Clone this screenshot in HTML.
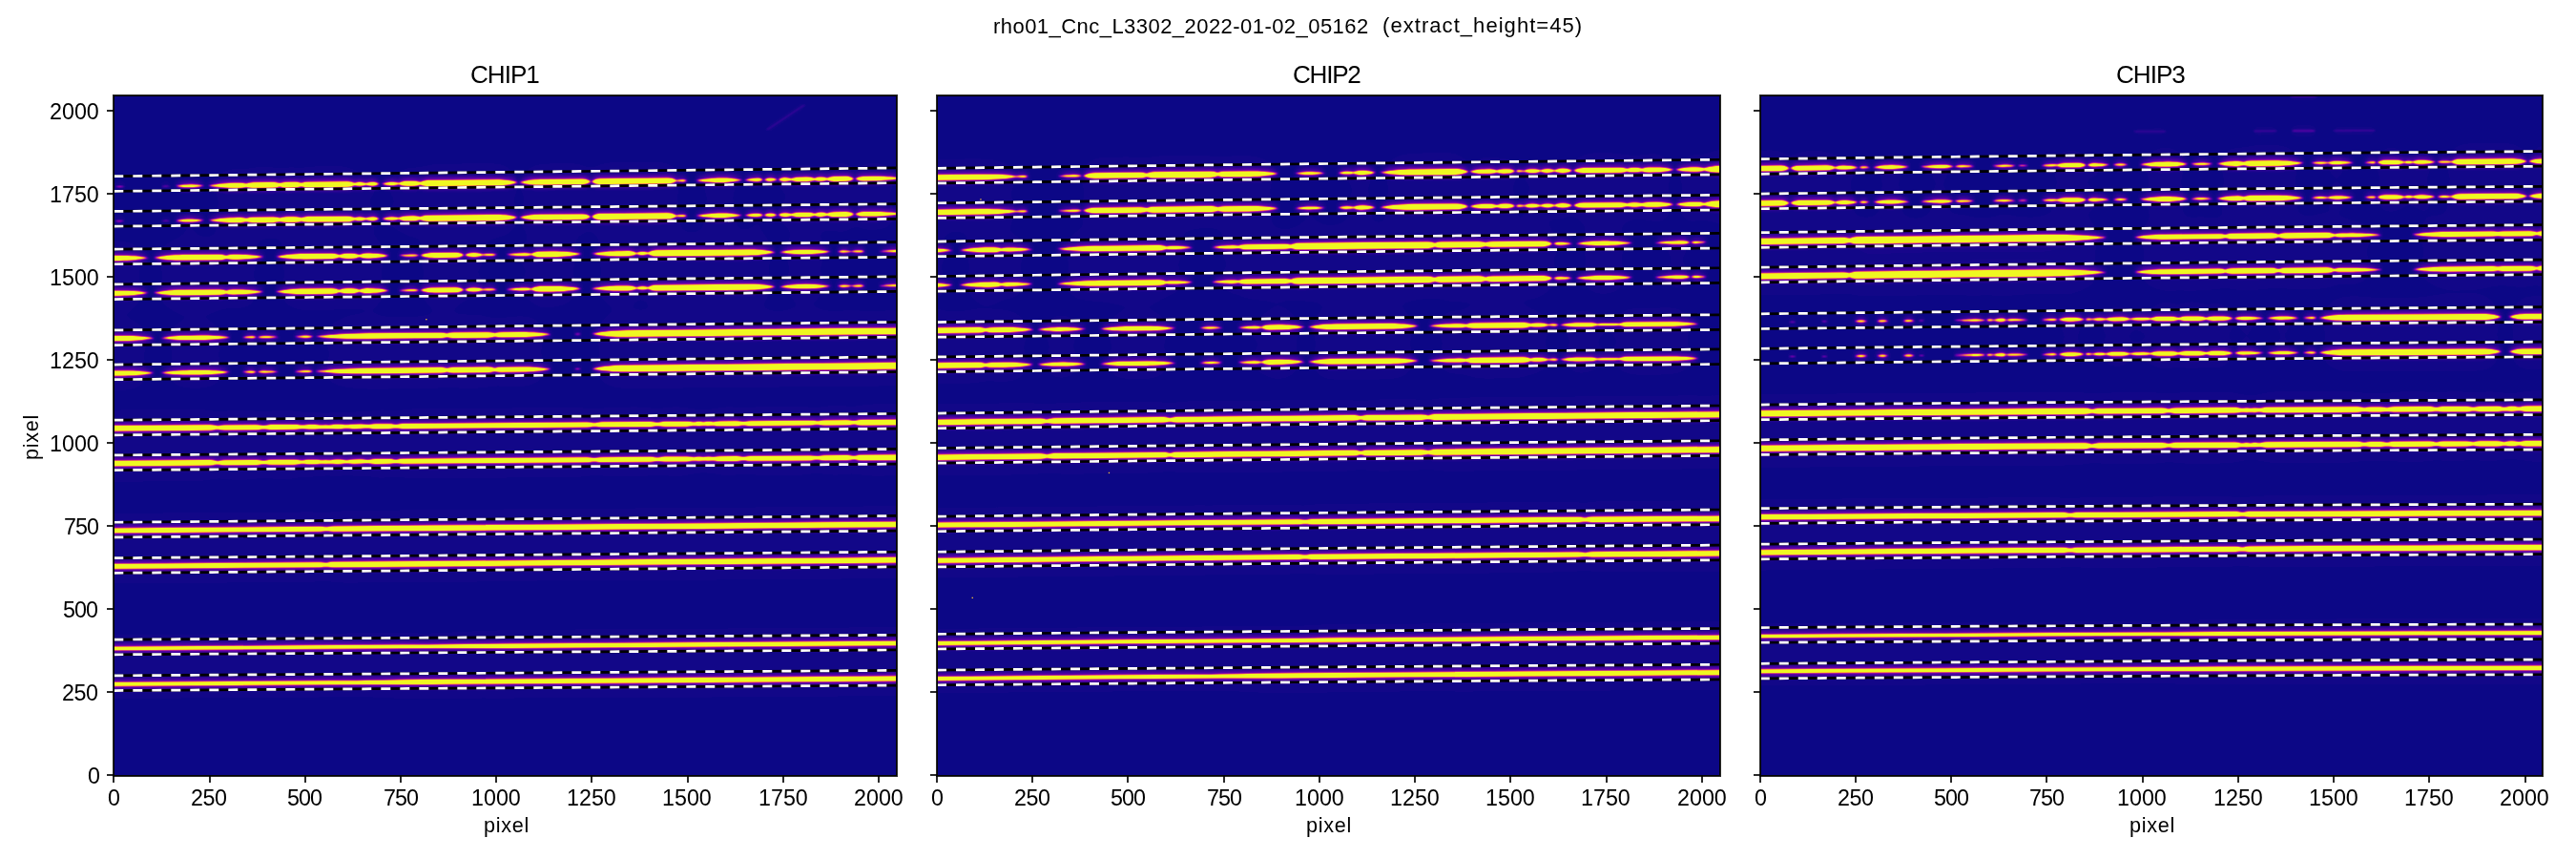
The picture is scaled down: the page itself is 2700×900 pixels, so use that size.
<!DOCTYPE html>
<html><head><meta charset="utf-8"><title>plot</title>
<style>
html,body{margin:0;padding:0;background:#fff;}
body{width:2700px;height:900px;position:relative;overflow:hidden;font-family:"Liberation Sans",sans-serif;color:#000;}
.t{position:absolute;white-space:pre;line-height:1;margin:0;padding:0;}
</style></head><body>
<svg width="2700" height="900" viewBox="0 0 2700 900" style="position:absolute;left:0;top:0"><defs><filter id="pl1" filterUnits="userSpaceOnUse" x="89.1" y="69.71" width="880.97" height="772.87" color-interpolation-filters="sRGB"><feGaussianBlur in="SourceGraphic" stdDeviation="0.9 0" result="b1a"/><feConvolveMatrix in="b1a" order="1 3" kernelMatrix="0.25 0.5 0.25" divisor="1" edgeMode="duplicate" preserveAlpha="true" result="b1"/><feGaussianBlur in="SourceGraphic" stdDeviation="2.5 3.4" result="b2"/><feGaussianBlur in="SourceGraphic" stdDeviation="8.0 14.0" result="b3"/><feComposite in="b1" in2="b2" operator="arithmetic" k1="0" k2="0.66" k3="0.34" k4="0" result="s0"/><feComposite in="s0" in2="b3" operator="arithmetic" k1="0" k2="1" k3="0.035" k4="0" result="s"/><feComponentTransfer in="s"><feFuncR type="table" tableValues="0.0504 0.1060 0.1486 0.1862 0.2212 0.2480 0.2806 0.3125 0.3439 0.3749 0.4055 0.4297 0.4596 0.4891 0.5179 0.5462 0.5736 0.5950 0.6209 0.6459 0.6698 0.6928 0.7149 0.7319 0.7523 0.7720 0.7909 0.8091 0.8266 0.8435 0.8565 0.8723 0.8874 0.9018 0.9155 0.9283 0.9380 0.9492 0.9594 0.9685 0.9764 0.9830 0.9873 0.9914 0.9938 0.9946 0.9935 0.9904 0.9865 0.9796 0.9705 0.9593 0.9466 0.9400 0.9400 0.9400 0.9400 0.9400 0.9400 0.9400 0.9400 0.9400 0.9400 0.9400 0.9400 0.9400 0.9400 0.9400 0.9400 0.9400 0.9400 0.9400 0.9400 0.9400 0.9400 0.9400 0.9400 0.9400 0.9400 0.9400 0.9400 0.9400 0.9400 0.9400 0.9400 0.9400 0.9400 0.9400 0.9400 0.9400 0.9400 0.9400 0.9400 0.9400 0.9400 0.9400"/><feFuncG type="table" tableValues="0.0298 0.0243 0.0212 0.0188 0.0165 0.0144 0.0115 0.0082 0.0050 0.0022 0.0007 0.0008 0.0036 0.0101 0.0216 0.0390 0.0600 0.0772 0.0989 0.1209 0.1430 0.1651 0.1873 0.2050 0.2271 0.2492 0.2713 0.2935 0.3157 0.3381 0.3561 0.3788 0.4018 0.4251 0.4488 0.4730 0.4927 0.5178 0.5434 0.5697 0.5966 0.6241 0.6466 0.6754 0.7047 0.7348 0.7655 0.7969 0.8224 0.8549 0.8879 0.9214 0.9552 0.9752 0.9752 0.9752 0.9752 0.9752 0.9752 0.9752 0.9752 0.9752 0.9752 0.9752 0.9752 0.9752 0.9752 0.9752 0.9752 0.9752 0.9752 0.9752 0.9752 0.9752 0.9752 0.9752 0.9752 0.9752 0.9752 0.9752 0.9752 0.9752 0.9752 0.9752 0.9752 0.9752 0.9752 0.9752 0.9752 0.9752 0.9752 0.9752 0.9752 0.9752 0.9752 0.9752"/><feFuncB type="table" tableValues="0.5280 0.5514 0.5706 0.5872 0.6021 0.6129 0.6250 0.6357 0.6447 0.6519 0.6570 0.6594 0.6603 0.6585 0.6541 0.6470 0.6373 0.6279 0.6143 0.5989 0.5822 0.5645 0.5463 0.5316 0.5131 0.4948 0.4767 0.4589 0.4413 0.4240 0.4103 0.3934 0.3765 0.3597 0.3429 0.3261 0.3126 0.2957 0.2787 0.2617 0.2448 0.2279 0.2146 0.1985 0.1830 0.1689 0.1569 0.1479 0.1436 0.1425 0.1459 0.1516 0.1503 0.1313 0.1313 0.1313 0.1313 0.1313 0.1313 0.1313 0.1313 0.1313 0.1313 0.1313 0.1313 0.1313 0.1313 0.1313 0.1313 0.1313 0.1313 0.1313 0.1313 0.1313 0.1313 0.1313 0.1313 0.1313 0.1313 0.1313 0.1313 0.1313 0.1313 0.1313 0.1313 0.1313 0.1313 0.1313 0.1313 0.1313 0.1313 0.1313 0.1313 0.1313 0.1313 0.1313"/><feFuncA type="linear" slope="0" intercept="1"/></feComponentTransfer></filter><clipPath id="cp1"><rect x="119.1" y="99.71" width="820.97" height="712.87"/></clipPath><filter id="pl2" filterUnits="userSpaceOnUse" x="951.83" y="69.71" width="880.9599999999999" height="772.87" color-interpolation-filters="sRGB"><feGaussianBlur in="SourceGraphic" stdDeviation="0.9 0" result="b1a"/><feConvolveMatrix in="b1a" order="1 3" kernelMatrix="0.25 0.5 0.25" divisor="1" edgeMode="duplicate" preserveAlpha="true" result="b1"/><feGaussianBlur in="SourceGraphic" stdDeviation="2.5 3.4" result="b2"/><feGaussianBlur in="SourceGraphic" stdDeviation="8.0 14.0" result="b3"/><feComposite in="b1" in2="b2" operator="arithmetic" k1="0" k2="0.66" k3="0.34" k4="0" result="s0"/><feComposite in="s0" in2="b3" operator="arithmetic" k1="0" k2="1" k3="0.035" k4="0" result="s"/><feComponentTransfer in="s"><feFuncR type="table" tableValues="0.0504 0.1060 0.1486 0.1862 0.2212 0.2480 0.2806 0.3125 0.3439 0.3749 0.4055 0.4297 0.4596 0.4891 0.5179 0.5462 0.5736 0.5950 0.6209 0.6459 0.6698 0.6928 0.7149 0.7319 0.7523 0.7720 0.7909 0.8091 0.8266 0.8435 0.8565 0.8723 0.8874 0.9018 0.9155 0.9283 0.9380 0.9492 0.9594 0.9685 0.9764 0.9830 0.9873 0.9914 0.9938 0.9946 0.9935 0.9904 0.9865 0.9796 0.9705 0.9593 0.9466 0.9400 0.9400 0.9400 0.9400 0.9400 0.9400 0.9400 0.9400 0.9400 0.9400 0.9400 0.9400 0.9400 0.9400 0.9400 0.9400 0.9400 0.9400 0.9400 0.9400 0.9400 0.9400 0.9400 0.9400 0.9400 0.9400 0.9400 0.9400 0.9400 0.9400 0.9400 0.9400 0.9400 0.9400 0.9400 0.9400 0.9400 0.9400 0.9400 0.9400 0.9400 0.9400 0.9400"/><feFuncG type="table" tableValues="0.0298 0.0243 0.0212 0.0188 0.0165 0.0144 0.0115 0.0082 0.0050 0.0022 0.0007 0.0008 0.0036 0.0101 0.0216 0.0390 0.0600 0.0772 0.0989 0.1209 0.1430 0.1651 0.1873 0.2050 0.2271 0.2492 0.2713 0.2935 0.3157 0.3381 0.3561 0.3788 0.4018 0.4251 0.4488 0.4730 0.4927 0.5178 0.5434 0.5697 0.5966 0.6241 0.6466 0.6754 0.7047 0.7348 0.7655 0.7969 0.8224 0.8549 0.8879 0.9214 0.9552 0.9752 0.9752 0.9752 0.9752 0.9752 0.9752 0.9752 0.9752 0.9752 0.9752 0.9752 0.9752 0.9752 0.9752 0.9752 0.9752 0.9752 0.9752 0.9752 0.9752 0.9752 0.9752 0.9752 0.9752 0.9752 0.9752 0.9752 0.9752 0.9752 0.9752 0.9752 0.9752 0.9752 0.9752 0.9752 0.9752 0.9752 0.9752 0.9752 0.9752 0.9752 0.9752 0.9752"/><feFuncB type="table" tableValues="0.5280 0.5514 0.5706 0.5872 0.6021 0.6129 0.6250 0.6357 0.6447 0.6519 0.6570 0.6594 0.6603 0.6585 0.6541 0.6470 0.6373 0.6279 0.6143 0.5989 0.5822 0.5645 0.5463 0.5316 0.5131 0.4948 0.4767 0.4589 0.4413 0.4240 0.4103 0.3934 0.3765 0.3597 0.3429 0.3261 0.3126 0.2957 0.2787 0.2617 0.2448 0.2279 0.2146 0.1985 0.1830 0.1689 0.1569 0.1479 0.1436 0.1425 0.1459 0.1516 0.1503 0.1313 0.1313 0.1313 0.1313 0.1313 0.1313 0.1313 0.1313 0.1313 0.1313 0.1313 0.1313 0.1313 0.1313 0.1313 0.1313 0.1313 0.1313 0.1313 0.1313 0.1313 0.1313 0.1313 0.1313 0.1313 0.1313 0.1313 0.1313 0.1313 0.1313 0.1313 0.1313 0.1313 0.1313 0.1313 0.1313 0.1313 0.1313 0.1313 0.1313 0.1313 0.1313 0.1313"/><feFuncA type="linear" slope="0" intercept="1"/></feComponentTransfer></filter><clipPath id="cp2"><rect x="981.83" y="99.71" width="820.9599999999999" height="712.87"/></clipPath><filter id="pl3" filterUnits="userSpaceOnUse" x="1814.56" y="69.71" width="880.96" height="772.87" color-interpolation-filters="sRGB"><feGaussianBlur in="SourceGraphic" stdDeviation="0.9 0" result="b1a"/><feConvolveMatrix in="b1a" order="1 3" kernelMatrix="0.25 0.5 0.25" divisor="1" edgeMode="duplicate" preserveAlpha="true" result="b1"/><feGaussianBlur in="SourceGraphic" stdDeviation="2.5 3.4" result="b2"/><feGaussianBlur in="SourceGraphic" stdDeviation="8.0 14.0" result="b3"/><feComposite in="b1" in2="b2" operator="arithmetic" k1="0" k2="0.66" k3="0.34" k4="0" result="s0"/><feComposite in="s0" in2="b3" operator="arithmetic" k1="0" k2="1" k3="0.035" k4="0" result="s"/><feComponentTransfer in="s"><feFuncR type="table" tableValues="0.0504 0.1060 0.1486 0.1862 0.2212 0.2480 0.2806 0.3125 0.3439 0.3749 0.4055 0.4297 0.4596 0.4891 0.5179 0.5462 0.5736 0.5950 0.6209 0.6459 0.6698 0.6928 0.7149 0.7319 0.7523 0.7720 0.7909 0.8091 0.8266 0.8435 0.8565 0.8723 0.8874 0.9018 0.9155 0.9283 0.9380 0.9492 0.9594 0.9685 0.9764 0.9830 0.9873 0.9914 0.9938 0.9946 0.9935 0.9904 0.9865 0.9796 0.9705 0.9593 0.9466 0.9400 0.9400 0.9400 0.9400 0.9400 0.9400 0.9400 0.9400 0.9400 0.9400 0.9400 0.9400 0.9400 0.9400 0.9400 0.9400 0.9400 0.9400 0.9400 0.9400 0.9400 0.9400 0.9400 0.9400 0.9400 0.9400 0.9400 0.9400 0.9400 0.9400 0.9400 0.9400 0.9400 0.9400 0.9400 0.9400 0.9400 0.9400 0.9400 0.9400 0.9400 0.9400 0.9400"/><feFuncG type="table" tableValues="0.0298 0.0243 0.0212 0.0188 0.0165 0.0144 0.0115 0.0082 0.0050 0.0022 0.0007 0.0008 0.0036 0.0101 0.0216 0.0390 0.0600 0.0772 0.0989 0.1209 0.1430 0.1651 0.1873 0.2050 0.2271 0.2492 0.2713 0.2935 0.3157 0.3381 0.3561 0.3788 0.4018 0.4251 0.4488 0.4730 0.4927 0.5178 0.5434 0.5697 0.5966 0.6241 0.6466 0.6754 0.7047 0.7348 0.7655 0.7969 0.8224 0.8549 0.8879 0.9214 0.9552 0.9752 0.9752 0.9752 0.9752 0.9752 0.9752 0.9752 0.9752 0.9752 0.9752 0.9752 0.9752 0.9752 0.9752 0.9752 0.9752 0.9752 0.9752 0.9752 0.9752 0.9752 0.9752 0.9752 0.9752 0.9752 0.9752 0.9752 0.9752 0.9752 0.9752 0.9752 0.9752 0.9752 0.9752 0.9752 0.9752 0.9752 0.9752 0.9752 0.9752 0.9752 0.9752 0.9752"/><feFuncB type="table" tableValues="0.5280 0.5514 0.5706 0.5872 0.6021 0.6129 0.6250 0.6357 0.6447 0.6519 0.6570 0.6594 0.6603 0.6585 0.6541 0.6470 0.6373 0.6279 0.6143 0.5989 0.5822 0.5645 0.5463 0.5316 0.5131 0.4948 0.4767 0.4589 0.4413 0.4240 0.4103 0.3934 0.3765 0.3597 0.3429 0.3261 0.3126 0.2957 0.2787 0.2617 0.2448 0.2279 0.2146 0.1985 0.1830 0.1689 0.1569 0.1479 0.1436 0.1425 0.1459 0.1516 0.1503 0.1313 0.1313 0.1313 0.1313 0.1313 0.1313 0.1313 0.1313 0.1313 0.1313 0.1313 0.1313 0.1313 0.1313 0.1313 0.1313 0.1313 0.1313 0.1313 0.1313 0.1313 0.1313 0.1313 0.1313 0.1313 0.1313 0.1313 0.1313 0.1313 0.1313 0.1313 0.1313 0.1313 0.1313 0.1313 0.1313 0.1313 0.1313 0.1313 0.1313 0.1313 0.1313 0.1313"/><feFuncA type="linear" slope="0" intercept="1"/></feComponentTransfer></filter><clipPath id="cp3"><rect x="1844.56" y="99.71" width="820.96" height="712.87"/></clipPath></defs><g clip-path="url(#cp1)"><g filter="url(#pl1)"><rect x="89.1" y="69.71" width="880.97" height="772.87" fill="#000"/><path fill="#737373" d="M121.4 195.63L122.2 195.43L123.6 195.20L125.5 195.09L127.3 195.16L128.7 195.36L129.5 195.54L129.5 195.54L128.7 195.74L127.3 195.97L125.5 196.08L123.6 196.01L122.2 195.81L121.4 195.63Z"/><path fill="#4c4c4c" d="M169.8 195.10L170.6 194.95L172.2 194.78L174.1 194.68L175.8 194.74L177.2 194.88L177.9 195.02L177.9 195.02L177.2 195.17L175.8 195.34L174.1 195.43L172.2 195.38L170.6 195.24L169.8 195.10Z"/><path fill="#ffffff" d="M184.6 194.94L185.4 194.77L186.8 194.52L188.6 194.26L190.7 194.00L193.2 193.79L195.9 193.63L198.8 193.55L201.8 193.56L204.5 193.66L206.9 193.83L209.1 194.03L210.9 194.26L212.3 194.48L213.1 194.63L213.1 194.63L212.3 194.81L210.9 195.06L209.1 195.32L206.9 195.58L204.5 195.79L201.8 195.95L198.8 196.03L195.9 196.01L193.2 195.91L190.7 195.75L188.6 195.54L186.8 195.32L185.4 195.10L184.6 194.94ZM219.4 194.57L220.4 194.37L222.1 194.08L224.3 193.75L227.0 193.41L230.0 193.08L233.4 192.77L237.0 192.49L240.9 192.26L245.0 192.10L249.4 192.01L251.8 191.98L254.9 192.20L257.6 192.78L259.6 193.52L260.8 194.12L260.8 194.12L259.6 194.74L257.6 195.53L254.9 196.17L251.8 196.45L249.4 196.48L245.0 196.48L240.9 196.40L237.0 196.26L233.4 196.06L230.0 195.82L227.0 195.56L224.3 195.27L222.1 194.99L220.4 194.74L219.4 194.57ZM255.9 194.17L257.0 193.49L259.1 192.61L261.8 191.90L264.9 191.59L286.6 191.36L289.7 191.60L292.4 192.25L294.5 193.08L295.6 193.74L295.6 193.74L294.5 194.43L292.4 195.30L289.7 196.01L286.6 196.32L264.9 196.56L261.8 196.31L259.1 195.66L257.0 194.83L255.9 194.17ZM291.1 193.79L292.2 193.11L294.2 192.23L296.9 191.52L300.1 191.21L309.1 191.11L312.3 191.35L315.0 192.01L317.0 192.84L318.1 193.50L318.1 193.50L317.0 194.18L315.0 195.06L312.3 195.77L309.1 196.08L300.1 196.18L296.9 195.93L294.2 195.28L292.2 194.45L291.1 193.79ZM313.3 193.55L314.4 192.86L316.5 191.99L319.2 191.28L322.3 190.97L364.0 190.52L367.1 190.76L369.8 191.41L371.8 192.24L373.0 192.90L373.0 192.90L371.8 193.59L369.8 194.46L367.1 195.17L364.0 195.48L322.3 195.93L319.2 195.69L316.5 195.04L314.4 194.21L313.3 193.55ZM369.7 192.94L371.1 192.25L373.7 191.49L377.0 191.12L380.3 191.41L382.9 192.12L384.3 192.78L384.3 192.78L382.9 193.47L380.3 194.23L377.0 194.60L373.7 194.30L371.1 193.59L369.7 192.94ZM382.0 192.81L383.1 192.32L385.2 191.70L387.8 191.20L391.0 190.97L393.7 191.27L395.8 191.98L396.9 192.64L396.9 192.64L395.8 193.33L393.7 194.09L391.0 194.45L387.8 194.29L385.2 193.84L383.1 193.26L382.0 192.81ZM401.0 192.60L402.2 192.18L404.4 191.65L407.3 191.21L410.7 191.00L413.9 191.14L416.5 191.52L418.6 192.01L419.7 192.40L419.7 192.40L418.6 192.81L416.5 193.35L413.9 193.78L410.7 193.98L407.3 193.86L404.4 193.48L402.2 192.99L401.0 192.60ZM417.5 192.42L418.6 191.80L420.6 191.01L423.3 190.37L426.5 190.09L433.3 190.02L436.4 190.23L439.1 190.81L441.2 191.56L442.3 192.15L442.3 192.15L441.2 192.77L439.1 193.56L436.4 194.20L433.3 194.48L426.5 194.56L423.3 194.34L420.6 193.76L418.6 193.01L417.5 192.42ZM439.1 192.19L440.2 191.44L442.3 190.47L444.9 189.70L448.1 189.36L520.7 188.57L523.8 188.59L526.8 188.71L529.5 188.90L532.1 189.16L534.5 189.48L536.6 189.82L538.5 190.18L540.1 190.54L541.3 190.86L542.0 191.07L542.0 191.07L541.3 191.30L540.1 191.65L538.5 192.04L536.6 192.44L534.5 192.83L532.1 193.20L529.5 193.51L526.8 193.77L523.8 193.95L520.7 194.03L448.1 194.82L444.9 194.55L442.3 193.83L440.2 192.92L439.1 192.19ZM545.1 191.04L545.8 190.83L547.0 190.51L548.6 190.16L550.5 189.79L552.6 189.43L555.0 189.10L557.6 188.81L560.3 188.57L563.3 188.41L566.4 188.33L610.7 187.85L613.5 188.09L615.8 188.75L617.7 189.58L618.7 190.24L618.7 190.24L617.7 190.93L615.8 191.80L613.5 192.51L610.7 192.81L566.4 193.29L563.3 193.28L560.3 193.18L557.6 193.00L555.0 192.77L552.6 192.48L550.5 192.17L548.6 191.85L547.0 191.53L545.8 191.24L545.1 191.04ZM620.6 190.22L621.6 189.47L623.4 188.51L625.8 187.74L628.6 187.40L700.0 186.63L703.1 186.90L705.8 187.62L707.8 188.54L709.0 189.27L709.0 189.27L707.8 190.02L705.8 190.98L703.1 191.76L700.0 192.09L628.6 192.87L625.8 192.59L623.4 191.87L621.6 190.95L620.6 190.22ZM707.0 189.29L708.2 189.02L710.2 188.67L712.9 188.38L716.0 188.24L717.5 188.40L718.7 188.79L719.3 189.15L719.3 189.15L718.7 189.53L717.5 189.94L716.0 190.14L712.9 190.07L710.2 189.84L708.2 189.53L707.0 189.29ZM730.5 189.03L731.3 188.86L732.8 188.60L734.7 188.31L737.0 188.01L739.6 187.71L742.5 187.44L745.6 187.19L749.0 186.99L752.5 186.85L756.3 186.77L759.3 186.77L762.2 186.85L764.9 186.98L767.4 187.17L769.7 187.39L771.8 187.63L773.7 187.89L775.2 188.14L776.4 188.37L777.1 188.53L777.1 188.53L776.4 188.70L775.2 188.95L773.7 189.24L771.8 189.54L769.7 189.83L767.4 190.10L764.9 190.34L762.2 190.53L759.3 190.67L756.3 190.74L752.5 190.74L749.0 190.67L745.6 190.55L742.5 190.37L739.6 190.15L737.0 189.91L734.7 189.66L732.8 189.41L731.3 189.19L730.5 189.03ZM781.1 188.48L782.1 188.23L783.7 187.88L785.9 187.52L788.5 187.20L791.5 186.96L794.7 186.85L796.8 187.11L798.4 187.72L799.3 188.29L799.3 188.29L798.4 188.87L796.8 189.52L794.7 189.83L791.5 189.78L788.5 189.61L785.9 189.35L783.7 189.03L782.1 188.71L781.1 188.48ZM801.2 188.27L802.4 187.68L804.6 187.02L807.4 186.71L810.5 186.96L812.9 187.56L814.2 188.13L814.2 188.13L812.9 188.72L810.5 189.37L807.4 189.69L804.6 189.44L802.4 188.83L801.2 188.27ZM816.2 188.10L817.3 187.42L819.3 186.66L821.9 186.31L825.0 186.46L827.7 186.91L829.7 187.49L830.9 187.95L830.9 187.95L829.7 188.43L827.7 189.05L825.0 189.55L821.9 189.78L819.3 189.48L817.3 188.76L816.2 188.10ZM828.3 187.97L829.4 187.42L831.5 186.72L834.1 186.15L837.3 185.89L846.0 185.80L849.2 185.98L851.9 186.50L853.9 187.16L855.0 187.68L855.0 187.68L853.9 188.23L851.9 188.94L849.2 189.51L846.0 189.77L837.3 189.86L834.1 189.68L831.5 189.16L829.4 188.50L828.3 187.97ZM852.8 187.71L854.2 186.92L856.9 186.05L860.4 185.64L863.8 185.98L866.5 186.79L867.9 187.54L867.9 187.54L866.5 188.33L863.8 189.20L860.4 189.61L856.9 189.27L854.2 188.46L852.8 187.71ZM865.7 187.57L866.8 186.95L868.9 186.16L871.5 185.52L874.7 185.24L886.8 185.11L889.6 185.32L892.0 185.91L893.8 186.66L894.8 187.25L894.8 187.25L893.8 187.87L892.0 188.66L889.6 189.30L886.8 189.57L874.7 189.71L871.5 189.49L868.9 188.91L866.8 188.16L865.7 187.57ZM896.8 187.23L897.8 186.68L899.7 185.98L902.0 185.41L904.8 185.16L914.4 185.05L918.8 185.05L923.0 185.11L926.9 185.23L930.5 185.40L933.8 185.61L936.8 185.85L939.5 186.09L941.7 186.34L943.5 186.56L944.4 186.72L944.4 186.72L943.5 186.89L941.7 187.15L939.5 187.45L936.8 187.75L933.8 188.05L930.5 188.33L926.9 188.58L923.0 188.79L918.8 188.94L914.4 189.03L904.8 189.13L902.0 188.94L899.7 188.42L897.8 187.76L896.8 187.23Z"/><path fill="#737373" d="M121.4 231.74L122.2 231.54L123.6 231.32L125.5 231.21L127.3 231.29L128.7 231.48L129.5 231.67L129.5 231.67L128.7 231.87L127.3 232.09L125.5 232.20L123.6 232.13L122.2 231.93L121.4 231.74Z"/><path fill="#4c4c4c" d="M169.8 231.29L170.6 231.13L172.2 230.96L174.1 230.87L175.8 230.93L177.2 231.07L177.9 231.21L177.9 231.21L177.2 231.36L175.8 231.53L174.1 231.62L172.2 231.57L170.6 231.42L169.8 231.29Z"/><path fill="#ffffff" d="M184.6 231.15L185.4 230.98L186.8 230.73L188.6 230.47L190.7 230.21L193.2 230.00L195.9 229.85L198.8 229.77L201.8 229.79L204.5 229.89L206.9 230.06L209.1 230.27L210.9 230.50L212.3 230.72L213.1 230.88L213.1 230.88L212.3 231.05L210.9 231.30L209.1 231.56L206.9 231.81L204.5 232.02L201.8 232.18L198.8 232.25L195.9 232.23L193.2 232.13L190.7 231.96L188.6 231.75L186.8 231.52L185.4 231.30L184.6 231.15ZM219.4 230.82L220.4 230.63L222.1 230.34L224.3 230.01L227.0 229.67L230.0 229.34L233.4 229.04L237.0 228.77L240.9 228.54L245.0 228.38L249.4 228.30L251.8 228.28L254.9 228.50L257.6 229.08L259.6 229.83L260.8 230.43L260.8 230.43L259.6 231.04L257.6 231.83L254.9 232.47L251.8 232.75L249.4 232.77L245.0 232.77L240.9 232.69L237.0 232.54L233.4 232.34L230.0 232.09L227.0 231.82L224.3 231.53L222.1 231.25L220.4 230.99L219.4 230.82ZM255.9 230.47L257.0 229.79L259.1 228.92L261.8 228.21L264.9 227.91L286.6 227.70L289.7 227.95L292.4 228.60L294.5 229.44L295.6 230.10L295.6 230.10L294.5 230.78L292.4 231.65L289.7 232.36L286.6 232.67L264.9 232.87L261.8 232.62L259.1 231.97L257.0 231.14L255.9 230.47ZM291.1 230.14L292.2 229.46L294.2 228.59L296.9 227.88L300.1 227.57L309.1 227.49L312.3 227.73L315.0 228.39L317.0 229.22L318.1 229.89L318.1 229.89L317.0 230.57L315.0 231.44L312.3 232.15L309.1 232.45L300.1 232.54L296.9 232.29L294.2 231.64L292.2 230.80L291.1 230.14ZM313.3 229.93L314.4 229.25L316.5 228.38L319.2 227.67L322.3 227.36L364.0 226.97L367.1 227.22L369.8 227.87L371.8 228.70L373.0 229.37L373.0 229.37L371.8 230.05L369.8 230.92L367.1 231.63L364.0 231.94L322.3 232.33L319.2 232.08L316.5 231.43L314.4 230.59L313.3 229.93ZM369.7 229.40L371.1 228.71L373.7 227.95L377.0 227.59L380.3 227.89L382.9 228.60L384.3 229.26L384.3 229.26L382.9 229.95L380.3 230.71L377.0 231.07L373.7 230.77L371.1 230.06L369.7 229.40ZM382.0 229.28L383.1 228.80L385.2 228.18L387.8 227.68L391.0 227.46L393.7 227.76L395.8 228.48L396.9 229.14L396.9 229.14L395.8 229.82L393.7 230.58L391.0 230.93L387.8 230.77L385.2 230.32L383.1 229.74L382.0 229.28ZM401.0 229.10L402.2 228.69L404.4 228.15L407.3 227.72L410.7 227.52L413.9 227.66L416.5 228.04L418.6 228.53L419.7 228.93L419.7 228.93L418.6 229.34L416.5 229.87L413.9 230.30L410.7 230.50L407.3 230.37L404.4 229.99L402.2 229.49L401.0 229.10ZM417.5 228.95L418.6 228.33L420.6 227.54L423.3 226.91L426.5 226.63L433.3 226.56L436.4 226.78L439.1 227.37L441.2 228.12L442.3 228.71L442.3 228.71L441.2 229.33L439.1 230.12L436.4 230.75L433.3 231.03L426.5 231.10L423.3 230.88L420.6 230.29L418.6 229.54L417.5 228.95ZM439.1 228.74L440.2 227.99L442.3 227.03L444.9 226.26L448.1 225.93L520.7 225.24L523.8 225.26L526.8 225.38L529.5 225.58L532.1 225.85L534.5 226.16L536.6 226.51L538.5 226.87L540.1 227.23L541.3 227.55L542.0 227.77L542.0 227.77L541.3 228.00L540.1 228.34L538.5 228.73L536.6 229.13L534.5 229.52L532.1 229.88L529.5 230.19L526.8 230.45L523.8 230.62L520.7 230.70L448.1 231.39L444.9 231.11L442.3 230.39L440.2 229.47L439.1 228.74ZM545.1 227.74L545.8 227.53L547.0 227.22L548.6 226.86L550.5 226.50L552.6 226.14L555.0 225.81L557.6 225.53L560.3 225.30L563.3 225.13L566.4 225.06L610.7 224.64L613.5 224.89L615.8 225.55L617.7 226.38L618.7 227.05L618.7 227.05L617.7 227.73L615.8 228.60L613.5 229.30L610.7 229.60L566.4 230.02L563.3 230.00L560.3 229.90L557.6 229.72L555.0 229.48L552.6 229.20L550.5 228.88L548.6 228.55L547.0 228.23L545.8 227.94L545.1 227.74ZM620.6 227.03L621.6 226.28L623.4 225.32L625.8 224.55L628.6 224.22L700.0 223.55L703.1 223.82L705.8 224.54L707.8 225.46L709.0 226.19L709.0 226.19L707.8 226.94L705.8 227.90L703.1 228.67L700.0 229.01L628.6 229.68L625.8 229.41L623.4 228.68L621.6 227.76L620.6 227.03ZM707.0 226.21L708.2 225.94L710.2 225.60L712.9 225.31L716.0 225.18L717.5 225.34L718.7 225.73L719.3 226.09L719.3 226.09L718.7 226.47L717.5 226.88L716.0 227.08L712.9 227.00L710.2 226.76L708.2 226.46L707.0 226.21ZM730.5 225.99L731.3 225.82L732.8 225.56L734.7 225.27L737.0 224.97L739.6 224.68L742.5 224.41L745.6 224.17L749.0 223.97L752.5 223.83L756.3 223.76L759.3 223.77L762.2 223.85L764.9 223.99L767.4 224.17L769.7 224.40L771.8 224.65L773.7 224.91L775.2 225.16L776.4 225.39L777.1 225.55L777.1 225.55L776.4 225.72L775.2 225.97L773.7 226.26L771.8 226.55L769.7 226.84L767.4 227.11L764.9 227.34L762.2 227.53L759.3 227.66L756.3 227.73L752.5 227.73L749.0 227.66L745.6 227.52L742.5 227.34L739.6 227.12L737.0 226.88L734.7 226.62L732.8 226.37L731.3 226.14L730.5 225.99ZM781.1 225.51L782.1 225.26L783.7 224.91L785.9 224.55L788.5 224.23L791.5 224.00L794.7 223.89L796.8 224.15L798.4 224.77L799.3 225.34L799.3 225.34L798.4 225.92L796.8 226.57L794.7 226.87L791.5 226.83L788.5 226.65L785.9 226.38L783.7 226.06L782.1 225.74L781.1 225.51ZM801.2 225.32L802.4 224.73L804.6 224.08L807.4 223.77L810.5 224.02L812.9 224.63L814.2 225.20L814.2 225.20L812.9 225.79L810.5 226.44L807.4 226.75L804.6 226.50L802.4 225.89L801.2 225.32ZM816.2 225.18L817.3 224.50L819.3 223.74L821.9 223.39L825.0 223.55L827.7 224.00L829.7 224.58L830.9 225.04L830.9 225.04L829.7 225.52L827.7 226.14L825.0 226.64L821.9 226.86L819.3 226.56L817.3 225.84L816.2 225.18ZM828.3 225.06L829.4 224.52L831.5 223.81L834.1 223.24L837.3 222.99L846.0 222.91L849.2 223.10L851.9 223.62L853.9 224.28L855.0 224.81L855.0 224.81L853.9 225.36L851.9 226.06L849.2 226.63L846.0 226.88L837.3 226.97L834.1 226.78L831.5 226.26L829.4 225.59L828.3 225.06ZM852.8 224.83L854.2 224.05L856.9 223.18L860.4 222.78L863.8 223.12L866.5 223.94L867.9 224.69L867.9 224.69L866.5 225.47L863.8 226.34L860.4 226.75L856.9 226.41L854.2 225.59L852.8 224.83ZM865.7 224.71L866.8 224.10L868.9 223.31L871.5 222.67L874.7 222.39L886.8 222.28L889.6 222.50L892.0 223.09L893.8 223.84L894.8 224.44L894.8 224.44L893.8 225.05L892.0 225.84L889.6 226.47L886.8 226.75L874.7 226.86L871.5 226.64L868.9 226.05L866.8 225.31L865.7 224.71ZM896.8 224.42L897.8 223.87L899.7 223.17L902.0 222.60L904.8 222.36L914.4 222.26L918.8 222.26L923.0 222.33L926.9 222.46L930.5 222.63L933.8 222.85L936.8 223.09L939.5 223.34L941.7 223.59L943.5 223.81L944.4 223.97L944.4 223.97L943.5 224.14L941.7 224.40L939.5 224.69L936.8 224.99L933.8 225.29L930.5 225.57L926.9 225.81L923.0 226.01L918.8 226.16L914.4 226.24L904.8 226.33L902.0 226.13L899.7 225.61L897.8 224.95L896.8 224.42Z"/><path fill="#ffffff" d="M94.1 270.69L94.1 269.82L94.1 268.87L94.1 268.45L125.0 268.17L129.4 268.18L133.6 268.26L137.5 268.41L141.1 268.61L144.4 268.86L147.5 269.13L150.1 269.42L152.4 269.70L154.1 269.96L155.0 270.13L155.0 270.13L154.1 270.33L152.4 270.61L150.1 270.94L147.5 271.28L144.4 271.60L141.1 271.91L137.5 272.18L133.6 272.40L129.4 272.56L125.0 272.64L94.1 272.92L94.1 272.50L94.1 271.55L94.1 270.69ZM162.0 270.07L163.0 269.86L164.7 269.54L166.9 269.18L169.6 268.81L172.6 268.45L176.0 268.11L179.6 267.82L183.5 267.58L187.6 267.40L192.0 267.32L230.1 266.97L233.3 267.22L236.0 267.88L238.0 268.71L239.1 269.37L239.1 269.37L238.0 270.06L236.0 270.93L233.3 271.63L230.1 271.94L192.0 272.28L187.6 272.27L183.5 272.18L179.6 272.01L176.0 271.78L172.6 271.50L169.6 271.19L166.9 270.87L164.7 270.55L163.0 270.27L162.0 270.07ZM235.0 269.41L236.1 268.80L238.1 268.01L240.8 267.37L244.0 267.10L245.6 267.08L250.0 267.08L254.2 267.17L258.1 267.32L261.7 267.52L265.0 267.77L268.1 268.04L270.7 268.33L273.0 268.61L274.7 268.87L275.6 269.04L275.6 269.04L274.7 269.23L273.0 269.52L270.7 269.85L268.1 270.18L265.0 270.51L261.7 270.82L258.1 271.09L254.2 271.31L250.0 271.47L245.6 271.55L244.0 271.56L240.8 271.34L238.1 270.76L236.1 270.01L235.0 269.41ZM289.7 268.92L290.7 268.70L292.4 268.38L294.6 268.03L297.3 267.66L300.3 267.29L303.6 266.96L307.3 266.66L311.2 266.42L315.3 266.25L319.7 266.16L347.8 265.91L351.0 266.15L353.7 266.81L355.7 267.64L356.8 268.31L356.8 268.31L355.7 268.99L353.7 269.86L351.0 270.57L347.8 270.87L319.7 271.13L315.3 271.12L311.2 271.02L307.3 270.85L303.6 270.62L300.3 270.35L297.3 270.04L294.6 269.72L292.4 269.40L290.7 269.11L289.7 268.92ZM354.3 268.33L355.4 267.72L357.4 266.93L360.1 266.29L363.3 266.01L368.8 265.96L372.0 266.18L374.6 266.77L376.7 267.52L377.8 268.12L377.8 268.12L376.7 268.73L374.6 269.52L372.0 270.16L368.8 270.43L363.3 270.48L360.1 270.26L357.4 269.68L355.4 268.93L354.3 268.33ZM375.5 268.14L376.7 267.52L378.7 266.74L381.4 266.10L384.5 265.82L387.9 265.84L391.0 265.93L393.9 266.09L396.7 266.30L399.2 266.55L401.5 266.83L403.5 267.13L405.2 267.41L406.5 267.67L407.2 267.85L407.2 267.85L406.5 268.04L405.2 268.33L403.5 268.64L401.5 268.97L399.2 269.30L396.7 269.60L393.9 269.86L391.0 270.07L387.9 270.22L384.5 270.29L381.4 270.07L378.7 269.48L376.7 268.73L375.5 268.14ZM419.3 267.74L420.2 267.58L421.9 267.35L424.0 267.12L426.5 266.91L429.4 266.75L432.5 266.67L435.4 266.83L437.6 267.21L438.9 267.56L438.9 267.56L437.6 267.94L435.4 268.37L432.5 268.57L429.4 268.55L426.5 268.45L424.0 268.28L421.9 268.09L420.2 267.89L419.3 267.74ZM440.9 267.55L441.7 267.25L443.1 266.81L444.9 266.35L447.1 265.92L449.6 265.55L452.4 265.29L455.4 265.18L477.8 264.98L480.6 265.20L483.0 265.79L484.8 266.54L485.8 267.14L485.8 267.14L484.8 267.75L483.0 268.54L480.6 269.17L477.8 269.45L455.4 269.65L452.4 269.59L449.6 269.38L447.1 269.06L444.9 268.67L443.1 268.24L441.7 267.83L440.9 267.55ZM487.4 267.12L488.4 266.64L490.3 266.03L492.6 265.53L495.4 265.31L497.8 265.29L500.9 265.46L503.6 265.91L505.7 266.49L506.8 266.95L506.8 266.95L505.7 267.43L503.6 268.05L500.9 268.55L497.8 268.77L495.4 268.79L492.6 268.62L490.3 268.17L488.4 267.59L487.4 267.12ZM504.5 266.97L505.7 266.70L507.7 266.36L510.4 266.07L513.5 265.94L516.5 266.09L518.8 266.47L520.1 266.83L520.1 266.83L518.8 267.21L516.5 267.63L513.5 267.84L510.4 267.76L507.7 267.53L505.7 267.22L504.5 266.97ZM531.5 266.73L532.2 266.60L533.4 266.42L535.0 266.21L536.9 266.01L539.1 265.81L541.4 265.63L544.0 265.48L546.8 265.38L549.7 265.32L552.9 265.43L555.5 265.75L557.6 266.15L558.7 266.48L558.7 266.48L557.6 266.83L555.5 267.27L552.9 267.64L549.7 267.80L546.8 267.80L544.0 267.74L541.4 267.64L539.1 267.51L536.9 267.35L535.0 267.17L533.4 267.00L532.2 266.84L531.5 266.73ZM556.8 266.50L557.9 265.81L559.9 264.94L562.6 264.24L565.8 263.93L578.7 263.82L583.1 263.82L587.3 263.92L591.2 264.09L594.8 264.32L598.1 264.60L601.2 264.90L603.8 265.23L606.1 265.54L607.8 265.83L608.7 266.03L608.7 266.03L607.8 266.24L606.1 266.56L603.8 266.92L601.2 267.29L598.1 267.65L594.8 267.99L591.2 268.28L587.3 268.52L583.1 268.69L578.7 268.78L565.8 268.90L562.6 268.65L559.9 267.99L557.9 267.16L556.8 266.50ZM620.9 265.92L621.8 265.72L623.6 265.44L625.8 265.11L628.5 264.78L631.5 264.45L634.8 264.14L638.4 263.87L642.3 263.65L646.5 263.49L650.9 263.41L658.7 263.34L661.8 263.56L664.5 264.15L666.6 264.90L667.7 265.49L667.7 265.49L666.6 266.11L664.5 266.89L661.8 267.53L658.7 267.81L650.9 267.88L646.5 267.88L642.3 267.79L638.4 267.64L634.8 267.44L631.5 267.19L628.5 266.92L625.8 266.63L623.6 266.35L621.8 266.09L620.9 265.92ZM666.4 265.50L667.8 264.92L670.3 264.26L673.5 263.95L676.7 264.20L679.2 264.81L680.6 265.38L680.6 265.38L679.2 265.96L676.7 266.62L673.5 266.93L670.3 266.68L667.8 266.07L666.4 265.50ZM678.7 265.39L679.8 264.64L681.8 263.69L684.5 262.91L687.7 262.58L782.9 261.72L787.1 261.73L791.1 261.84L794.9 262.04L798.4 262.29L801.6 262.60L804.6 262.94L807.1 263.30L809.3 263.65L811.0 263.97L811.9 264.19L811.9 264.19L811.0 264.42L809.3 264.77L807.1 265.16L804.6 265.56L801.6 265.96L798.4 266.32L794.9 266.65L791.1 266.91L787.1 267.09L782.9 267.18L687.7 268.04L684.5 267.77L681.8 267.04L679.8 266.12L678.7 265.39ZM817.6 264.14L818.4 263.96L819.9 263.71L821.8 263.42L824.1 263.12L826.7 262.83L829.5 262.56L832.6 262.32L836.0 262.13L839.6 261.99L843.3 261.92L847.2 261.92L850.9 261.99L854.3 262.13L857.6 262.31L860.5 262.53L863.2 262.77L865.6 263.03L867.6 263.28L869.1 263.51L869.9 263.66L869.9 263.66L869.1 263.83L867.6 264.09L865.6 264.38L863.2 264.67L860.5 264.97L857.6 265.24L854.3 265.48L850.9 265.67L847.2 265.82L843.3 265.89L839.6 265.88L836.0 265.81L832.6 265.68L829.5 265.49L826.7 265.27L824.1 265.03L821.8 264.77L819.9 264.52L818.4 264.29L817.6 264.14ZM878.8 263.58L879.8 263.20L881.5 262.79L883.8 262.59L886.9 262.66L889.6 262.90L891.6 263.21L892.8 263.45L892.8 263.45L891.6 263.72L889.6 264.07L886.9 264.35L883.8 264.49L881.5 264.33L879.8 263.94L878.8 263.58ZM892.1 263.46L893.2 263.19L895.3 262.85L898.0 262.56L901.1 262.43L903.1 262.59L904.6 262.98L905.4 263.34L905.4 263.34L904.6 263.71L903.1 264.13L901.1 264.33L898.0 264.25L895.3 264.02L893.2 263.71L892.1 263.46ZM922.4 263.19L923.1 263.10L924.4 262.97L926.1 262.81L928.2 262.66L930.5 262.50L933.0 262.36L935.8 262.23L938.8 262.12L942.0 262.04L945.3 261.99L965.1 261.81L965.1 261.99L965.1 262.42L965.1 262.80L965.1 262.80L965.1 263.18L965.1 263.61L965.1 263.79L945.3 263.97L942.0 263.98L938.8 263.96L935.8 263.90L933.0 263.82L930.5 263.72L928.2 263.61L926.1 263.49L924.4 263.37L923.1 263.26L922.4 263.19Z"/><path fill="#ffffff" d="M94.1 307.47L94.1 306.60L94.1 305.65L94.1 305.23L125.0 304.93L129.4 304.93L133.6 305.01L137.5 305.15L141.1 305.36L144.4 305.60L147.5 305.87L150.1 306.16L152.4 306.44L154.1 306.69L155.0 306.87L155.0 306.87L154.1 307.06L152.4 307.35L150.1 307.68L147.5 308.01L144.4 308.34L141.1 308.65L137.5 308.93L133.6 309.15L129.4 309.31L125.0 309.40L94.1 309.70L94.1 309.28L94.1 308.33L94.1 307.47ZM162.0 306.80L163.0 306.59L164.7 306.27L166.9 305.91L169.6 305.53L172.6 305.17L176.0 304.83L179.6 304.53L183.5 304.29L187.6 304.11L192.0 304.02L230.1 303.64L233.3 303.89L236.0 304.54L238.0 305.38L239.1 306.04L239.1 306.04L238.0 306.72L236.0 307.60L233.3 308.30L230.1 308.61L192.0 308.99L187.6 308.98L183.5 308.89L179.6 308.72L176.0 308.49L172.6 308.22L169.6 307.91L166.9 307.59L164.7 307.28L163.0 306.99L162.0 306.80ZM235.0 306.08L236.1 305.46L238.1 304.68L240.8 304.04L244.0 303.76L245.6 303.74L250.0 303.74L254.2 303.82L258.1 303.97L261.7 304.17L265.0 304.41L268.1 304.68L270.7 304.97L273.0 305.25L274.7 305.51L275.6 305.68L275.6 305.68L274.7 305.87L273.0 306.16L270.7 306.49L268.1 306.83L265.0 307.16L261.7 307.47L258.1 307.74L254.2 307.96L250.0 308.12L245.6 308.21L244.0 308.23L240.8 308.01L238.1 307.42L236.1 306.67L235.0 306.08ZM289.7 305.54L290.7 305.33L292.4 305.01L294.6 304.65L297.3 304.28L300.3 303.91L303.6 303.57L307.3 303.27L311.2 303.03L315.3 302.85L319.7 302.76L347.8 302.49L351.0 302.73L353.7 303.39L355.7 304.22L356.8 304.88L356.8 304.88L355.7 305.56L353.7 306.44L351.0 307.14L347.8 307.45L319.7 307.73L315.3 307.72L311.2 307.63L307.3 307.46L303.6 307.24L300.3 306.96L297.3 306.66L294.6 306.34L292.4 306.02L290.7 305.74L289.7 305.54ZM354.3 304.91L355.4 304.29L357.4 303.50L360.1 302.86L363.3 302.58L368.8 302.53L372.0 302.75L374.6 303.33L376.7 304.08L377.8 304.67L377.8 304.67L376.7 305.29L374.6 306.08L372.0 306.72L368.8 307.00L363.3 307.05L360.1 306.83L357.4 306.25L355.4 305.50L354.3 304.91ZM375.5 304.70L376.7 304.08L378.7 303.29L381.4 302.65L384.5 302.37L387.9 302.38L391.0 302.47L393.9 302.63L396.7 302.84L399.2 303.09L401.5 303.37L403.5 303.66L405.2 303.95L406.5 304.21L407.2 304.39L407.2 304.39L406.5 304.58L405.2 304.86L403.5 305.18L401.5 305.51L399.2 305.84L396.7 306.14L393.9 306.40L391.0 306.62L387.9 306.77L384.5 306.84L381.4 306.63L378.7 306.04L376.7 305.29L375.5 304.70ZM419.3 304.27L420.2 304.10L421.9 303.87L424.0 303.64L426.5 303.42L429.4 303.27L432.5 303.19L435.4 303.34L437.6 303.72L438.9 304.07L438.9 304.07L437.6 304.45L435.4 304.88L432.5 305.09L429.4 305.07L426.5 304.97L424.0 304.80L421.9 304.61L420.2 304.41L419.3 304.27ZM440.9 304.05L441.7 303.75L443.1 303.32L444.9 302.85L447.1 302.42L449.6 302.05L452.4 301.79L455.4 301.68L477.8 301.46L480.6 301.68L483.0 302.27L484.8 303.02L485.8 303.61L485.8 303.61L484.8 304.23L483.0 305.01L480.6 305.65L477.8 305.92L455.4 306.15L452.4 306.09L449.6 305.88L447.1 305.57L444.9 305.17L443.1 304.75L441.7 304.34L440.9 304.05ZM487.4 303.60L488.4 303.11L490.3 302.50L492.6 302.00L495.4 301.78L497.8 301.76L500.9 301.92L503.6 302.37L505.7 302.95L506.8 303.40L506.8 303.40L505.7 303.89L503.6 304.50L500.9 305.01L497.8 305.23L495.4 305.25L492.6 305.09L490.3 304.64L488.4 304.06L487.4 303.60ZM504.5 303.43L505.7 303.16L507.7 302.81L510.4 302.53L513.5 302.39L516.5 302.54L518.8 302.92L520.1 303.27L520.1 303.27L518.8 303.65L516.5 304.08L513.5 304.29L510.4 304.21L507.7 303.98L505.7 303.67L504.5 303.43ZM531.5 303.16L532.2 303.04L533.4 302.85L535.0 302.65L536.9 302.44L539.1 302.24L541.4 302.06L544.0 301.91L546.8 301.80L549.7 301.74L552.9 301.85L555.5 302.16L557.6 302.57L558.7 302.89L558.7 302.89L557.6 303.24L555.5 303.69L552.9 304.05L549.7 304.22L546.8 304.22L544.0 304.17L541.4 304.07L539.1 303.94L536.9 303.78L535.0 303.61L533.4 303.43L532.2 303.27L531.5 303.16ZM556.8 302.91L557.9 302.23L559.9 301.36L562.6 300.65L565.8 300.34L578.7 300.21L583.1 300.22L587.3 300.31L591.2 300.48L594.8 300.71L598.1 300.98L601.2 301.29L603.8 301.61L606.1 301.92L607.8 302.21L608.7 302.40L608.7 302.40L607.8 302.61L606.1 302.93L603.8 303.29L601.2 303.67L598.1 304.03L594.8 304.37L591.2 304.67L587.3 304.91L583.1 305.09L578.7 305.18L565.8 305.31L562.6 305.06L559.9 304.41L557.9 303.57L556.8 302.91ZM620.9 302.28L621.8 302.09L623.6 301.80L625.8 301.47L628.5 301.14L631.5 300.80L634.8 300.50L638.4 300.22L642.3 300.00L646.5 299.84L650.9 299.75L658.7 299.68L661.8 299.89L664.5 300.48L666.6 301.23L667.7 301.82L667.7 301.82L666.6 302.44L664.5 303.23L661.8 303.86L658.7 304.14L650.9 304.22L646.5 304.22L642.3 304.14L638.4 304.00L634.8 303.79L631.5 303.55L628.5 303.28L625.8 302.99L623.6 302.71L621.8 302.46L620.9 302.28ZM666.4 301.83L667.8 301.24L670.3 300.59L673.5 300.27L676.7 300.52L679.2 301.13L680.6 301.69L680.6 301.69L679.2 302.28L676.7 302.94L673.5 303.25L670.3 303.00L667.8 302.40L666.4 301.83ZM678.7 301.71L679.8 300.96L681.8 300.00L684.5 299.23L687.7 298.89L782.9 297.96L787.1 297.97L791.1 298.07L794.9 298.26L798.4 298.52L801.6 298.82L804.6 299.16L807.1 299.52L809.3 299.87L811.0 300.19L811.9 300.40L811.9 300.40L811.0 300.64L809.3 300.98L807.1 301.38L804.6 301.78L801.6 302.18L798.4 302.55L794.9 302.87L791.1 303.14L787.1 303.32L782.9 303.42L687.7 304.36L684.5 304.08L681.8 303.36L679.8 302.44L678.7 301.71ZM817.6 300.35L818.4 300.17L819.9 299.92L821.8 299.63L824.1 299.33L826.7 299.04L829.5 298.76L832.6 298.52L836.0 298.32L839.6 298.18L843.3 298.11L847.2 298.11L850.9 298.18L854.3 298.31L857.6 298.49L860.5 298.70L863.2 298.94L865.6 299.20L867.6 299.45L869.1 299.68L869.9 299.83L869.9 299.83L869.1 300.00L867.6 300.26L865.6 300.55L863.2 300.85L860.5 301.14L857.6 301.42L854.3 301.66L850.9 301.86L847.2 302.00L843.3 302.08L839.6 302.08L836.0 302.01L832.6 301.87L829.5 301.69L826.7 301.48L824.1 301.23L821.8 300.98L819.9 300.73L818.4 300.50L817.6 300.35ZM878.8 299.74L879.8 299.37L881.5 298.95L883.8 298.74L886.9 298.82L889.6 299.05L891.6 299.36L892.8 299.61L892.8 299.61L891.6 299.87L889.6 300.22L886.9 300.51L883.8 300.64L881.5 300.49L879.8 300.10L878.8 299.74ZM892.1 299.61L893.2 299.34L895.3 299.00L898.0 298.71L901.1 298.57L903.1 298.73L904.6 299.12L905.4 299.48L905.4 299.48L904.6 299.86L903.1 300.27L901.1 300.47L898.0 300.40L895.3 300.16L893.2 299.86L892.1 299.61ZM922.4 299.31L923.1 299.23L924.4 299.09L926.1 298.94L928.2 298.78L930.5 298.62L933.0 298.48L935.8 298.34L938.8 298.23L942.0 298.15L945.3 298.10L965.1 297.90L965.1 298.09L965.1 298.51L965.1 298.89L965.1 298.89L965.1 299.28L965.1 299.70L965.1 299.89L945.3 300.08L942.0 300.10L938.8 300.07L935.8 300.02L933.0 299.94L930.5 299.85L928.2 299.73L926.1 299.62L924.4 299.50L923.1 299.39L922.4 299.31Z"/><path fill="#ffffff" d="M94.1 354.86L94.1 353.99L94.1 353.05L94.1 352.62L130.5 352.28L134.9 352.28L139.1 352.36L143.0 352.51L146.6 352.71L149.9 352.96L152.9 353.23L155.6 353.52L157.8 353.80L159.6 354.06L160.5 354.23L160.5 354.23L159.6 354.42L157.8 354.71L155.6 355.04L152.9 355.37L149.9 355.70L146.6 356.01L143.0 356.28L139.1 356.50L134.9 356.66L130.5 356.75L94.1 357.09L94.1 356.67L94.1 355.72L94.1 354.86ZM169.4 354.15L170.4 353.97L172.1 353.72L174.4 353.42L177.0 353.12L180.0 352.83L183.4 352.55L187.0 352.30L190.9 352.10L195.0 351.96L199.4 351.88L210.2 351.77L214.6 351.77L218.7 351.84L222.6 351.97L226.2 352.14L229.6 352.36L232.6 352.60L235.2 352.85L237.5 353.10L239.2 353.32L240.2 353.48L240.2 353.48L239.2 353.65L237.5 353.91L235.2 354.20L232.6 354.50L229.6 354.80L226.2 355.08L222.6 355.32L218.7 355.52L214.6 355.67L210.2 355.75L199.4 355.85L195.0 355.85L190.9 355.78L187.0 355.66L183.4 355.48L180.0 355.27L177.0 355.03L174.4 354.77L172.1 354.53L170.4 354.30L169.4 354.15ZM254.9 353.34L256.1 353.07L258.2 352.72L261.0 352.44L264.3 352.30L266.1 352.46L267.5 352.85L268.3 353.21L268.3 353.21L267.5 353.59L266.1 354.00L264.3 354.20L261.0 354.12L258.2 353.89L256.1 353.58L254.9 353.34ZM270.3 353.19L271.5 352.81L273.6 352.39L276.4 352.18L279.5 352.19L282.3 352.27L284.8 352.39L287.0 352.54L288.9 352.71L290.3 352.88L291.1 353.00L291.1 353.00L290.3 353.13L288.9 353.32L287.0 353.53L284.8 353.72L282.3 353.89L279.5 354.02L276.4 354.08L273.6 353.93L271.5 353.55L270.3 353.19ZM309.7 352.82L310.5 352.66L312.0 352.43L314.0 352.20L316.3 351.99L318.9 351.83L321.8 351.76L324.4 351.91L326.5 352.29L327.6 352.65L327.6 352.65L326.5 353.03L324.4 353.45L321.8 353.66L318.9 353.63L316.3 353.53L314.0 353.36L312.0 353.17L310.5 352.97L309.7 352.82ZM331.0 352.62L332.8 352.40L335.9 352.07L340.1 351.69L344.9 351.30L350.4 350.91L356.5 350.55L363.1 350.22L370.3 349.95L377.8 349.74L385.9 349.62L462.3 348.90L465.5 349.14L468.1 349.80L470.2 350.63L471.3 351.29L471.3 351.29L470.2 351.98L468.1 352.85L465.5 353.56L462.3 353.86L385.9 354.58L377.8 354.61L370.3 354.55L363.1 354.41L356.5 354.21L350.4 353.96L344.9 353.68L340.1 353.38L335.9 353.08L332.8 352.81L331.0 352.62ZM465.8 351.35L467.0 350.66L469.0 349.79L471.7 349.08L474.8 348.78L511.6 348.43L514.8 348.68L517.5 349.33L519.5 350.17L520.6 350.83L520.6 350.83L519.5 351.51L517.5 352.38L514.8 353.09L511.6 353.40L474.8 353.74L471.7 353.50L469.0 352.84L467.0 352.01L465.8 351.35ZM515.8 350.87L516.9 350.26L519.0 349.47L521.7 348.83L524.8 348.55L546.5 348.35L550.9 348.35L555.0 348.43L558.9 348.58L562.6 348.78L565.9 349.03L568.9 349.30L571.6 349.59L573.8 349.87L575.6 350.12L576.5 350.30L576.5 350.30L575.6 350.49L573.8 350.78L571.6 351.11L568.9 351.44L565.9 351.77L562.6 352.08L558.9 352.35L555.0 352.57L550.9 352.73L546.5 352.82L524.8 353.02L521.7 352.80L519.0 352.22L516.9 351.47L515.8 350.87ZM621.3 349.88L622.4 349.62L624.4 349.24L627.1 348.81L630.2 348.36L633.8 347.93L637.7 347.52L642.0 347.17L646.6 346.88L651.5 346.67L656.7 346.56L759.5 345.59L862.3 344.62L965.1 343.65L965.1 344.21L965.1 345.48L965.1 346.63L965.1 346.63L965.1 347.78L965.1 349.04L965.1 349.61L862.3 350.58L759.5 351.55L656.7 352.52L651.5 352.51L646.6 352.40L642.0 352.20L637.7 351.92L633.8 351.59L630.2 351.22L627.1 350.83L624.4 350.45L622.4 350.11L621.3 349.88Z"/><path fill="#808080" d="M603.2 350.05L603.6 349.85L604.4 349.63L605.5 349.53L606.5 349.61L607.3 349.82L607.7 350.00L607.7 350.00L607.3 350.20L606.5 350.42L605.5 350.52L604.4 350.44L603.6 350.24L603.2 350.05Z"/><path fill="#ffffff" d="M94.1 391.30L94.1 390.43L94.1 389.48L94.1 389.06L130.5 388.72L134.9 388.72L139.1 388.80L143.0 388.95L146.6 389.15L149.9 389.39L152.9 389.67L155.6 389.95L157.8 390.24L159.6 390.49L160.5 390.67L160.5 390.67L159.6 390.86L157.8 391.15L155.6 391.47L152.9 391.81L149.9 392.14L146.6 392.45L143.0 392.72L139.1 392.94L134.9 393.10L130.5 393.19L94.1 393.53L94.1 393.11L94.1 392.16L94.1 391.30ZM169.4 390.58L170.4 390.41L172.1 390.15L174.4 389.86L177.0 389.56L180.0 389.26L183.4 388.99L187.0 388.74L190.9 388.54L195.0 388.39L199.4 388.31L210.2 388.21L214.6 388.21L218.7 388.28L222.6 388.40L226.2 388.58L229.6 388.79L232.6 389.03L235.2 389.29L237.5 389.54L239.2 389.76L240.2 389.91L240.2 389.91L239.2 390.09L237.5 390.35L235.2 390.64L232.6 390.94L229.6 391.24L226.2 391.51L222.6 391.76L218.7 391.96L214.6 392.11L210.2 392.18L199.4 392.29L195.0 392.29L190.9 392.22L187.0 392.09L183.4 391.92L180.0 391.70L177.0 391.46L174.4 391.21L172.1 390.96L170.4 390.74L169.4 390.58ZM254.9 389.78L256.1 389.51L258.2 389.16L261.0 388.87L264.3 388.74L266.1 388.90L267.5 389.29L268.3 389.65L268.3 389.65L267.5 390.02L266.1 390.44L264.3 390.64L261.0 390.56L258.2 390.33L256.1 390.02L254.9 389.78ZM270.3 389.63L271.5 389.25L273.6 388.83L276.4 388.62L279.5 388.63L282.3 388.70L284.8 388.82L287.0 388.98L288.9 389.15L290.3 389.32L291.1 389.43L291.1 389.43L290.3 389.57L288.9 389.76L287.0 389.97L284.8 390.16L282.3 390.33L279.5 390.46L276.4 390.52L273.6 390.37L271.5 389.99L270.3 389.63ZM309.7 389.26L310.5 389.10L312.0 388.87L314.0 388.63L316.3 388.43L318.9 388.27L321.8 388.19L324.4 388.35L326.5 388.73L327.6 389.09L327.6 389.09L326.5 389.47L324.4 389.89L321.8 390.09L318.9 390.07L316.3 389.97L314.0 389.80L312.0 389.60L310.5 389.40L309.7 389.26ZM331.0 389.06L332.8 388.84L335.9 388.50L340.1 388.13L344.9 387.73L350.4 387.35L356.5 386.98L363.1 386.66L370.3 386.38L377.8 386.18L385.9 386.06L462.3 385.33L465.5 385.58L468.1 386.24L470.2 387.07L471.3 387.73L471.3 387.73L470.2 388.41L468.1 389.29L465.5 389.99L462.3 390.30L385.9 391.02L377.8 391.05L370.3 390.99L363.1 390.85L356.5 390.65L350.4 390.40L344.9 390.12L340.1 389.82L335.9 389.52L332.8 389.24L331.0 389.06ZM465.8 387.78L467.0 387.10L469.0 386.23L471.7 385.52L474.8 385.21L511.6 384.87L514.8 385.11L517.5 385.77L519.5 386.60L520.6 387.26L520.6 387.26L519.5 387.95L517.5 388.82L514.8 389.53L511.6 389.83L474.8 390.18L471.7 389.93L469.0 389.28L467.0 388.44L465.8 387.78ZM515.8 387.31L516.9 386.69L519.0 385.91L521.7 385.27L524.8 384.99L546.5 384.79L550.9 384.79L555.0 384.87L558.9 385.02L562.6 385.22L565.9 385.46L568.9 385.74L571.6 386.02L573.8 386.31L575.6 386.56L576.5 386.74L576.5 386.74L575.6 386.93L573.8 387.22L571.6 387.54L568.9 387.88L565.9 388.21L562.6 388.52L558.9 388.79L555.0 389.01L550.9 389.17L546.5 389.26L524.8 389.46L521.7 389.24L519.0 388.65L516.9 387.91L515.8 387.31ZM621.3 386.31L622.4 386.06L624.4 385.68L627.1 385.25L630.2 384.80L633.8 384.36L637.7 383.96L642.0 383.60L646.6 383.31L651.5 383.11L656.7 383.00L759.5 382.03L862.3 381.06L965.1 380.09L965.1 380.65L965.1 381.91L965.1 383.07L965.1 383.07L965.1 384.22L965.1 385.48L965.1 386.05L862.3 387.02L759.5 387.99L656.7 388.96L651.5 388.95L646.6 388.84L642.0 388.63L637.7 388.36L633.8 388.03L630.2 387.66L627.1 387.27L624.4 386.89L622.4 386.55L621.3 386.31Z"/><path fill="#808080" d="M603.2 386.48L603.6 386.29L604.4 386.07L605.5 385.97L606.5 386.05L607.3 386.25L607.7 386.44L607.7 386.44L607.3 386.64L606.5 386.86L605.5 386.96L604.4 386.88L603.6 386.67L603.2 386.48Z"/><path fill="#ffffff" d="M94.1 449.08L94.1 448.50L94.1 447.87L94.1 447.59L203.0 446.73L311.8 445.87L420.7 445.02L529.6 444.16L638.5 443.30L747.3 442.45L856.2 441.59L965.1 440.73L965.1 441.01L965.1 441.64L965.1 442.22L965.1 442.22L965.1 442.80L965.1 443.43L965.1 443.71L856.2 444.57L747.3 445.43L638.5 446.28L529.6 447.14L420.7 448.00L311.8 448.85L203.0 449.71L94.1 450.57L94.1 450.29L94.1 449.65L94.1 449.08ZM94.1 449.08L94.1 448.12L94.1 447.07L94.1 446.60L220.5 445.60L223.6 445.85L226.3 446.51L228.3 447.35L229.5 448.01L229.5 448.01L228.3 448.69L226.3 449.56L223.6 450.27L220.5 450.57L94.1 451.56L94.1 451.09L94.1 450.04L94.1 449.08ZM226.2 448.04L227.4 447.42L229.4 446.64L232.1 446.01L235.2 445.73L268.8 445.47L272.0 445.69L274.7 446.28L276.7 447.04L277.8 447.63L277.8 447.63L276.7 448.25L274.7 449.03L272.0 449.66L268.8 449.94L235.2 450.20L232.1 449.98L229.4 449.39L227.4 448.63L226.2 448.04ZM274.6 447.66L275.7 447.04L277.8 446.26L280.5 445.63L283.6 445.35L309.1 445.15L312.3 445.37L315.0 445.97L317.0 446.72L318.1 447.31L318.1 447.31L317.0 447.93L315.0 448.71L312.3 449.35L309.1 449.62L283.6 449.82L280.5 449.60L277.8 449.01L275.7 448.25L274.6 447.66ZM314.9 447.34L316.0 446.79L318.1 446.09L320.8 445.53L323.9 445.28L330.1 445.23L333.3 445.43L335.9 445.95L338.0 446.62L339.1 447.15L339.1 447.15L338.0 447.70L335.9 448.40L333.3 448.96L330.1 449.21L323.9 449.26L320.8 449.06L318.1 448.54L316.0 447.87L314.9 447.34ZM336.8 447.17L337.7 446.49L339.2 445.74L341.2 445.40L343.2 445.71L344.7 446.43L345.6 447.10L345.6 447.10L344.7 447.78L343.2 448.53L341.2 448.87L339.2 448.56L337.7 447.83L336.8 447.17ZM343.3 447.12L344.4 446.57L346.5 445.87L349.1 445.31L352.3 445.06L355.9 445.03L359.1 445.23L361.7 445.75L363.8 446.42L364.9 446.95L364.9 446.95L363.8 447.49L361.7 448.19L359.1 448.76L355.9 449.00L352.3 449.03L349.1 448.84L346.5 448.31L344.4 447.65L343.3 447.12ZM361.7 446.97L362.8 446.42L364.9 445.73L367.5 445.16L370.7 444.91L378.5 444.85L381.6 445.05L384.3 445.57L386.4 446.24L387.5 446.77L387.5 446.77L386.4 447.32L384.3 448.01L381.6 448.58L378.5 448.83L370.7 448.89L367.5 448.69L364.9 448.17L362.8 447.50L361.7 446.97ZM384.3 446.79L385.4 446.18L387.4 445.40L390.1 444.76L393.3 444.49L407.5 444.38L410.7 444.60L413.3 445.19L415.4 445.94L416.5 446.54L416.5 446.54L415.4 447.15L413.3 447.94L410.7 448.57L407.5 448.85L393.3 448.96L390.1 448.73L387.4 448.14L385.4 447.39L384.3 446.79ZM413.3 446.57L414.4 445.95L416.5 445.17L419.1 444.53L422.3 444.26L518.9 443.50L615.5 442.74L618.6 442.96L621.3 443.55L623.4 444.31L624.5 444.90L624.5 444.90L623.4 445.52L621.3 446.30L618.6 446.93L615.5 447.21L518.9 447.97L422.3 448.73L419.1 448.51L416.5 447.91L414.4 447.16L413.3 446.57ZM621.3 444.93L622.4 444.31L624.4 443.53L627.1 442.90L630.3 442.62L681.6 442.22L684.7 442.44L687.4 443.03L689.5 443.79L690.6 444.38L690.6 444.38L689.5 445.00L687.4 445.78L684.7 446.41L681.6 446.69L630.3 447.09L627.1 446.87L624.4 446.28L622.4 445.52L621.3 444.93ZM687.4 444.41L688.5 443.79L690.5 443.01L693.2 442.38L696.4 442.10L720.3 441.91L723.4 442.14L726.1 442.73L728.2 443.48L729.3 444.08L729.3 444.08L728.2 444.69L726.1 445.48L723.4 446.11L720.3 446.38L696.4 446.57L693.2 446.35L690.5 445.76L688.5 445.00L687.4 444.41ZM726.1 444.10L727.3 443.33L729.6 442.46L732.5 442.07L735.4 442.42L737.7 443.24L739.0 444.00L739.0 444.00L737.7 444.78L735.4 445.64L732.5 446.04L729.6 445.69L727.3 444.86L726.1 444.10ZM735.7 444.03L737.0 443.25L739.2 442.39L742.2 441.99L745.1 442.34L747.4 443.17L748.6 443.93L748.6 443.93L747.4 444.70L745.1 445.56L742.2 445.96L739.2 445.61L737.0 444.78L735.7 444.03ZM745.4 443.95L746.5 443.34L748.6 442.55L751.2 441.92L754.4 441.64L771.9 441.51L775.0 441.73L777.7 442.32L779.7 443.07L780.9 443.67L780.9 443.67L779.7 444.29L777.7 445.07L775.0 445.70L771.9 445.98L754.4 446.11L751.2 445.89L748.6 445.30L746.5 444.55L745.4 443.95ZM777.6 443.70L778.8 443.08L780.8 442.30L783.5 441.66L786.6 441.39L849.3 440.90L852.4 441.12L855.1 441.71L857.1 442.47L858.3 443.06L858.3 443.06L857.1 443.68L855.1 444.46L852.4 445.09L849.3 445.37L786.6 445.86L783.5 445.64L780.8 445.04L778.8 444.29L777.6 443.70ZM855.0 443.09L856.2 442.47L858.2 441.69L860.9 441.06L864.0 440.78L888.0 440.59L891.1 440.82L893.8 441.41L895.8 442.16L897.0 442.76L897.0 442.76L895.8 443.37L893.8 444.16L891.1 444.79L888.0 445.06L864.0 445.25L860.9 445.03L858.2 444.44L856.2 443.68L855.0 443.09ZM893.7 442.78L894.9 442.10L896.9 441.23L899.6 440.53L902.7 440.23L965.1 439.74L965.1 440.21L965.1 441.26L965.1 442.22L965.1 442.22L965.1 443.18L965.1 444.23L965.1 444.70L902.7 445.19L899.6 444.94L896.9 444.28L894.9 443.45L893.7 442.78Z"/><path fill="#ffffff" d="M94.1 485.84L94.1 485.26L94.1 484.63L94.1 484.35L203.0 483.49L311.8 482.63L420.7 481.78L529.6 480.92L638.5 480.06L747.3 479.21L856.2 478.35L965.1 477.49L965.1 477.77L965.1 478.40L965.1 478.98L965.1 478.98L965.1 479.56L965.1 480.19L965.1 480.47L856.2 481.33L747.3 482.18L638.5 483.04L529.6 483.90L420.7 484.76L311.8 485.61L203.0 486.47L94.1 487.33L94.1 487.05L94.1 486.41L94.1 485.84ZM94.1 485.84L94.1 484.88L94.1 483.82L94.1 483.36L220.5 482.36L223.6 482.61L226.3 483.27L228.3 484.11L229.5 484.77L229.5 484.77L228.3 485.45L226.3 486.32L223.6 487.03L220.5 487.33L94.1 488.32L94.1 487.85L94.1 486.80L94.1 485.84ZM226.2 484.80L227.4 484.18L229.4 483.40L232.1 482.77L235.2 482.49L268.8 482.23L272.0 482.45L274.7 483.04L276.7 483.80L277.8 484.39L277.8 484.39L276.7 485.01L274.7 485.79L272.0 486.42L268.8 486.70L235.2 486.96L232.1 486.74L229.4 486.15L227.4 485.39L226.2 484.80ZM274.6 484.42L275.7 483.80L277.8 483.02L280.5 482.39L283.6 482.11L309.1 481.91L312.3 482.13L315.0 482.73L317.0 483.48L318.1 484.07L318.1 484.07L317.0 484.69L315.0 485.47L312.3 486.11L309.1 486.38L283.6 486.58L280.5 486.36L277.8 485.77L275.7 485.01L274.6 484.42ZM314.9 484.10L316.0 483.55L318.1 482.85L320.8 482.29L323.9 482.04L330.1 481.99L333.3 482.19L335.9 482.71L338.0 483.38L339.1 483.91L339.1 483.91L338.0 484.46L335.9 485.16L333.3 485.72L330.1 485.97L323.9 486.02L320.8 485.82L318.1 485.30L316.0 484.63L314.9 484.10ZM336.8 483.93L337.7 483.25L339.2 482.50L341.2 482.16L343.2 482.47L344.7 483.19L345.6 483.86L345.6 483.86L344.7 484.54L343.2 485.29L341.2 485.63L339.2 485.32L337.7 484.59L336.8 483.93ZM343.3 483.88L344.4 483.33L346.5 482.63L349.1 482.07L352.3 481.82L355.9 481.79L359.1 481.99L361.7 482.51L363.8 483.18L364.9 483.71L364.9 483.71L363.8 484.25L361.7 484.95L359.1 485.52L355.9 485.76L352.3 485.79L349.1 485.60L346.5 485.07L344.4 484.41L343.3 483.88ZM361.7 483.73L362.8 483.18L364.9 482.49L367.5 481.92L370.7 481.67L378.5 481.61L381.6 481.81L384.3 482.33L386.4 483.00L387.5 483.53L387.5 483.53L386.4 484.08L384.3 484.77L381.6 485.34L378.5 485.59L370.7 485.65L367.5 485.45L364.9 484.93L362.8 484.26L361.7 483.73ZM384.3 483.55L385.4 482.94L387.4 482.16L390.1 481.52L393.3 481.25L407.5 481.14L410.7 481.36L413.3 481.95L415.4 482.70L416.5 483.30L416.5 483.30L415.4 483.91L413.3 484.70L410.7 485.33L407.5 485.61L393.3 485.72L390.1 485.49L387.4 484.90L385.4 484.15L384.3 483.55ZM413.3 483.33L414.4 482.71L416.5 481.93L419.1 481.29L422.3 481.02L518.9 480.26L615.5 479.50L618.6 479.72L621.3 480.31L623.4 481.07L624.5 481.66L624.5 481.66L623.4 482.28L621.3 483.06L618.6 483.69L615.5 483.97L518.9 484.73L422.3 485.49L419.1 485.27L416.5 484.67L414.4 483.92L413.3 483.33ZM621.3 481.69L622.4 481.07L624.4 480.29L627.1 479.66L630.3 479.38L681.6 478.98L684.7 479.20L687.4 479.79L689.5 480.55L690.6 481.14L690.6 481.14L689.5 481.76L687.4 482.54L684.7 483.17L681.6 483.45L630.3 483.85L627.1 483.63L624.4 483.04L622.4 482.28L621.3 481.69ZM687.4 481.17L688.5 480.55L690.5 479.77L693.2 479.14L696.4 478.86L720.3 478.67L723.4 478.90L726.1 479.49L728.2 480.24L729.3 480.84L729.3 480.84L728.2 481.45L726.1 482.24L723.4 482.87L720.3 483.14L696.4 483.33L693.2 483.11L690.5 482.52L688.5 481.76L687.4 481.17ZM726.1 480.86L727.3 480.09L729.6 479.22L732.5 478.83L735.4 479.18L737.7 480.00L739.0 480.76L739.0 480.76L737.7 481.54L735.4 482.40L732.5 482.80L729.6 482.45L727.3 481.62L726.1 480.86ZM735.7 480.79L737.0 480.01L739.2 479.15L742.2 478.75L745.1 479.10L747.4 479.93L748.6 480.68L748.6 480.68L747.4 481.46L745.1 482.32L742.2 482.72L739.2 482.37L737.0 481.54L735.7 480.79ZM745.4 480.71L746.5 480.10L748.6 479.31L751.2 478.68L754.4 478.40L771.9 478.27L775.0 478.49L777.7 479.08L779.7 479.83L780.9 480.43L780.9 480.43L779.7 481.05L777.7 481.83L775.0 482.46L771.9 482.74L754.4 482.87L751.2 482.65L748.6 482.06L746.5 481.31L745.4 480.71ZM777.6 480.46L778.8 479.84L780.8 479.06L783.5 478.42L786.6 478.15L849.3 477.66L852.4 477.88L855.1 478.47L857.1 479.23L858.3 479.82L858.3 479.82L857.1 480.44L855.1 481.22L852.4 481.85L849.3 482.13L786.6 482.62L783.5 482.40L780.8 481.80L778.8 481.05L777.6 480.46ZM855.0 479.85L856.2 479.23L858.2 478.45L860.9 477.82L864.0 477.54L888.0 477.35L891.1 477.58L893.8 478.17L895.8 478.92L897.0 479.52L897.0 479.52L895.8 480.13L893.8 480.92L891.1 481.55L888.0 481.82L864.0 482.01L860.9 481.79L858.2 481.20L856.2 480.44L855.0 479.85ZM893.7 479.54L894.9 478.86L896.9 477.99L899.6 477.29L902.7 476.99L965.1 476.50L965.1 476.97L965.1 478.02L965.1 478.98L965.1 478.98L965.1 479.94L965.1 480.99L965.1 481.46L902.7 481.95L899.6 481.70L896.9 481.04L894.9 480.21L893.7 479.54Z"/><path fill="#ffffff" d="M94.1 556.13L94.1 555.46L94.1 554.72L94.1 554.40L203.0 553.54L311.8 552.68L420.7 551.82L529.6 550.97L638.5 550.11L747.3 549.25L856.2 548.40L965.1 547.54L965.1 547.87L965.1 548.60L965.1 549.28L965.1 549.28L965.1 549.95L965.1 550.69L965.1 551.01L856.2 551.87L747.3 552.73L638.5 553.59L529.6 554.44L420.7 555.30L311.8 556.16L203.0 557.01L94.1 557.87L94.1 557.54L94.1 556.81L94.1 556.13ZM94.1 556.13L94.1 555.27L94.1 554.32L94.1 553.90L174.6 553.27L255.1 552.63L335.6 552.00L338.7 552.22L341.4 552.81L343.5 553.57L344.6 554.16L344.6 554.16L343.5 554.78L341.4 555.56L338.7 556.19L335.6 556.47L255.1 557.10L174.6 557.73L94.1 558.37L94.1 557.95L94.1 557.00L94.1 556.13ZM340.1 554.20L341.2 553.52L343.3 552.65L345.9 551.94L349.1 551.64L451.7 550.84L554.4 550.03L657.1 549.22L759.7 548.41L862.4 547.60L965.1 546.79L965.1 547.26L965.1 548.32L965.1 549.28L965.1 549.28L965.1 550.24L965.1 551.29L965.1 551.76L862.4 552.57L759.7 553.38L657.1 554.18L554.4 554.99L451.7 555.80L349.1 556.61L345.9 556.36L343.3 555.70L341.2 554.86L340.1 554.20Z"/><path fill="#ffffff" d="M94.1 593.60L94.1 592.93L94.1 592.19L94.1 591.86L203.0 590.98L311.8 590.10L420.7 589.22L529.6 588.35L638.5 587.47L747.3 586.59L856.2 585.71L965.1 584.83L965.1 585.16L965.1 585.90L965.1 586.57L965.1 586.57L965.1 587.24L965.1 587.98L965.1 588.31L856.2 589.19L747.3 590.06L638.5 590.94L529.6 591.82L420.7 592.70L311.8 593.58L203.0 594.46L94.1 595.34L94.1 595.01L94.1 594.27L94.1 593.60ZM94.1 593.60L94.1 592.73L94.1 591.79L94.1 591.36L174.6 590.71L255.1 590.06L335.6 589.41L338.7 589.64L341.4 590.23L343.5 590.98L344.6 591.58L344.6 591.58L343.5 592.19L341.4 592.98L338.7 593.61L335.6 593.88L255.1 594.53L174.6 595.18L94.1 595.83L94.1 595.41L94.1 594.46L94.1 593.60ZM340.1 591.61L341.2 590.93L343.3 590.06L345.9 589.36L349.1 589.06L451.7 588.23L554.4 587.40L657.1 586.57L759.7 585.74L862.4 584.91L965.1 584.09L965.1 584.56L965.1 585.61L965.1 586.57L965.1 586.57L965.1 587.53L965.1 588.58L965.1 589.05L862.4 589.88L759.7 590.71L657.1 591.54L554.4 592.37L451.7 593.19L349.1 594.02L345.9 593.77L343.3 593.11L341.2 592.28L340.1 591.61Z"/><path fill="#ffffff" d="M94.1 679.66L94.1 679.03L94.1 678.35L94.1 678.04L203.0 677.32L311.8 676.59L420.7 675.86L529.6 675.13L638.5 674.40L747.3 673.67L856.2 672.94L965.1 672.22L965.1 672.52L965.1 673.21L965.1 673.83L965.1 673.83L965.1 674.45L965.1 675.14L965.1 675.44L856.2 676.17L747.3 676.90L638.5 677.63L529.6 678.36L420.7 679.09L311.8 679.81L203.0 680.54L94.1 681.27L94.1 680.97L94.1 680.28L94.1 679.66ZM373.0 677.79L378.1 677.59L387.4 677.29L399.5 676.94L413.8 676.57L430.0 676.19L447.9 675.82L467.4 675.48L488.3 675.18L510.6 674.92L534.2 674.73L641.9 674.01L749.6 673.28L857.3 672.56L965.1 671.84L965.1 672.22L965.1 673.06L965.1 673.83L965.1 673.83L965.1 674.60L965.1 675.44L965.1 675.82L857.3 676.54L749.6 677.26L641.9 677.98L534.2 678.70L510.6 678.82L488.3 678.86L467.4 678.84L447.9 678.76L430.0 678.63L413.8 678.47L399.5 678.29L387.4 678.10L378.1 677.92L373.0 677.79Z"/><path fill="#ffffff" d="M94.1 717.08L94.1 716.41L94.1 715.67L94.1 715.34L203.0 714.55L311.8 713.75L420.7 712.96L529.6 712.17L638.5 711.38L747.3 710.58L856.2 709.79L965.1 709.00L965.1 709.33L965.1 710.06L965.1 710.73L965.1 710.73L965.1 711.41L965.1 712.14L965.1 712.47L856.2 713.27L747.3 714.06L638.5 714.85L529.6 715.64L420.7 716.44L311.8 717.23L203.0 718.02L94.1 718.82L94.1 718.49L94.1 717.75L94.1 717.08ZM308.5 715.52L313.6 715.30L322.9 714.96L335.0 714.56L349.3 714.15L365.5 713.73L383.4 713.32L402.9 712.94L423.8 712.61L446.1 712.32L469.7 712.11L568.8 711.39L667.8 710.67L766.9 709.94L866.0 709.22L965.1 708.50L965.1 708.92L965.1 709.87L965.1 710.73L965.1 710.73L965.1 711.60L965.1 712.55L965.1 712.97L866.0 713.69L766.9 714.41L667.8 715.13L568.8 715.86L469.7 716.58L446.1 716.71L423.8 716.75L402.9 716.72L383.4 716.62L365.5 716.48L349.3 716.29L335.0 716.08L322.9 715.87L313.6 715.66L308.5 715.52Z"/><path d="M804.0 136.0L843.0 110.0" stroke="#111111" stroke-width="1.2" fill="none"/></g><rect x="446.2" y="334.0" width="1.3" height="1.3" fill="#f5c33a"/><path d="M119.30 184.69L221.87 183.60L324.44 182.51L427.01 181.42L529.59 180.32L632.16 179.23L734.73 178.14L837.30 177.05L939.87 175.96M119.30 200.35L221.87 199.26L324.44 198.17L427.01 197.08L529.59 195.99L632.16 194.90L734.73 193.81L837.30 192.72L939.87 191.63M119.30 221.45L221.87 220.48L324.44 219.51L427.01 218.54L529.59 217.57L632.16 216.60L734.73 215.63L837.30 214.66L939.87 213.69M119.30 237.11L221.87 236.14L324.44 235.17L427.01 234.20L529.59 233.24L632.16 232.27L734.73 231.30L837.30 230.33L939.87 229.36M119.30 261.11L221.87 260.18L324.44 259.25L427.01 258.32L529.59 257.39L632.16 256.46L734.73 255.53L837.30 254.61L939.87 253.68M119.30 276.77L221.87 275.84L324.44 274.92L427.01 273.99L529.59 273.06L632.16 272.13L734.73 271.20L837.30 270.27L939.87 269.34M119.30 297.87L221.87 296.86L324.44 295.85L427.01 294.84L529.59 293.83L632.16 292.82L734.73 291.81L837.30 290.80L939.87 289.79M119.30 313.53L221.87 312.52L324.44 311.51L427.01 310.51L529.59 309.50L632.16 308.49L734.73 307.48L837.30 306.47L939.87 305.46M119.30 345.91L221.87 344.86L324.44 343.81L427.01 342.76L529.59 341.71L632.16 340.66L734.73 339.61L837.30 338.56L939.87 337.51M119.30 361.58L221.87 360.53L324.44 359.48L427.01 358.43L529.59 357.38L632.16 356.33L734.73 355.28L837.30 354.23L939.87 353.18M119.30 382.03L221.87 381.02L324.44 380.01L427.01 379.00L529.59 377.99L632.16 376.98L734.73 375.97L837.30 374.96L939.87 373.95M119.30 397.70L221.87 396.69L324.44 395.68L427.01 394.67L529.59 393.66L632.16 392.65L734.73 391.64L837.30 390.63L939.87 389.62M119.30 440.17L221.87 439.33L324.44 438.48L427.01 437.63L529.59 436.78L632.16 435.93L734.73 435.09L837.30 434.24L939.87 433.39M119.30 455.84L221.87 454.99L324.44 454.14L427.01 453.30L529.59 452.45L632.16 451.60L734.73 450.75L837.30 449.90L939.87 449.06M119.30 476.93L221.87 476.13L324.44 475.32L427.01 474.51L529.59 473.70L632.16 472.90L734.73 472.09L837.30 471.28L939.87 470.47M119.30 492.60L221.87 491.79L324.44 490.99L427.01 490.18L529.59 489.37L632.16 488.56L734.73 487.75L837.30 486.95L939.87 486.14M119.30 547.23L221.87 546.38L324.44 545.53L427.01 544.69L529.59 543.84L632.16 542.99L734.73 542.14L837.30 541.29L939.87 540.45M119.30 562.90L221.87 562.05L324.44 561.20L427.01 560.35L529.59 559.50L632.16 558.66L734.73 557.81L837.30 556.96L939.87 556.11M119.30 584.69L221.87 583.88L324.44 583.07L427.01 582.27L529.59 581.46L632.16 580.65L734.73 579.84L837.30 579.03L939.87 578.23M119.30 600.35L221.87 599.55L324.44 598.74L427.01 597.93L529.59 597.12L632.16 596.32L734.73 595.51L837.30 594.70L939.87 593.89M119.30 670.14L221.87 669.53L324.44 668.93L427.01 668.32L529.59 667.72L632.16 667.11L734.73 666.50L837.30 665.90L939.87 665.29M119.30 685.80L221.87 685.20L324.44 684.59L427.01 683.99L529.59 683.38L632.16 682.78L734.73 682.17L837.30 681.56L939.87 680.96M119.30 707.87L221.87 707.18L324.44 706.49L427.01 705.81L529.59 705.12L632.16 704.43L734.73 703.75L837.30 703.06L939.87 702.37M119.30 723.53L221.87 722.85L324.44 722.16L427.01 721.47L529.59 720.79L632.16 720.10L734.73 719.41L837.30 718.73L939.87 718.04" stroke="#000" stroke-width="2.7" fill="none"/><path d="M119.30 184.69L221.87 183.60L324.44 182.51L427.01 181.42L529.59 180.32L632.16 179.23L734.73 178.14L837.30 177.05L939.87 175.96M119.30 200.35L221.87 199.26L324.44 198.17L427.01 197.08L529.59 195.99L632.16 194.90L734.73 193.81L837.30 192.72L939.87 191.63M119.30 221.45L221.87 220.48L324.44 219.51L427.01 218.54L529.59 217.57L632.16 216.60L734.73 215.63L837.30 214.66L939.87 213.69M119.30 237.11L221.87 236.14L324.44 235.17L427.01 234.20L529.59 233.24L632.16 232.27L734.73 231.30L837.30 230.33L939.87 229.36M119.30 261.11L221.87 260.18L324.44 259.25L427.01 258.32L529.59 257.39L632.16 256.46L734.73 255.53L837.30 254.61L939.87 253.68M119.30 276.77L221.87 275.84L324.44 274.92L427.01 273.99L529.59 273.06L632.16 272.13L734.73 271.20L837.30 270.27L939.87 269.34M119.30 297.87L221.87 296.86L324.44 295.85L427.01 294.84L529.59 293.83L632.16 292.82L734.73 291.81L837.30 290.80L939.87 289.79M119.30 313.53L221.87 312.52L324.44 311.51L427.01 310.51L529.59 309.50L632.16 308.49L734.73 307.48L837.30 306.47L939.87 305.46M119.30 345.91L221.87 344.86L324.44 343.81L427.01 342.76L529.59 341.71L632.16 340.66L734.73 339.61L837.30 338.56L939.87 337.51M119.30 361.58L221.87 360.53L324.44 359.48L427.01 358.43L529.59 357.38L632.16 356.33L734.73 355.28L837.30 354.23L939.87 353.18M119.30 382.03L221.87 381.02L324.44 380.01L427.01 379.00L529.59 377.99L632.16 376.98L734.73 375.97L837.30 374.96L939.87 373.95M119.30 397.70L221.87 396.69L324.44 395.68L427.01 394.67L529.59 393.66L632.16 392.65L734.73 391.64L837.30 390.63L939.87 389.62M119.30 440.17L221.87 439.33L324.44 438.48L427.01 437.63L529.59 436.78L632.16 435.93L734.73 435.09L837.30 434.24L939.87 433.39M119.30 455.84L221.87 454.99L324.44 454.14L427.01 453.30L529.59 452.45L632.16 451.60L734.73 450.75L837.30 449.90L939.87 449.06M119.30 476.93L221.87 476.13L324.44 475.32L427.01 474.51L529.59 473.70L632.16 472.90L734.73 472.09L837.30 471.28L939.87 470.47M119.30 492.60L221.87 491.79L324.44 490.99L427.01 490.18L529.59 489.37L632.16 488.56L734.73 487.75L837.30 486.95L939.87 486.14M119.30 547.23L221.87 546.38L324.44 545.53L427.01 544.69L529.59 543.84L632.16 542.99L734.73 542.14L837.30 541.29L939.87 540.45M119.30 562.90L221.87 562.05L324.44 561.20L427.01 560.35L529.59 559.50L632.16 558.66L734.73 557.81L837.30 556.96L939.87 556.11M119.30 584.69L221.87 583.88L324.44 583.07L427.01 582.27L529.59 581.46L632.16 580.65L734.73 579.84L837.30 579.03L939.87 578.23M119.30 600.35L221.87 599.55L324.44 598.74L427.01 597.93L529.59 597.12L632.16 596.32L734.73 595.51L837.30 594.70L939.87 593.89M119.30 670.14L221.87 669.53L324.44 668.93L427.01 668.32L529.59 667.72L632.16 667.11L734.73 666.50L837.30 665.90L939.87 665.29M119.30 685.80L221.87 685.20L324.44 684.59L427.01 683.99L529.59 683.38L632.16 682.78L734.73 682.17L837.30 681.56L939.87 680.96M119.30 707.87L221.87 707.18L324.44 706.49L427.01 705.81L529.59 705.12L632.16 704.43L734.73 703.75L837.30 703.06L939.87 702.37M119.30 723.53L221.87 722.85L324.44 722.16L427.01 721.47L529.59 720.79L632.16 720.10L734.73 719.41L837.30 718.73L939.87 718.04" stroke="#fff" stroke-width="2.7" fill="none" stroke-dasharray="10.0 10.0"/></g><g shape-rendering="crispEdges" fill="none"><rect x="118.5" y="99.5" width="822" height="714" stroke="#2a2a2a" stroke-width="1"/><rect x="119.5" y="100.5" width="820" height="712" stroke="#040404" stroke-width="1"/></g><path shape-rendering="crispEdges" d="M118 814h1v6h-1zM119 814h1v6h-1zM219 814h1v6h-1zM220 814h1v6h-1zM319 814h1v6h-1zM320 814h1v6h-1zM419 814h1v6h-1zM420 814h1v6h-1zM519 814h1v6h-1zM520 814h1v6h-1zM619 814h1v6h-1zM620 814h1v6h-1zM720 814h1v6h-1zM721 814h1v6h-1zM820 814h1v6h-1zM821 814h1v6h-1zM920 814h1v6h-1zM921 814h1v6h-1zM112 115h6v1h-6zM112 116h6v1h-6zM112 202h6v1h-6zM112 203h6v1h-6zM112 289h6v1h-6zM112 290h6v1h-6zM112 376h6v1h-6zM112 377h6v1h-6zM112 463h6v1h-6zM112 464h6v1h-6zM112 550h6v1h-6zM112 551h6v1h-6zM112 637h6v1h-6zM112 638h6v1h-6zM112 724h6v1h-6zM112 725h6v1h-6zM112 811h6v1h-6zM112 812h6v1h-6z" fill="#2a2a2a"/><path shape-rendering="crispEdges" d="M118 813h1v1h-1zM119 813h1v1h-1zM219 813h1v1h-1zM220 813h1v1h-1zM319 813h1v1h-1zM320 813h1v1h-1zM419 813h1v1h-1zM420 813h1v1h-1zM519 813h1v1h-1zM520 813h1v1h-1zM619 813h1v1h-1zM620 813h1v1h-1zM720 813h1v1h-1zM721 813h1v1h-1zM820 813h1v1h-1zM821 813h1v1h-1zM920 813h1v1h-1zM921 813h1v1h-1zM118 115h1v1h-1zM118 116h1v1h-1zM118 202h1v1h-1zM118 203h1v1h-1zM118 289h1v1h-1zM118 290h1v1h-1zM118 376h1v1h-1zM118 377h1v1h-1zM118 463h1v1h-1zM118 464h1v1h-1zM118 550h1v1h-1zM118 551h1v1h-1zM118 637h1v1h-1zM118 638h1v1h-1zM118 724h1v1h-1zM118 725h1v1h-1zM118 811h1v1h-1zM118 812h1v1h-1z" fill="#070707"/><g clip-path="url(#cp2)"><g filter="url(#pl2)"><rect x="951.83" y="69.71" width="880.9599999999999" height="772.87" fill="#000"/><path fill="#ffffff" d="M956.8 186.25L956.8 185.29L956.8 184.23L956.8 183.76L1029.6 182.93L1035.2 182.91L1040.6 182.98L1045.6 183.12L1050.3 183.33L1054.6 183.59L1058.5 183.87L1061.9 184.18L1064.8 184.48L1067.1 184.76L1068.3 184.95L1068.3 184.95L1067.1 185.17L1064.8 185.50L1061.9 185.87L1058.5 186.26L1054.6 186.64L1050.3 186.99L1045.6 187.31L1040.6 187.58L1035.2 187.78L1029.6 187.89L956.8 188.73L956.8 188.26L956.8 187.21L956.8 186.25ZM1064.4 185.00L1065.5 184.72L1067.6 184.37L1070.3 184.08L1073.4 183.94L1074.9 184.10L1076.1 184.49L1076.7 184.85L1076.7 184.85L1076.1 185.22L1074.9 185.64L1073.4 185.84L1070.3 185.77L1067.6 185.54L1065.5 185.24L1064.4 185.00ZM1109.8 184.46L1110.6 184.34L1112.0 184.17L1113.8 183.98L1115.9 183.78L1118.3 183.60L1121.0 183.45L1123.9 183.34L1127.0 183.27L1130.1 183.42L1132.4 183.82L1133.7 184.19L1133.7 184.19L1132.4 184.58L1130.1 185.03L1127.0 185.26L1123.9 185.26L1121.0 185.22L1118.3 185.13L1115.9 185.00L1113.8 184.86L1112.0 184.71L1110.6 184.56L1109.8 184.46ZM1135.7 184.16L1136.8 183.64L1138.7 182.94L1141.1 182.27L1144.0 181.77L1147.3 181.55L1195.4 181.00L1198.5 181.24L1201.2 181.89L1203.2 182.72L1204.4 183.38L1204.4 183.38L1203.2 184.06L1201.2 184.94L1198.5 185.65L1195.4 185.96L1147.3 186.51L1144.0 186.37L1141.1 185.93L1138.7 185.32L1136.8 184.66L1135.7 184.16ZM1199.8 183.43L1201.0 182.68L1203.0 181.72L1205.7 180.94L1208.8 180.60L1269.5 179.92L1272.7 180.19L1275.3 180.91L1277.4 181.82L1278.5 182.55L1278.5 182.55L1277.4 183.30L1275.3 184.26L1272.7 185.04L1269.5 185.38L1208.8 186.06L1205.7 185.79L1203.0 185.07L1201.0 184.16L1199.8 183.43ZM1274.0 182.60L1275.1 181.91L1277.2 181.04L1279.9 180.33L1283.0 180.02L1309.5 179.73L1313.9 179.73L1318.1 179.82L1322.0 179.98L1325.6 180.20L1328.9 180.47L1331.9 180.77L1334.6 181.09L1336.9 181.41L1338.6 181.69L1339.5 181.88L1339.5 181.88L1338.6 182.10L1336.9 182.42L1334.6 182.78L1331.9 183.16L1328.9 183.52L1325.6 183.87L1322.0 184.17L1318.1 184.42L1313.9 184.60L1309.5 184.69L1283.0 184.98L1279.9 184.74L1277.2 184.09L1275.1 183.26L1274.0 182.60ZM1358.1 181.68L1358.9 181.51L1360.4 181.26L1362.3 180.99L1364.5 180.74L1367.1 180.52L1369.9 180.36L1373.0 180.28L1376.1 180.30L1378.9 180.40L1381.5 180.56L1383.7 180.76L1385.6 180.99L1387.1 181.21L1387.9 181.36L1387.9 181.36L1387.1 181.54L1385.6 181.79L1383.7 182.05L1381.5 182.31L1378.9 182.52L1376.1 182.68L1373.0 182.76L1369.9 182.75L1367.1 182.65L1364.5 182.49L1362.3 182.28L1360.4 182.06L1358.9 181.84L1358.1 181.68ZM1403.3 181.20L1404.4 180.85L1406.4 180.41L1409.0 180.04L1412.1 179.87L1415.2 179.97L1417.9 180.28L1419.9 180.69L1421.1 181.01L1421.1 181.01L1419.9 181.36L1417.9 181.81L1415.2 182.18L1412.1 182.35L1409.0 182.24L1406.4 181.93L1404.4 181.53L1403.3 181.20ZM1417.8 181.05L1419.0 180.50L1421.0 179.79L1423.7 179.22L1426.8 178.97L1429.8 179.01L1432.5 179.19L1434.9 179.47L1437.1 179.81L1438.9 180.19L1440.3 180.55L1441.1 180.80L1441.1 180.80L1440.3 181.07L1438.9 181.46L1437.1 181.88L1434.9 182.27L1432.5 182.60L1429.8 182.83L1426.8 182.94L1423.7 182.75L1421.0 182.23L1419.0 181.57L1417.8 181.05ZM1447.2 180.74L1448.3 180.50L1450.3 180.15L1453.0 179.75L1456.1 179.34L1459.7 178.93L1463.7 178.55L1467.9 178.22L1472.6 177.94L1477.5 177.75L1482.6 177.64L1524.4 177.21L1527.4 177.29L1530.1 177.54L1532.6 177.94L1534.8 178.42L1536.7 178.95L1538.1 179.45L1538.9 179.80L1538.9 179.80L1538.1 180.17L1536.7 180.69L1534.8 181.26L1532.6 181.78L1530.1 182.23L1527.4 182.54L1524.4 182.68L1482.6 183.10L1477.5 183.10L1472.6 183.01L1467.9 182.83L1463.7 182.58L1459.7 182.29L1456.1 181.96L1453.0 181.61L1450.3 181.26L1448.3 180.95L1447.2 180.74ZM1540.9 179.78L1541.7 179.51L1543.1 179.12L1545.0 178.71L1547.1 178.32L1549.6 177.99L1552.4 177.75L1555.4 177.65L1561.4 177.59L1564.5 177.77L1567.2 178.29L1569.2 178.95L1570.4 179.48L1570.4 179.48L1569.2 180.03L1567.2 180.73L1564.5 181.31L1561.4 181.56L1555.4 181.62L1552.4 181.57L1549.6 181.39L1547.1 181.11L1545.0 180.77L1543.1 180.39L1541.7 180.03L1540.9 179.78ZM1567.4 179.51L1568.6 178.96L1570.6 178.26L1573.3 177.69L1576.4 177.43L1579.7 177.40L1582.5 177.59L1584.9 178.12L1586.7 178.78L1587.7 179.31L1587.7 179.31L1586.7 179.86L1584.9 180.56L1582.5 181.13L1579.7 181.37L1576.4 181.41L1573.3 181.22L1570.6 180.70L1568.6 180.04L1567.4 179.51ZM1589.7 179.29L1589.9 178.92L1590.2 178.51L1590.7 178.33L1593.6 178.41L1596.1 178.64L1598.0 178.95L1599.0 179.20L1599.0 179.20L1598.0 179.46L1596.1 179.81L1593.6 180.09L1590.7 180.23L1590.2 180.05L1589.9 179.65L1589.7 179.29ZM1597.1 179.22L1598.2 178.73L1600.3 178.12L1603.0 177.61L1606.1 177.39L1606.5 177.38L1609.6 177.55L1612.3 178.00L1614.4 178.57L1615.5 179.03L1615.5 179.03L1614.4 179.52L1612.3 180.13L1609.6 180.64L1606.5 180.86L1606.1 180.86L1603.0 180.70L1600.3 180.25L1598.2 179.68L1597.1 179.22ZM1614.2 179.05L1615.7 178.36L1618.5 177.59L1622.1 177.23L1625.7 177.52L1628.5 178.23L1630.0 178.89L1630.0 178.89L1628.5 179.58L1625.7 180.34L1622.1 180.71L1618.5 180.41L1615.7 179.70L1614.2 179.05ZM1628.7 178.90L1629.8 178.36L1631.9 177.65L1634.6 177.08L1637.7 176.83L1638.0 176.83L1641.4 177.02L1644.3 177.53L1646.5 178.19L1647.7 178.72L1647.7 178.72L1646.5 179.27L1644.3 179.97L1641.4 180.55L1638.0 180.80L1637.7 180.80L1634.6 180.61L1631.9 180.09L1629.8 179.43L1628.7 178.90ZM1649.7 178.70L1650.9 178.08L1653.1 177.29L1656.0 176.65L1659.4 176.37L1698.4 176.00L1701.5 176.22L1704.2 176.80L1706.3 177.55L1707.4 178.15L1707.4 178.15L1706.3 178.76L1704.2 179.55L1701.5 180.19L1698.4 180.47L1659.4 180.84L1656.0 180.62L1653.1 180.04L1650.9 179.29L1649.7 178.70ZM1702.9 178.19L1704.0 177.64L1706.1 176.94L1708.7 176.37L1711.9 176.12L1714.5 176.09L1717.7 176.28L1720.3 176.80L1722.4 177.47L1723.5 177.99L1723.5 177.99L1722.4 178.54L1720.3 179.24L1717.7 179.81L1714.5 180.06L1711.9 180.09L1708.7 179.90L1706.1 179.38L1704.0 178.72L1702.9 178.19ZM1719.0 178.04L1720.1 177.42L1722.2 176.63L1724.8 175.99L1728.0 175.72L1734.5 175.65L1737.7 175.68L1740.6 175.80L1743.4 175.99L1745.9 176.25L1748.2 176.55L1750.2 176.88L1751.9 177.21L1753.2 177.50L1753.9 177.71L1753.9 177.71L1753.2 177.93L1751.9 178.25L1750.2 178.61L1748.2 178.97L1745.9 179.31L1743.4 179.62L1740.6 179.87L1737.7 180.04L1734.5 180.12L1728.0 180.19L1724.8 179.97L1722.2 179.38L1720.1 178.63L1719.0 178.04ZM1756.3 177.68L1757.1 177.49L1758.4 177.20L1760.1 176.88L1762.1 176.56L1764.4 176.25L1766.9 175.98L1769.6 175.75L1772.6 175.59L1775.7 175.52L1779.0 175.49L1782.2 175.68L1784.8 176.20L1786.9 176.86L1788.0 177.39L1788.0 177.39L1786.9 177.94L1784.8 178.64L1782.2 179.21L1779.0 179.46L1775.7 179.49L1772.6 179.47L1769.6 179.37L1766.9 179.20L1764.4 178.97L1762.1 178.71L1760.1 178.42L1758.4 178.13L1757.1 177.87L1756.3 177.68ZM1783.5 177.43L1784.2 177.14L1785.5 176.72L1787.2 176.25L1789.2 175.77L1791.5 175.32L1794.0 174.92L1796.8 174.60L1799.7 174.37L1802.8 174.27L1827.8 174.01L1827.8 174.57L1827.8 175.84L1827.8 176.99L1827.8 176.99L1827.8 178.14L1827.8 179.40L1827.8 179.97L1802.8 180.23L1799.7 180.19L1796.8 180.02L1794.0 179.75L1791.5 179.40L1789.2 178.99L1787.2 178.55L1785.5 178.11L1784.2 177.71L1783.5 177.43Z"/><path fill="#ffffff" d="M956.8 222.68L956.8 221.72L956.8 220.67L956.8 220.20L1029.6 219.36L1035.2 219.34L1040.6 219.41L1045.6 219.56L1050.3 219.77L1054.6 220.02L1058.5 220.31L1061.9 220.62L1064.8 220.92L1067.1 221.20L1068.3 221.39L1068.3 221.39L1067.1 221.61L1064.8 221.93L1061.9 222.31L1058.5 222.69L1054.6 223.07L1050.3 223.43L1045.6 223.75L1040.6 224.02L1035.2 224.21L1029.6 224.33L956.8 225.17L956.8 224.70L956.8 223.64L956.8 222.68ZM1064.4 221.43L1065.5 221.16L1067.6 220.81L1070.3 220.52L1073.4 220.38L1074.9 220.54L1076.1 220.93L1076.7 221.29L1076.7 221.29L1076.1 221.66L1074.9 222.08L1073.4 222.28L1070.3 222.21L1067.6 221.98L1065.5 221.68L1064.4 221.43ZM1109.8 220.90L1110.6 220.78L1112.0 220.61L1113.8 220.41L1115.9 220.22L1118.3 220.04L1121.0 219.89L1123.9 219.77L1127.0 219.71L1130.1 219.86L1132.4 220.25L1133.7 220.62L1133.7 220.62L1132.4 221.02L1130.1 221.47L1127.0 221.69L1123.9 221.70L1121.0 221.65L1118.3 221.56L1115.9 221.44L1113.8 221.30L1112.0 221.14L1110.6 221.00L1109.8 220.90ZM1135.7 220.60L1136.8 220.08L1138.7 219.38L1141.1 218.71L1144.0 218.20L1147.3 217.98L1195.4 217.44L1198.5 217.68L1201.2 218.33L1203.2 219.16L1204.4 219.82L1204.4 219.82L1203.2 220.50L1201.2 221.38L1198.5 222.09L1195.4 222.40L1147.3 222.95L1144.0 222.81L1141.1 222.37L1138.7 221.76L1136.8 221.09L1135.7 220.60ZM1199.8 219.87L1201.0 219.11L1203.0 218.15L1205.7 217.37L1208.8 217.03L1269.5 216.36L1272.7 216.62L1275.3 217.34L1277.4 218.26L1278.5 218.99L1278.5 218.99L1277.4 219.74L1275.3 220.70L1272.7 221.48L1269.5 221.82L1208.8 222.50L1205.7 222.23L1203.0 221.51L1201.0 220.59L1199.8 219.87ZM1274.0 219.04L1275.1 218.35L1277.2 217.48L1279.9 216.77L1283.0 216.46L1309.5 216.16L1313.9 216.16L1318.1 216.25L1322.0 216.42L1325.6 216.64L1328.9 216.91L1331.9 217.21L1334.6 217.53L1336.9 217.84L1338.6 218.13L1339.5 218.32L1339.5 218.32L1338.6 218.54L1336.9 218.86L1334.6 219.22L1331.9 219.59L1328.9 219.96L1325.6 220.30L1322.0 220.61L1318.1 220.86L1313.9 221.03L1309.5 221.13L1283.0 221.42L1279.9 221.18L1277.2 220.53L1275.1 219.70L1274.0 219.04ZM1358.1 218.12L1358.9 217.95L1360.4 217.70L1362.3 217.43L1364.5 217.18L1367.1 216.96L1369.9 216.80L1373.0 216.72L1376.1 216.73L1378.9 216.83L1381.5 217.00L1383.7 217.20L1385.6 217.43L1387.1 217.65L1387.9 217.80L1387.9 217.80L1387.1 217.97L1385.6 218.22L1383.7 218.49L1381.5 218.74L1378.9 218.96L1376.1 219.12L1373.0 219.20L1369.9 219.19L1367.1 219.09L1364.5 218.93L1362.3 218.72L1360.4 218.49L1358.9 218.28L1358.1 218.12ZM1403.3 217.64L1404.4 217.29L1406.4 216.84L1409.0 216.48L1412.1 216.30L1415.2 216.41L1417.9 216.72L1419.9 217.13L1421.1 217.45L1421.1 217.45L1419.9 217.80L1417.9 218.25L1415.2 218.62L1412.1 218.79L1409.0 218.68L1406.4 218.37L1404.4 217.96L1403.3 217.64ZM1417.8 217.48L1419.0 216.93L1421.0 216.23L1423.7 215.66L1426.8 215.40L1429.8 215.45L1432.5 215.63L1434.9 215.91L1437.1 216.25L1438.9 216.63L1440.3 216.99L1441.1 217.24L1441.1 217.24L1440.3 217.51L1438.9 217.90L1437.1 218.31L1434.9 218.70L1432.5 219.03L1429.8 219.27L1426.8 219.38L1423.7 219.19L1421.0 218.67L1419.0 218.01L1417.8 217.48ZM1447.2 217.18L1448.3 216.94L1450.3 216.59L1453.0 216.19L1456.1 215.77L1459.7 215.37L1463.7 214.99L1467.9 214.66L1472.6 214.38L1477.5 214.18L1482.6 214.08L1524.4 213.65L1527.4 213.73L1530.1 213.98L1532.6 214.38L1534.8 214.86L1536.7 215.38L1538.1 215.88L1538.9 216.24L1538.9 216.24L1538.1 216.60L1536.7 217.13L1534.8 217.69L1532.6 218.22L1530.1 218.67L1527.4 218.98L1524.4 219.11L1482.6 219.54L1477.5 219.54L1472.6 219.44L1467.9 219.27L1463.7 219.02L1459.7 218.72L1456.1 218.39L1453.0 218.05L1450.3 217.70L1448.3 217.39L1447.2 217.18ZM1540.9 216.22L1541.7 215.95L1543.1 215.56L1545.0 215.14L1547.1 214.75L1549.6 214.42L1552.4 214.19L1555.4 214.08L1561.4 214.02L1564.5 214.21L1567.2 214.73L1569.2 215.39L1570.4 215.92L1570.4 215.92L1569.2 216.47L1567.2 217.17L1564.5 217.74L1561.4 218.00L1555.4 218.06L1552.4 218.01L1549.6 217.83L1547.1 217.55L1545.0 217.20L1543.1 216.83L1541.7 216.47L1540.9 216.22ZM1567.4 215.95L1568.6 215.40L1570.6 214.70L1573.3 214.12L1576.4 213.87L1579.7 213.84L1582.5 214.03L1584.9 214.55L1586.7 215.22L1587.7 215.75L1587.7 215.75L1586.7 216.29L1584.9 216.99L1582.5 217.56L1579.7 217.81L1576.4 217.84L1573.3 217.66L1570.6 217.14L1568.6 216.48L1567.4 215.95ZM1589.7 215.73L1589.9 215.36L1590.2 214.95L1590.7 214.77L1593.6 214.84L1596.1 215.08L1598.0 215.39L1599.0 215.63L1599.0 215.63L1598.0 215.90L1596.1 216.25L1593.6 216.53L1590.7 216.67L1590.2 216.49L1589.9 216.09L1589.7 215.73ZM1597.1 215.65L1598.2 215.17L1600.3 214.55L1603.0 214.05L1606.1 213.83L1606.5 213.82L1609.6 213.98L1612.3 214.43L1614.4 215.01L1615.5 215.47L1615.5 215.47L1614.4 215.95L1612.3 216.57L1609.6 217.07L1606.5 217.30L1606.1 217.30L1603.0 217.14L1600.3 216.69L1598.2 216.11L1597.1 215.65ZM1614.2 215.48L1615.7 214.80L1618.5 214.03L1622.1 213.67L1625.7 213.96L1628.5 214.67L1630.0 215.33L1630.0 215.33L1628.5 216.02L1625.7 216.78L1622.1 217.14L1618.5 216.85L1615.7 216.14L1614.2 215.48ZM1628.7 215.34L1629.8 214.79L1631.9 214.09L1634.6 213.52L1637.7 213.27L1638.0 213.26L1641.4 213.45L1644.3 213.97L1646.5 214.63L1647.7 215.16L1647.7 215.16L1646.5 215.71L1644.3 216.41L1641.4 216.98L1638.0 217.24L1637.7 217.24L1634.6 217.05L1631.9 216.53L1629.8 215.87L1628.7 215.34ZM1649.7 215.14L1650.9 214.52L1653.1 213.73L1656.0 213.09L1659.4 212.81L1698.4 212.43L1701.5 212.65L1704.2 213.24L1706.3 213.99L1707.4 214.58L1707.4 214.58L1706.3 215.20L1704.2 215.99L1701.5 216.62L1698.4 216.90L1659.4 217.28L1656.0 217.06L1653.1 216.48L1650.9 215.73L1649.7 215.14ZM1702.9 214.63L1704.0 214.08L1706.1 213.38L1708.7 212.81L1711.9 212.55L1714.5 212.53L1717.7 212.72L1720.3 213.24L1722.4 213.90L1723.5 214.43L1723.5 214.43L1722.4 214.98L1720.3 215.68L1717.7 216.25L1714.5 216.50L1711.9 216.53L1708.7 216.34L1706.1 215.82L1704.0 215.15L1702.9 214.63ZM1719.0 214.47L1720.1 213.86L1722.2 213.07L1724.8 212.43L1728.0 212.15L1734.5 212.09L1737.7 212.12L1740.6 212.23L1743.4 212.43L1745.9 212.69L1748.2 212.99L1750.2 213.32L1751.9 213.64L1753.2 213.94L1753.9 214.15L1753.9 214.15L1753.2 214.36L1751.9 214.69L1750.2 215.04L1748.2 215.41L1745.9 215.75L1743.4 216.06L1740.6 216.30L1737.7 216.48L1734.5 216.56L1728.0 216.62L1724.8 216.40L1722.2 215.82L1720.1 215.07L1719.0 214.47ZM1756.3 214.12L1757.1 213.93L1758.4 213.64L1760.1 213.32L1762.1 213.00L1764.4 212.69L1766.9 212.41L1769.6 212.19L1772.6 212.03L1775.7 211.96L1779.0 211.93L1782.2 212.12L1784.8 212.64L1786.9 213.30L1788.0 213.83L1788.0 213.83L1786.9 214.38L1784.8 215.08L1782.2 215.65L1779.0 215.90L1775.7 215.93L1772.6 215.91L1769.6 215.81L1766.9 215.64L1764.4 215.41L1762.1 215.14L1760.1 214.86L1758.4 214.57L1757.1 214.30L1756.3 214.12ZM1783.5 213.87L1784.2 213.58L1785.5 213.16L1787.2 212.68L1789.2 212.21L1791.5 211.76L1794.0 211.36L1796.8 211.03L1799.7 210.81L1802.8 210.71L1827.8 210.45L1827.8 211.01L1827.8 212.27L1827.8 213.43L1827.8 213.43L1827.8 214.58L1827.8 215.84L1827.8 216.41L1802.8 216.67L1799.7 216.63L1796.8 216.46L1794.0 216.19L1791.5 215.84L1789.2 215.43L1787.2 214.99L1785.5 214.55L1784.2 214.15L1783.5 213.87Z"/><path fill="#ffffff" d="M956.8 262.67L956.8 262.00L956.8 261.26L956.8 260.93L977.2 260.71L980.2 260.72L983.0 260.78L985.7 260.89L988.2 261.04L990.5 261.23L992.5 261.44L994.4 261.66L995.9 261.88L997.1 262.08L997.7 262.21L997.7 262.21L997.1 262.36L995.9 262.59L994.4 262.84L992.5 263.11L990.5 263.37L988.2 263.61L985.7 263.82L983.0 264.00L980.2 264.12L977.2 264.19L956.8 264.41L956.8 264.08L956.8 263.34L956.8 262.67ZM1006.6 262.11L1007.6 261.91L1009.3 261.62L1011.6 261.29L1014.2 260.94L1017.2 260.61L1020.6 260.29L1024.2 260.01L1028.1 259.78L1032.2 259.61L1036.6 259.51L1042.2 259.45L1045.4 259.66L1048.0 260.24L1050.1 260.98L1051.2 261.57L1051.2 261.57L1050.1 262.19L1048.0 262.98L1045.4 263.63L1042.2 263.92L1036.6 263.98L1032.2 263.99L1028.1 263.92L1024.2 263.78L1020.6 263.59L1017.2 263.35L1014.2 263.09L1011.6 262.81L1009.3 262.53L1007.6 262.28L1006.6 262.11ZM1046.7 261.63L1047.8 261.14L1049.9 260.52L1052.5 260.01L1055.7 259.78L1059.5 259.77L1063.0 259.82L1066.4 259.93L1069.5 260.07L1072.4 260.26L1075.0 260.46L1077.3 260.67L1079.3 260.89L1080.8 261.08L1081.6 261.22L1081.6 261.22L1080.8 261.37L1079.3 261.60L1077.3 261.86L1075.0 262.13L1072.4 262.39L1069.5 262.64L1066.4 262.86L1063.0 263.04L1059.5 263.18L1055.7 263.26L1052.5 263.10L1049.9 262.66L1047.8 262.08L1046.7 261.63ZM1108.6 260.90L1110.0 260.68L1112.6 260.35L1116.0 259.97L1120.0 259.58L1124.6 259.19L1129.6 258.82L1135.0 258.50L1140.9 258.22L1147.1 258.02L1153.7 257.89L1214.7 257.20L1217.9 257.44L1220.5 258.09L1222.6 258.92L1223.7 259.58L1223.7 259.58L1222.6 260.27L1220.5 261.14L1217.9 261.85L1214.7 262.17L1153.7 262.86L1147.1 262.89L1140.9 262.83L1135.0 262.69L1129.6 262.49L1124.6 262.24L1120.0 261.96L1116.0 261.66L1112.6 261.36L1110.0 261.09L1108.6 260.90ZM1219.2 259.63L1220.3 259.22L1222.4 258.68L1225.0 258.24L1228.2 258.04L1231.3 258.04L1234.2 258.08L1236.9 258.18L1239.5 258.31L1241.8 258.46L1243.9 258.64L1245.8 258.83L1247.4 259.01L1248.6 259.18L1249.3 259.30L1249.3 259.30L1248.6 259.43L1247.4 259.62L1245.8 259.84L1243.9 260.07L1241.8 260.30L1239.5 260.51L1236.9 260.69L1234.2 260.85L1231.3 260.96L1228.2 261.02L1225.0 260.89L1222.4 260.51L1220.3 260.02L1219.2 259.63ZM1271.0 259.05L1271.7 258.93L1272.9 258.73L1274.5 258.51L1276.4 258.28L1278.5 258.06L1280.8 257.85L1283.4 257.66L1286.1 257.51L1289.0 257.40L1292.1 257.33L1295.3 257.46L1297.9 257.84L1300.0 258.33L1301.1 258.72L1301.1 258.72L1300.0 259.14L1297.9 259.67L1295.3 260.11L1292.1 260.31L1289.0 260.32L1286.1 260.27L1283.4 260.18L1280.8 260.05L1278.5 259.89L1276.4 259.71L1274.5 259.52L1272.9 259.34L1271.7 259.17L1271.0 259.05ZM1296.6 258.77L1297.7 258.16L1299.8 257.37L1302.4 256.72L1305.6 256.44L1346.9 255.99L1350.1 256.21L1352.7 256.79L1354.8 257.54L1355.9 258.13L1355.9 258.13L1354.8 258.75L1352.7 259.54L1350.1 260.18L1346.9 260.46L1305.6 260.91L1302.4 260.70L1299.8 260.11L1297.7 259.37L1296.6 258.77ZM1351.4 258.18L1352.5 257.36L1354.6 256.31L1357.2 255.47L1360.4 255.10L1496.9 253.67L1500.0 253.97L1502.7 254.76L1504.7 255.76L1505.9 256.56L1505.9 256.56L1504.7 257.37L1502.7 258.42L1500.0 259.26L1496.9 259.63L1360.4 261.06L1357.2 260.76L1354.6 259.97L1352.5 258.97L1351.4 258.18ZM1501.3 256.60L1502.5 255.85L1504.5 254.89L1507.2 254.11L1510.3 253.78L1550.1 253.38L1553.2 253.65L1555.9 254.37L1557.9 255.29L1559.1 256.02L1559.1 256.02L1557.9 256.77L1555.9 257.73L1553.2 258.50L1550.1 258.84L1510.3 259.24L1507.2 258.97L1504.5 258.25L1502.5 257.33L1501.3 256.60ZM1554.6 256.06L1555.7 255.38L1557.7 254.50L1560.4 253.80L1563.6 253.49L1617.1 252.96L1620.5 253.20L1623.3 253.85L1625.5 254.68L1626.7 255.35L1626.7 255.35L1625.5 256.03L1623.3 256.90L1620.5 257.61L1617.1 257.92L1563.6 258.45L1560.4 258.21L1557.7 257.56L1555.7 256.72L1554.6 256.06ZM1628.7 255.33L1629.7 254.84L1631.4 254.29L1633.7 254.04L1637.0 254.07L1640.0 254.21L1642.6 254.43L1644.8 254.69L1646.5 254.95L1647.5 255.14L1647.5 255.14L1646.5 255.35L1644.8 255.65L1642.6 255.95L1640.0 256.22L1637.0 256.42L1633.7 256.52L1631.4 256.31L1629.7 255.80L1628.7 255.33ZM1652.5 255.09L1653.4 254.92L1654.9 254.67L1657.0 254.38L1659.4 254.08L1662.1 253.78L1665.1 253.51L1668.4 253.26L1671.9 253.07L1675.6 252.92L1679.6 252.85L1680.4 252.84L1684.7 252.84L1688.9 252.90L1692.8 253.03L1696.4 253.21L1699.8 253.42L1702.8 253.66L1705.4 253.91L1707.7 254.16L1709.4 254.39L1710.4 254.54L1710.4 254.54L1709.4 254.71L1707.7 254.97L1705.4 255.26L1702.8 255.56L1699.8 255.86L1696.4 256.14L1692.8 256.38L1688.9 256.59L1684.7 256.73L1680.4 256.81L1679.6 256.82L1675.6 256.82L1671.9 256.75L1668.4 256.62L1665.1 256.44L1662.1 256.22L1659.4 255.98L1657.0 255.73L1654.9 255.48L1653.4 255.25L1652.5 255.09ZM1735.4 254.30L1736.3 254.17L1737.9 253.98L1740.0 253.75L1742.5 253.52L1745.4 253.29L1748.5 253.08L1752.0 252.89L1755.6 252.73L1759.6 252.62L1763.7 252.55L1767.1 252.80L1769.8 253.41L1771.2 253.97L1771.2 253.97L1769.8 254.56L1767.1 255.21L1763.7 255.53L1759.6 255.54L1755.6 255.49L1752.0 255.41L1748.5 255.28L1745.4 255.12L1742.5 254.95L1740.0 254.77L1737.9 254.58L1736.3 254.42L1735.4 254.30ZM1772.9 253.95L1773.5 253.56L1774.6 253.13L1776.0 252.93L1779.3 252.97L1782.3 253.13L1784.8 253.37L1786.7 253.62L1787.8 253.82L1787.8 253.82L1786.7 254.03L1784.8 254.32L1782.3 254.60L1779.3 254.81L1776.0 254.92L1774.6 254.74L1773.5 254.33L1772.9 253.95Z"/><path fill="#ffffff" d="M956.8 299.12L956.8 298.44L956.8 297.71L956.8 297.38L977.2 297.15L980.2 297.15L983.0 297.22L985.7 297.33L988.2 297.48L990.5 297.67L992.5 297.88L994.4 298.10L995.9 298.31L997.1 298.51L997.7 298.64L997.7 298.64L997.1 298.79L995.9 299.02L994.4 299.28L992.5 299.54L990.5 299.80L988.2 300.05L985.7 300.26L983.0 300.44L980.2 300.56L977.2 300.63L956.8 300.85L956.8 300.53L956.8 299.79L956.8 299.12ZM1006.6 298.53L1007.6 298.34L1009.3 298.04L1011.6 297.71L1014.2 297.37L1017.2 297.03L1020.6 296.71L1024.2 296.43L1028.1 296.20L1032.2 296.03L1036.6 295.93L1042.2 295.86L1045.4 296.07L1048.0 296.65L1050.1 297.39L1051.2 297.98L1051.2 297.98L1050.1 298.60L1048.0 299.40L1045.4 300.04L1042.2 300.33L1036.6 300.40L1032.2 300.41L1028.1 300.34L1024.2 300.20L1020.6 300.01L1017.2 299.78L1014.2 299.51L1011.6 299.23L1009.3 298.96L1007.6 298.71L1006.6 298.53ZM1046.7 298.04L1047.8 297.55L1049.9 296.93L1052.5 296.42L1055.7 296.19L1059.5 296.18L1063.0 296.23L1066.4 296.33L1069.5 296.48L1072.4 296.66L1075.0 296.86L1077.3 297.07L1079.3 297.29L1080.8 297.48L1081.6 297.61L1081.6 297.61L1080.8 297.77L1079.3 298.00L1077.3 298.26L1075.0 298.53L1072.4 298.79L1069.5 299.04L1066.4 299.27L1063.0 299.45L1059.5 299.59L1055.7 299.67L1052.5 299.51L1049.9 299.07L1047.8 298.50L1046.7 298.04ZM1108.6 297.29L1110.0 297.07L1112.6 296.73L1116.0 296.35L1120.0 295.96L1124.6 295.57L1129.6 295.20L1135.0 294.87L1140.9 294.60L1147.1 294.39L1153.7 294.26L1214.7 293.55L1217.9 293.79L1220.5 294.44L1222.6 295.27L1223.7 295.93L1223.7 295.93L1222.6 296.61L1220.5 297.49L1217.9 298.20L1214.7 298.51L1153.7 299.23L1147.1 299.26L1140.9 299.20L1135.0 299.07L1129.6 298.87L1124.6 298.62L1120.0 298.34L1116.0 298.04L1112.6 297.75L1110.0 297.47L1108.6 297.29ZM1219.2 295.98L1220.3 295.56L1222.4 295.03L1225.0 294.59L1228.2 294.38L1231.3 294.38L1234.2 294.42L1236.9 294.51L1239.5 294.64L1241.8 294.80L1243.9 294.98L1245.8 295.16L1247.4 295.35L1248.6 295.51L1249.3 295.63L1249.3 295.63L1248.6 295.76L1247.4 295.95L1245.8 296.18L1243.9 296.41L1241.8 296.63L1239.5 296.84L1236.9 297.03L1234.2 297.18L1231.3 297.30L1228.2 297.36L1225.0 297.23L1222.4 296.86L1220.3 296.37L1219.2 295.98ZM1271.0 295.38L1271.7 295.25L1272.9 295.05L1274.5 294.83L1276.4 294.60L1278.5 294.38L1280.8 294.17L1283.4 293.98L1286.1 293.83L1289.0 293.71L1292.1 293.65L1295.3 293.78L1297.9 294.16L1300.0 294.65L1301.1 295.04L1301.1 295.04L1300.0 295.45L1297.9 295.99L1295.3 296.43L1292.1 296.63L1289.0 296.63L1286.1 296.59L1283.4 296.50L1280.8 296.37L1278.5 296.21L1276.4 296.03L1274.5 295.85L1272.9 295.66L1271.7 295.49L1271.0 295.38ZM1296.6 295.09L1297.7 294.47L1299.8 293.68L1302.4 293.04L1305.6 292.75L1346.9 292.29L1350.1 292.50L1352.7 293.08L1354.8 293.83L1355.9 294.42L1355.9 294.42L1354.8 295.04L1352.7 295.83L1350.1 296.47L1346.9 296.75L1305.6 297.22L1302.4 297.01L1299.8 296.42L1297.7 295.68L1296.6 295.09ZM1351.4 294.47L1352.5 293.65L1354.6 292.60L1357.2 291.76L1360.4 291.39L1496.9 289.90L1500.0 290.20L1502.7 290.99L1504.7 291.99L1505.9 292.79L1505.9 292.79L1504.7 293.61L1502.7 294.65L1500.0 295.50L1496.9 295.86L1360.4 297.35L1357.2 297.05L1354.6 296.27L1352.5 295.26L1351.4 294.47ZM1501.3 292.84L1502.5 292.08L1504.5 291.12L1507.2 290.35L1510.3 290.01L1550.1 289.59L1553.2 289.86L1555.9 290.58L1557.9 291.50L1559.1 292.23L1559.1 292.23L1557.9 292.98L1555.9 293.94L1553.2 294.72L1550.1 295.05L1510.3 295.47L1507.2 295.20L1504.5 294.48L1502.5 293.56L1501.3 292.84ZM1554.6 292.27L1555.7 291.59L1557.7 290.72L1560.4 290.01L1563.6 289.70L1617.1 289.15L1620.5 289.39L1623.3 290.04L1625.5 290.87L1626.7 291.53L1626.7 291.53L1625.5 292.21L1623.3 293.09L1620.5 293.80L1617.1 294.11L1563.6 294.66L1560.4 294.42L1557.7 293.77L1555.7 292.94L1554.6 292.27ZM1628.7 291.51L1629.7 291.02L1631.4 290.48L1633.7 290.22L1637.0 290.25L1640.0 290.39L1642.6 290.61L1644.8 290.87L1646.5 291.13L1647.5 291.32L1647.5 291.32L1646.5 291.53L1644.8 291.83L1642.6 292.13L1640.0 292.40L1637.0 292.60L1633.7 292.70L1631.4 292.49L1629.7 291.98L1628.7 291.51ZM1652.5 291.27L1653.4 291.10L1654.9 290.84L1657.0 290.55L1659.4 290.25L1662.1 289.95L1665.1 289.68L1668.4 289.43L1671.9 289.23L1675.6 289.09L1679.6 289.01L1680.4 289.00L1684.7 289.00L1688.9 289.06L1692.8 289.19L1696.4 289.36L1699.8 289.58L1702.8 289.81L1705.4 290.06L1707.7 290.31L1709.4 290.54L1710.4 290.69L1710.4 290.69L1709.4 290.86L1707.7 291.12L1705.4 291.41L1702.8 291.72L1699.8 292.02L1696.4 292.29L1692.8 292.54L1688.9 292.74L1684.7 292.89L1680.4 292.98L1679.6 292.98L1675.6 292.98L1671.9 292.91L1668.4 292.79L1665.1 292.61L1662.1 292.39L1659.4 292.15L1657.0 291.90L1654.9 291.65L1653.4 291.42L1652.5 291.27ZM1735.4 290.44L1736.3 290.31L1737.9 290.12L1740.0 289.89L1742.5 289.66L1745.4 289.43L1748.5 289.22L1752.0 289.02L1755.6 288.87L1759.6 288.75L1763.7 288.68L1767.1 288.93L1769.8 289.53L1771.2 290.10L1771.2 290.10L1769.8 290.69L1767.1 291.34L1763.7 291.66L1759.6 291.67L1755.6 291.63L1752.0 291.54L1748.5 291.42L1745.4 291.26L1742.5 291.09L1740.0 290.91L1737.9 290.72L1736.3 290.56L1735.4 290.44ZM1772.9 290.08L1773.5 289.69L1774.6 289.26L1776.0 289.06L1779.3 289.10L1782.3 289.26L1784.8 289.49L1786.7 289.74L1787.8 289.94L1787.8 289.94L1786.7 290.15L1784.8 290.44L1782.3 290.72L1779.3 290.94L1776.0 291.04L1774.6 290.87L1773.5 290.46L1772.9 290.08Z"/><path fill="#ffffff" d="M956.8 346.46L956.8 345.50L956.8 344.44L956.8 343.97L1026.1 343.31L1029.2 343.56L1031.9 344.21L1033.9 345.04L1035.1 345.71L1035.1 345.71L1033.9 346.39L1031.9 347.26L1029.2 347.97L1026.1 348.28L956.8 348.94L956.8 348.47L956.8 347.42L956.8 346.46ZM1030.6 345.75L1031.7 345.13L1033.7 344.35L1036.4 343.71L1039.6 343.43L1053.5 343.29L1057.8 343.29L1061.8 343.37L1065.5 343.52L1069.1 343.72L1072.3 343.97L1075.2 344.24L1077.8 344.53L1079.9 344.81L1081.6 345.06L1082.5 345.24L1082.5 345.24L1081.6 345.43L1079.9 345.72L1077.8 346.05L1075.2 346.38L1072.3 346.71L1069.1 347.02L1065.5 347.29L1061.8 347.51L1057.8 347.67L1053.5 347.76L1039.6 347.90L1036.4 347.68L1033.7 347.09L1031.7 346.35L1030.6 345.75ZM1088.2 345.18L1089.0 345.03L1090.4 344.81L1092.2 344.55L1094.3 344.29L1096.8 344.03L1099.4 343.79L1102.4 343.58L1105.5 343.40L1108.8 343.28L1112.4 343.21L1116.0 343.21L1119.5 343.27L1122.7 343.38L1125.7 343.54L1128.5 343.73L1131.0 343.94L1133.3 344.16L1135.1 344.38L1136.6 344.57L1137.4 344.71L1137.4 344.71L1136.6 344.86L1135.1 345.08L1133.3 345.34L1131.0 345.60L1128.5 345.86L1125.7 346.10L1122.7 346.32L1119.5 346.49L1116.0 346.62L1112.4 346.69L1108.8 346.69L1105.5 346.63L1102.4 346.51L1099.4 346.36L1096.8 346.17L1094.3 345.96L1092.2 345.74L1090.4 345.52L1089.0 345.32L1088.2 345.18ZM1154.0 344.55L1154.9 344.38L1156.7 344.12L1158.9 343.83L1161.6 343.53L1164.6 343.23L1167.9 342.95L1171.6 342.71L1175.5 342.51L1179.6 342.36L1184.0 342.28L1201.5 342.12L1205.9 342.11L1210.0 342.18L1213.9 342.31L1217.6 342.49L1220.9 342.70L1223.9 342.94L1226.6 343.19L1228.8 343.44L1230.6 343.67L1231.5 343.82L1231.5 343.82L1230.6 344.00L1228.8 344.25L1226.6 344.54L1223.9 344.85L1220.9 345.14L1217.6 345.42L1213.9 345.66L1210.0 345.86L1205.9 346.01L1201.5 346.09L1184.0 346.25L1179.6 346.26L1175.5 346.19L1171.6 346.06L1167.9 345.88L1164.6 345.67L1161.6 345.43L1158.9 345.18L1156.7 344.93L1154.9 344.70L1154.0 344.55ZM1258.1 343.58L1259.1 343.38L1261.0 343.10L1263.3 342.83L1266.2 342.62L1269.3 342.53L1272.5 342.57L1275.3 342.72L1277.7 342.94L1279.5 343.19L1280.5 343.37L1280.5 343.37L1279.5 343.58L1277.7 343.86L1275.3 344.12L1272.5 344.33L1269.3 344.43L1266.2 344.39L1263.3 344.23L1261.0 344.01L1259.1 343.76L1258.1 343.58ZM1298.5 343.21L1299.2 343.07L1300.5 342.86L1302.2 342.63L1304.2 342.40L1306.5 342.19L1309.0 342.01L1311.7 341.89L1314.7 341.83L1317.8 341.94L1320.5 342.25L1322.5 342.66L1323.7 342.99L1323.7 342.99L1322.5 343.33L1320.5 343.78L1317.8 344.14L1314.7 344.31L1311.7 344.30L1309.0 344.22L1306.5 344.09L1304.2 343.92L1302.2 343.73L1300.5 343.53L1299.2 343.34L1298.5 343.21ZM1321.7 343.00L1322.9 342.39L1324.9 341.60L1327.6 340.97L1330.7 340.69L1339.9 340.61L1343.8 340.62L1347.6 340.70L1351.1 340.86L1354.4 341.07L1357.4 341.32L1360.1 341.59L1362.5 341.88L1364.5 342.17L1366.1 342.43L1366.9 342.60L1366.9 342.60L1366.1 342.80L1364.5 343.08L1362.5 343.40L1360.1 343.74L1357.4 344.06L1354.4 344.36L1351.1 344.63L1347.6 344.85L1343.8 345.00L1339.9 345.08L1330.7 345.16L1327.6 344.94L1324.9 344.35L1322.9 343.60L1321.7 343.00ZM1372.0 342.56L1372.8 342.35L1374.4 342.03L1376.4 341.68L1378.8 341.31L1381.6 340.95L1384.6 340.62L1387.8 340.33L1391.4 340.09L1395.1 339.92L1399.1 339.84L1456.3 339.35L1460.6 339.37L1464.8 339.46L1468.7 339.64L1472.3 339.87L1475.6 340.15L1478.7 340.46L1481.3 340.78L1483.6 341.10L1485.3 341.39L1486.3 341.59L1486.3 341.59L1485.3 341.80L1483.6 342.11L1481.3 342.47L1478.7 342.84L1475.6 343.20L1472.3 343.53L1468.7 343.83L1464.8 344.07L1460.6 344.24L1456.3 344.32L1399.1 344.81L1395.1 344.79L1391.4 344.69L1387.8 344.52L1384.6 344.28L1381.6 344.00L1378.8 343.69L1376.4 343.37L1374.4 343.05L1372.8 342.76L1372.0 342.56ZM1498.4 341.49L1499.3 341.33L1501.1 341.11L1503.3 340.85L1506.0 340.59L1509.0 340.33L1512.3 340.09L1515.9 339.87L1519.8 339.70L1524.0 339.57L1528.4 339.50L1530.7 339.48L1533.9 339.65L1536.5 340.10L1538.6 340.68L1539.7 341.15L1539.7 341.15L1538.6 341.63L1536.5 342.24L1533.9 342.74L1530.7 342.96L1528.4 342.98L1524.0 342.98L1519.8 342.92L1515.9 342.81L1512.3 342.65L1509.0 342.47L1506.0 342.26L1503.3 342.04L1501.1 341.82L1499.3 341.62L1498.4 341.49ZM1535.2 341.18L1536.3 340.50L1538.4 339.63L1541.0 338.93L1544.2 338.63L1596.8 338.20L1600.0 338.46L1602.6 339.12L1604.7 339.95L1605.8 340.62L1605.8 340.62L1604.7 341.30L1602.6 342.17L1600.0 342.87L1596.8 343.17L1544.2 343.59L1541.0 343.34L1538.4 342.68L1536.3 341.85L1535.2 341.18ZM1601.3 340.65L1602.4 340.17L1604.5 339.56L1607.2 339.06L1610.3 338.84L1614.6 338.81L1617.7 338.98L1620.4 339.43L1622.4 340.01L1623.6 340.48L1623.6 340.48L1622.4 340.96L1620.4 341.57L1617.7 342.07L1614.6 342.29L1610.3 342.32L1607.2 342.15L1604.5 341.69L1602.4 341.11L1601.3 340.65ZM1620.7 340.50L1621.8 340.23L1623.8 339.89L1626.5 339.61L1629.7 339.48L1631.2 339.65L1632.3 340.04L1633.0 340.40L1633.0 340.40L1632.3 340.78L1631.2 341.19L1629.7 341.38L1626.5 341.30L1623.8 341.06L1621.8 340.75L1620.7 340.50ZM1635.4 340.38L1636.1 340.21L1637.4 339.96L1639.1 339.68L1641.2 339.40L1643.4 339.13L1646.0 338.89L1648.7 338.70L1651.6 338.56L1654.8 338.50L1666.1 338.41L1669.3 338.58L1672.0 339.03L1674.0 339.61L1675.1 340.08L1675.1 340.08L1674.0 340.56L1672.0 341.17L1669.3 341.67L1666.1 341.88L1654.8 341.97L1651.6 341.96L1648.7 341.86L1646.0 341.71L1643.4 341.51L1641.2 341.28L1639.1 341.03L1637.4 340.77L1636.1 340.54L1635.4 340.38ZM1670.6 340.11L1671.8 339.83L1673.8 339.48L1676.5 339.18L1679.6 339.05L1691.9 338.96L1695.1 339.04L1697.8 339.29L1699.8 339.62L1700.9 339.88L1700.9 339.88L1699.8 340.16L1697.8 340.52L1695.1 340.81L1691.9 340.94L1679.6 341.04L1676.5 340.95L1673.8 340.70L1671.8 340.37L1670.6 340.11ZM1696.4 339.92L1697.6 339.37L1699.6 338.67L1702.3 338.11L1705.4 337.86L1749.7 337.53L1754.1 337.54L1758.2 337.61L1762.1 337.75L1765.7 337.93L1769.1 338.15L1772.1 338.40L1774.8 338.66L1777.0 338.91L1778.7 339.14L1779.7 339.30L1779.7 339.30L1778.7 339.47L1777.0 339.72L1774.8 340.01L1772.1 340.31L1769.1 340.60L1765.7 340.86L1762.1 341.10L1758.2 341.30L1754.1 341.43L1749.7 341.50L1705.4 341.83L1702.3 341.64L1699.6 341.11L1697.6 340.45L1696.4 339.92Z"/><path fill="#ffffff" d="M956.8 383.24L956.8 382.28L956.8 381.22L956.8 380.75L1026.1 380.04L1029.2 380.28L1031.9 380.93L1033.9 381.76L1035.1 382.43L1035.1 382.43L1033.9 383.11L1031.9 383.99L1029.2 384.69L1026.1 385.01L956.8 385.72L956.8 385.25L956.8 384.20L956.8 383.24ZM1030.6 382.47L1031.7 381.86L1033.7 381.07L1036.4 380.43L1039.6 380.14L1053.5 379.99L1057.8 379.99L1061.8 380.07L1065.5 380.21L1069.1 380.41L1072.3 380.66L1075.2 380.93L1077.8 381.21L1079.9 381.49L1081.6 381.75L1082.5 381.92L1082.5 381.92L1081.6 382.11L1079.9 382.40L1077.8 382.73L1075.2 383.07L1072.3 383.40L1069.1 383.71L1065.5 383.99L1061.8 384.21L1057.8 384.37L1053.5 384.46L1039.6 384.61L1036.4 384.40L1033.7 383.81L1031.7 383.07L1030.6 382.47ZM1088.2 381.86L1089.0 381.71L1090.4 381.48L1092.2 381.23L1094.3 380.96L1096.8 380.70L1099.4 380.46L1102.4 380.24L1105.5 380.07L1108.8 379.94L1112.4 379.87L1116.0 379.86L1119.5 379.92L1122.7 380.03L1125.7 380.18L1128.5 380.37L1131.0 380.58L1133.3 380.80L1135.1 381.02L1136.6 381.21L1137.4 381.35L1137.4 381.35L1136.6 381.50L1135.1 381.72L1133.3 381.98L1131.0 382.25L1128.5 382.51L1125.7 382.75L1122.7 382.97L1119.5 383.14L1116.0 383.27L1112.4 383.34L1108.8 383.35L1105.5 383.29L1102.4 383.18L1099.4 383.03L1096.8 382.84L1094.3 382.63L1092.2 382.41L1090.4 382.19L1089.0 382.00L1088.2 381.86ZM1154.0 381.18L1154.9 381.00L1156.7 380.74L1158.9 380.45L1161.6 380.14L1164.6 379.85L1167.9 379.57L1171.6 379.32L1175.5 379.11L1179.6 378.96L1184.0 378.88L1201.5 378.70L1205.9 378.70L1210.0 378.76L1213.9 378.89L1217.6 379.06L1220.9 379.27L1223.9 379.51L1226.6 379.76L1228.8 380.01L1230.6 380.23L1231.5 380.39L1231.5 380.39L1230.6 380.56L1228.8 380.82L1226.6 381.11L1223.9 381.42L1220.9 381.71L1217.6 381.99L1213.9 382.24L1210.0 382.44L1205.9 382.59L1201.5 382.68L1184.0 382.85L1179.6 382.86L1175.5 382.80L1171.6 382.67L1167.9 382.50L1164.6 382.29L1161.6 382.05L1158.9 381.80L1156.7 381.55L1154.9 381.33L1154.0 381.18ZM1258.1 380.12L1259.1 379.92L1261.0 379.64L1263.3 379.37L1266.2 379.16L1269.3 379.06L1272.5 379.10L1275.3 379.25L1277.7 379.47L1279.5 379.72L1280.5 379.90L1280.5 379.90L1279.5 380.10L1277.7 380.38L1275.3 380.65L1272.5 380.86L1269.3 380.96L1266.2 380.92L1263.3 380.77L1261.0 380.55L1259.1 380.31L1258.1 380.12ZM1298.5 379.72L1299.2 379.58L1300.5 379.37L1302.2 379.14L1304.2 378.91L1306.5 378.69L1309.0 378.52L1311.7 378.39L1314.7 378.32L1317.8 378.43L1320.5 378.75L1322.5 379.15L1323.7 379.48L1323.7 379.48L1322.5 379.83L1320.5 380.27L1317.8 380.64L1314.7 380.81L1311.7 380.80L1309.0 380.72L1306.5 380.60L1304.2 380.43L1302.2 380.24L1300.5 380.04L1299.2 379.85L1298.5 379.72ZM1321.7 379.50L1322.9 378.88L1324.9 378.09L1327.6 377.45L1330.7 377.18L1339.9 377.09L1343.8 377.09L1347.6 377.18L1351.1 377.33L1354.4 377.53L1357.4 377.78L1360.1 378.06L1362.5 378.35L1364.5 378.63L1366.1 378.89L1366.9 379.06L1366.9 379.06L1366.1 379.25L1364.5 379.54L1362.5 379.86L1360.1 380.20L1357.4 380.53L1354.4 380.83L1351.1 381.10L1347.6 381.32L1343.8 381.48L1339.9 381.56L1330.7 381.64L1327.6 381.43L1324.9 380.84L1322.9 380.09L1321.7 379.50ZM1372.0 379.01L1372.8 378.80L1374.4 378.49L1376.4 378.13L1378.8 377.76L1381.6 377.40L1384.6 377.06L1387.8 376.77L1391.4 376.53L1395.1 376.36L1399.1 376.27L1456.3 375.74L1460.6 375.75L1464.8 375.84L1468.7 376.01L1472.3 376.24L1475.6 376.52L1478.7 376.83L1481.3 377.15L1483.6 377.47L1485.3 377.75L1486.3 377.95L1486.3 377.95L1485.3 378.16L1483.6 378.48L1481.3 378.84L1478.7 379.21L1475.6 379.57L1472.3 379.91L1468.7 380.21L1464.8 380.45L1460.6 380.62L1456.3 380.71L1399.1 381.24L1395.1 381.23L1391.4 381.13L1387.8 380.96L1384.6 380.73L1381.6 380.45L1378.8 380.14L1376.4 379.82L1374.4 379.50L1372.8 379.21L1372.0 379.01ZM1498.4 377.84L1499.3 377.69L1501.1 377.46L1503.3 377.20L1506.0 376.94L1509.0 376.68L1512.3 376.43L1515.9 376.21L1519.8 376.03L1524.0 375.90L1528.4 375.83L1530.7 375.81L1533.9 375.98L1536.5 376.43L1538.6 377.01L1539.7 377.47L1539.7 377.47L1538.6 377.95L1536.5 378.56L1533.9 379.06L1530.7 379.29L1528.4 379.31L1524.0 379.31L1519.8 379.26L1515.9 379.15L1512.3 379.00L1509.0 378.81L1506.0 378.60L1503.3 378.39L1501.1 378.17L1499.3 377.97L1498.4 377.84ZM1535.2 377.51L1536.3 376.83L1538.4 375.95L1541.0 375.25L1544.2 374.94L1596.8 374.48L1600.0 374.73L1602.6 375.39L1604.7 376.22L1605.8 376.89L1605.8 376.89L1604.7 377.57L1602.6 378.44L1600.0 379.14L1596.8 379.45L1544.2 379.91L1541.0 379.66L1538.4 379.01L1536.3 378.17L1535.2 377.51ZM1601.3 376.92L1602.4 376.44L1604.5 375.83L1607.2 375.33L1610.3 375.11L1614.6 375.07L1617.7 375.24L1620.4 375.69L1622.4 376.27L1623.6 376.73L1623.6 376.73L1622.4 377.21L1620.4 377.83L1617.7 378.33L1614.6 378.55L1610.3 378.58L1607.2 378.42L1604.5 377.97L1602.4 377.39L1601.3 376.92ZM1620.7 376.76L1621.8 376.49L1623.8 376.15L1626.5 375.86L1629.7 375.73L1631.2 375.90L1632.3 376.29L1633.0 376.65L1633.0 376.65L1632.3 377.02L1631.2 377.44L1629.7 377.63L1626.5 377.55L1623.8 377.31L1621.8 377.00L1620.7 376.76ZM1635.4 376.63L1636.1 376.46L1637.4 376.21L1639.1 375.93L1641.2 375.64L1643.4 375.37L1646.0 375.13L1648.7 374.93L1651.6 374.79L1654.8 374.73L1666.1 374.63L1669.3 374.80L1672.0 375.25L1674.0 375.83L1675.1 376.29L1675.1 376.29L1674.0 376.77L1672.0 377.39L1669.3 377.89L1666.1 378.11L1654.8 378.20L1651.6 378.19L1648.7 378.10L1646.0 377.95L1643.4 377.75L1641.2 377.52L1639.1 377.27L1637.4 377.02L1636.1 376.79L1635.4 376.63ZM1670.6 376.33L1671.8 376.05L1673.8 375.69L1676.5 375.40L1679.6 375.26L1691.9 375.16L1695.1 375.24L1697.8 375.49L1699.8 375.82L1700.9 376.08L1700.9 376.08L1699.8 376.35L1697.8 376.71L1695.1 377.01L1691.9 377.14L1679.6 377.25L1676.5 377.16L1673.8 376.91L1671.8 376.59L1670.6 376.33ZM1696.4 376.11L1697.6 375.57L1699.6 374.87L1702.3 374.30L1705.4 374.05L1749.7 373.69L1754.1 373.69L1758.2 373.76L1762.1 373.90L1765.7 374.08L1769.1 374.29L1772.1 374.54L1774.8 374.79L1777.0 375.05L1778.7 375.27L1779.7 375.43L1779.7 375.43L1778.7 375.60L1777.0 375.86L1774.8 376.14L1772.1 376.44L1769.1 376.74L1765.7 377.01L1762.1 377.25L1758.2 377.44L1754.1 377.59L1749.7 377.66L1705.4 378.02L1702.3 377.83L1699.6 377.31L1697.6 376.64L1696.4 376.11Z"/><path fill="#ffffff" d="M956.8 442.68L956.8 442.11L956.8 441.47L956.8 441.19L1065.7 440.01L1174.6 438.83L1283.4 437.70L1392.3 436.61L1501.2 435.56L1610.0 434.55L1718.9 433.58L1827.8 432.62L1827.8 432.90L1827.8 433.53L1827.8 434.11L1827.8 434.11L1827.8 434.69L1827.8 435.32L1827.8 435.60L1718.9 436.56L1610.0 437.53L1501.2 438.54L1392.3 439.59L1283.4 440.68L1174.6 441.81L1065.7 442.99L956.8 444.17L956.8 443.89L956.8 443.26L956.8 442.68ZM956.8 442.68L956.8 441.72L956.8 440.67L956.8 440.20L1090.2 438.75L1093.4 438.99L1096.1 439.64L1098.1 440.47L1099.2 441.13L1099.2 441.13L1098.1 441.82L1096.1 442.70L1093.4 443.41L1090.2 443.72L956.8 445.17L956.8 444.70L956.8 443.64L956.8 442.68ZM1095.4 441.18L1096.5 440.49L1098.6 439.62L1101.2 438.91L1104.4 438.60L1219.2 437.37L1222.4 437.61L1225.0 438.27L1227.1 439.10L1228.2 439.76L1228.2 439.76L1227.1 440.44L1225.0 441.32L1222.4 442.03L1219.2 442.34L1104.4 443.56L1101.2 443.32L1098.6 442.67L1096.5 441.84L1095.4 441.18ZM1224.4 439.80L1225.5 439.12L1227.5 438.24L1230.2 437.53L1233.4 437.22L1326.3 436.27L1419.1 435.35L1422.3 435.60L1425.0 436.25L1427.0 437.08L1428.1 437.75L1428.1 437.75L1427.0 438.43L1425.0 439.30L1422.3 440.01L1419.1 440.32L1326.3 441.24L1233.4 442.19L1230.2 441.95L1227.5 441.29L1225.5 440.46L1224.4 439.80ZM1424.3 437.78L1425.4 437.10L1427.5 436.23L1430.1 435.52L1433.3 435.21L1490.1 434.67L1493.2 434.91L1495.9 435.57L1498.0 436.40L1499.1 437.07L1499.1 437.07L1498.0 437.75L1495.9 438.62L1493.2 439.33L1490.1 439.63L1433.3 440.18L1430.1 439.93L1427.5 439.28L1425.4 438.45L1424.3 437.78ZM1495.2 437.10L1496.3 436.35L1498.4 435.39L1501.1 434.62L1504.2 434.29L1612.1 433.29L1719.9 432.33L1827.8 431.38L1827.8 431.90L1827.8 433.05L1827.8 434.11L1827.8 434.11L1827.8 435.17L1827.8 436.33L1827.8 436.84L1719.9 437.80L1612.1 438.75L1504.2 439.75L1501.1 439.47L1498.4 438.75L1496.3 437.83L1495.2 437.10Z"/><path fill="#ffffff" d="M956.8 479.44L956.8 478.87L956.8 478.23L956.8 477.95L1065.7 476.77L1174.6 475.59L1283.4 474.46L1392.3 473.37L1501.2 472.32L1610.0 471.31L1718.9 470.34L1827.8 469.38L1827.8 469.66L1827.8 470.29L1827.8 470.87L1827.8 470.87L1827.8 471.45L1827.8 472.08L1827.8 472.36L1718.9 473.32L1610.0 474.29L1501.2 475.30L1392.3 476.35L1283.4 477.44L1174.6 478.57L1065.7 479.75L956.8 480.93L956.8 480.65L956.8 480.02L956.8 479.44ZM956.8 479.44L956.8 478.48L956.8 477.43L956.8 476.96L1090.2 475.51L1093.4 475.75L1096.1 476.40L1098.1 477.23L1099.2 477.89L1099.2 477.89L1098.1 478.58L1096.1 479.46L1093.4 480.17L1090.2 480.48L956.8 481.93L956.8 481.46L956.8 480.40L956.8 479.44ZM1095.4 477.94L1096.5 477.25L1098.6 476.38L1101.2 475.67L1104.4 475.36L1219.2 474.13L1222.4 474.37L1225.0 475.03L1227.1 475.86L1228.2 476.52L1228.2 476.52L1227.1 477.20L1225.0 478.08L1222.4 478.79L1219.2 479.10L1104.4 480.32L1101.2 480.08L1098.6 479.43L1096.5 478.60L1095.4 477.94ZM1224.4 476.56L1225.5 475.88L1227.5 475.00L1230.2 474.29L1233.4 473.98L1326.3 473.03L1419.1 472.11L1422.3 472.36L1425.0 473.01L1427.0 473.84L1428.1 474.51L1428.1 474.51L1427.0 475.19L1425.0 476.06L1422.3 476.77L1419.1 477.08L1326.3 478.00L1233.4 478.95L1230.2 478.71L1227.5 478.05L1225.5 477.22L1224.4 476.56ZM1424.3 474.54L1425.4 473.86L1427.5 472.99L1430.1 472.28L1433.3 471.97L1490.1 471.43L1493.2 471.67L1495.9 472.33L1498.0 473.16L1499.1 473.83L1499.1 473.83L1498.0 474.51L1495.9 475.38L1493.2 476.09L1490.1 476.39L1433.3 476.94L1430.1 476.69L1427.5 476.04L1425.4 475.21L1424.3 474.54ZM1495.2 473.86L1496.3 473.11L1498.4 472.15L1501.1 471.38L1504.2 471.05L1612.1 470.05L1719.9 469.09L1827.8 468.14L1827.8 468.66L1827.8 469.81L1827.8 470.87L1827.8 470.87L1827.8 471.93L1827.8 473.09L1827.8 473.60L1719.9 474.56L1612.1 475.51L1504.2 476.51L1501.1 476.23L1498.4 475.51L1496.3 474.59L1495.2 473.86Z"/><path fill="#ffffff" d="M956.8 550.34L956.8 549.67L956.8 548.93L956.8 548.60L1065.7 547.59L1174.6 546.59L1283.4 545.63L1392.3 544.70L1501.2 543.82L1610.0 542.99L1718.9 542.19L1827.8 541.40L1827.8 541.73L1827.8 542.47L1827.8 543.14L1827.8 543.14L1827.8 543.81L1827.8 544.55L1827.8 544.88L1718.9 545.67L1610.0 546.46L1501.2 547.30L1392.3 548.18L1283.4 549.10L1174.6 550.06L1065.7 551.07L956.8 552.08L956.8 551.75L956.8 551.01L956.8 550.34ZM956.8 550.34L956.8 549.48L956.8 548.53L956.8 548.11L1057.9 547.17L1159.0 546.23L1260.0 545.33L1361.1 544.47L1364.3 544.69L1366.9 545.28L1369.0 546.03L1370.1 546.63L1370.1 546.63L1369.0 547.24L1366.9 548.03L1364.3 548.66L1361.1 548.94L1260.0 549.80L1159.0 550.70L1057.9 551.64L956.8 552.58L956.8 552.15L956.8 551.21L956.8 550.34ZM1366.2 546.66L1367.4 546.01L1369.4 545.18L1372.1 544.51L1375.2 544.22L1468.3 543.46L1561.4 542.74L1654.5 542.04L1657.7 542.28L1660.4 542.90L1662.4 543.70L1663.5 544.33L1663.5 544.33L1662.4 544.98L1660.4 545.80L1657.7 546.47L1654.5 546.76L1561.4 547.45L1468.3 548.18L1375.2 548.94L1372.1 548.71L1369.4 548.08L1367.4 547.29L1366.2 546.66ZM1659.7 544.36L1660.8 543.68L1662.9 542.81L1665.5 542.11L1668.7 541.81L1748.2 541.24L1827.8 540.66L1827.8 541.13L1827.8 542.18L1827.8 543.14L1827.8 543.14L1827.8 544.10L1827.8 545.16L1827.8 545.62L1748.2 546.21L1668.7 546.78L1665.5 546.52L1662.9 545.86L1660.8 545.02L1659.7 544.36Z"/><path fill="#ffffff" d="M956.8 587.50L956.8 586.83L956.8 586.09L956.8 585.76L1065.7 584.67L1174.6 583.57L1283.4 582.52L1392.3 581.52L1501.2 580.55L1610.0 579.63L1718.9 578.75L1827.8 577.87L1827.8 578.20L1827.8 578.94L1827.8 579.61L1827.8 579.61L1827.8 580.28L1827.8 581.02L1827.8 581.35L1718.9 582.23L1610.0 583.11L1501.2 584.03L1392.3 584.99L1283.4 586.00L1174.6 587.05L1065.7 588.14L956.8 589.24L956.8 588.91L956.8 588.17L956.8 587.50ZM956.8 587.50L956.8 586.64L956.8 585.69L956.8 585.26L1057.9 584.25L1159.0 583.23L1260.0 582.25L1361.1 581.31L1364.3 581.53L1366.9 582.11L1369.0 582.86L1370.1 583.46L1370.1 583.46L1369.0 584.07L1366.9 584.86L1364.3 585.50L1361.1 585.77L1260.0 586.72L1159.0 587.70L1057.9 588.72L956.8 589.73L956.8 589.31L956.8 588.36L956.8 587.50ZM1366.2 583.49L1367.4 582.84L1369.4 582.01L1372.1 581.34L1375.2 581.05L1468.3 580.22L1561.4 579.42L1654.5 578.65L1657.7 578.88L1660.4 579.51L1662.4 580.30L1663.5 580.93L1663.5 580.93L1662.4 581.58L1660.4 582.41L1657.7 583.08L1654.5 583.36L1561.4 584.13L1468.3 584.94L1375.2 585.77L1372.1 585.54L1369.4 584.91L1367.4 584.12L1366.2 583.49ZM1659.7 580.96L1660.8 580.28L1662.9 579.41L1665.5 578.71L1668.7 578.41L1748.2 577.78L1827.8 577.13L1827.8 577.60L1827.8 578.65L1827.8 579.61L1827.8 579.61L1827.8 580.57L1827.8 581.63L1827.8 582.10L1748.2 582.74L1668.7 583.37L1665.5 583.12L1662.9 582.46L1660.8 581.63L1659.7 580.96Z"/><path fill="#ffffff" d="M956.8 674.20L956.8 673.53L956.8 672.79L956.8 672.46L1065.7 671.54L1174.6 670.62L1283.4 669.74L1392.3 668.90L1501.2 668.11L1610.0 667.36L1718.9 666.65L1827.8 665.95L1827.8 666.27L1827.8 667.01L1827.8 667.68L1827.8 667.68L1827.8 668.36L1827.8 669.09L1827.8 669.42L1718.9 670.13L1610.0 670.84L1501.2 671.59L1392.3 672.38L1283.4 673.22L1174.6 674.09L1065.7 675.01L956.8 675.94L956.8 675.61L956.8 674.87L956.8 674.20ZM1268.2 671.60L1273.3 671.39L1282.6 671.08L1294.7 670.71L1309.0 670.32L1325.2 669.93L1343.1 669.55L1362.6 669.19L1383.6 668.87L1405.9 668.59L1429.4 668.38L1529.0 667.67L1628.6 666.99L1728.2 666.34L1827.8 665.70L1827.8 666.07L1827.8 666.92L1827.8 667.68L1827.8 667.68L1827.8 668.45L1827.8 669.29L1827.8 669.67L1728.2 670.32L1628.6 670.96L1529.0 671.64L1429.4 672.35L1405.9 672.49L1383.6 672.55L1362.6 672.54L1343.1 672.48L1325.2 672.37L1309.0 672.23L1294.7 672.06L1282.6 671.89L1273.3 671.72L1268.2 671.60Z"/><path fill="#ffffff" d="M956.8 711.29L956.8 710.62L956.8 709.88L956.8 709.55L1065.7 708.59L1174.6 707.62L1283.4 706.70L1392.3 705.82L1501.2 704.99L1610.0 704.19L1718.9 703.44L1827.8 702.70L1827.8 703.02L1827.8 703.76L1827.8 704.43L1827.8 704.43L1827.8 705.11L1827.8 705.84L1827.8 706.17L1718.9 706.92L1610.0 707.67L1501.2 708.46L1392.3 709.30L1283.4 710.18L1174.6 711.10L1065.7 712.06L956.8 713.03L956.8 712.70L956.8 711.96L956.8 711.29ZM1203.7 709.11L1208.8 708.88L1218.1 708.53L1230.2 708.13L1244.5 707.69L1260.7 707.26L1278.7 706.83L1298.1 706.43L1319.1 706.08L1341.4 705.78L1364.9 705.54L1480.7 704.65L1596.4 703.80L1712.1 702.99L1827.8 702.20L1827.8 702.62L1827.8 703.57L1827.8 704.43L1827.8 704.43L1827.8 705.30L1827.8 706.25L1827.8 706.67L1712.1 707.46L1596.4 708.27L1480.7 709.12L1364.9 710.01L1341.4 710.16L1319.1 710.22L1298.1 710.21L1278.7 710.13L1260.7 710.00L1244.5 709.84L1230.2 709.65L1218.1 709.44L1208.8 709.25L1203.7 709.11Z"/></g><rect x="1161.8" y="494.8" width="1.3" height="1.3" fill="#f5c33a"/><rect x="1018.6" y="625.7" width="1.3" height="1.3" fill="#f5c33a"/><rect x="1027.3" y="208.3" width="1.3" height="1.3" fill="#f5c33a"/><path d="M982.03 176.31L1084.60 175.04L1187.17 173.82L1289.74 172.63L1392.31 171.48L1494.88 170.37L1597.45 169.30L1700.02 168.26L1802.59 167.26M982.03 191.97L1084.60 190.71L1187.17 189.49L1289.74 188.30L1392.31 187.15L1494.88 186.04L1597.45 184.96L1700.02 183.93L1802.59 182.93M982.03 212.74L1084.60 211.56L1187.17 210.42L1289.74 209.31L1392.31 208.24L1494.88 207.21L1597.45 206.22L1700.02 205.26L1802.59 204.34M982.03 228.41L1084.60 227.23L1187.17 226.08L1289.74 224.98L1392.31 223.91L1494.88 222.88L1597.45 221.88L1700.02 220.93L1802.59 220.01M982.03 253.05L1084.60 251.83L1187.17 250.64L1289.74 249.50L1392.31 248.39L1494.88 247.32L1597.45 246.28L1700.02 245.29L1802.59 244.33M982.03 268.72L1084.60 267.50L1187.17 266.31L1289.74 265.16L1392.31 264.05L1494.88 262.98L1597.45 261.95L1700.02 260.95L1802.59 259.99M982.03 289.49L1084.60 288.27L1187.17 287.08L1289.74 285.93L1392.31 284.83L1494.88 283.75L1597.45 282.72L1700.02 281.72L1802.59 280.76M982.03 305.15L1084.60 303.93L1187.17 302.75L1289.74 301.60L1392.31 300.49L1494.88 299.42L1597.45 298.39L1700.02 297.39L1802.59 296.43M982.03 337.53L1084.60 336.43L1187.17 335.37L1289.74 334.34L1392.31 333.36L1494.88 332.40L1597.45 331.49L1700.02 330.62L1802.59 329.78M982.03 353.20L1084.60 352.10L1187.17 351.04L1289.74 350.01L1392.31 349.02L1494.88 348.07L1597.45 347.16L1700.02 346.28L1802.59 345.45M982.03 373.97L1084.60 372.83L1187.17 371.73L1289.74 370.66L1392.31 369.63L1494.88 368.64L1597.45 367.69L1700.02 366.77L1802.59 365.89M982.03 389.64L1084.60 388.50L1187.17 387.39L1289.74 386.33L1392.31 385.30L1494.88 384.31L1597.45 383.35L1700.02 382.44L1802.59 381.56M982.03 433.08L1084.60 431.94L1187.17 430.84L1289.74 429.77L1392.31 428.75L1494.88 427.75L1597.45 426.80L1700.02 425.89L1802.59 425.01M982.03 448.75L1084.60 447.61L1187.17 446.51L1289.74 445.44L1392.31 444.41L1494.88 443.42L1597.45 442.47L1700.02 441.55L1802.59 440.67M982.03 469.52L1084.60 468.42L1187.17 467.36L1289.74 466.33L1392.31 465.34L1494.88 464.39L1597.45 463.48L1700.02 462.61L1802.59 461.77M982.03 485.19L1084.60 484.09L1187.17 483.02L1289.74 482.00L1392.31 481.01L1494.88 480.06L1597.45 479.15L1700.02 478.27L1802.59 477.43M982.03 541.11L1084.60 540.09L1187.17 539.10L1289.74 538.16L1392.31 537.25L1494.88 536.38L1597.45 535.55L1700.02 534.76L1802.59 534.00M982.03 556.77L1084.60 555.75L1187.17 554.77L1289.74 553.83L1392.31 552.92L1494.88 552.05L1597.45 551.22L1700.02 550.42L1802.59 549.66M982.03 578.24L1084.60 577.22L1187.17 576.24L1289.74 575.30L1392.31 574.39L1494.88 573.52L1597.45 572.69L1700.02 571.89L1802.59 571.13M982.03 593.91L1084.60 592.89L1187.17 591.91L1289.74 590.96L1392.31 590.05L1494.88 589.19L1597.45 588.35L1700.02 587.56L1802.59 586.80M982.03 664.34L1084.60 663.48L1187.17 662.66L1289.74 661.87L1392.31 661.13L1494.88 660.42L1597.45 659.75L1700.02 659.12L1802.59 658.52M982.03 680.00L1084.60 679.15L1187.17 678.32L1289.74 677.54L1392.31 676.80L1494.88 676.09L1597.45 675.42L1700.02 674.78L1802.59 674.19M982.03 702.06L1084.60 701.21L1187.17 700.39L1289.74 699.60L1392.31 698.86L1494.88 698.15L1597.45 697.48L1700.02 696.85L1802.59 696.25M982.03 717.73L1084.60 716.87L1187.17 716.05L1289.74 715.27L1392.31 714.52L1494.88 713.81L1597.45 713.14L1700.02 712.51L1802.59 711.92" stroke="#000" stroke-width="2.7" fill="none"/><path d="M982.03 176.31L1084.60 175.04L1187.17 173.82L1289.74 172.63L1392.31 171.48L1494.88 170.37L1597.45 169.30L1700.02 168.26L1802.59 167.26M982.03 191.97L1084.60 190.71L1187.17 189.49L1289.74 188.30L1392.31 187.15L1494.88 186.04L1597.45 184.96L1700.02 183.93L1802.59 182.93M982.03 212.74L1084.60 211.56L1187.17 210.42L1289.74 209.31L1392.31 208.24L1494.88 207.21L1597.45 206.22L1700.02 205.26L1802.59 204.34M982.03 228.41L1084.60 227.23L1187.17 226.08L1289.74 224.98L1392.31 223.91L1494.88 222.88L1597.45 221.88L1700.02 220.93L1802.59 220.01M982.03 253.05L1084.60 251.83L1187.17 250.64L1289.74 249.50L1392.31 248.39L1494.88 247.32L1597.45 246.28L1700.02 245.29L1802.59 244.33M982.03 268.72L1084.60 267.50L1187.17 266.31L1289.74 265.16L1392.31 264.05L1494.88 262.98L1597.45 261.95L1700.02 260.95L1802.59 259.99M982.03 289.49L1084.60 288.27L1187.17 287.08L1289.74 285.93L1392.31 284.83L1494.88 283.75L1597.45 282.72L1700.02 281.72L1802.59 280.76M982.03 305.15L1084.60 303.93L1187.17 302.75L1289.74 301.60L1392.31 300.49L1494.88 299.42L1597.45 298.39L1700.02 297.39L1802.59 296.43M982.03 337.53L1084.60 336.43L1187.17 335.37L1289.74 334.34L1392.31 333.36L1494.88 332.40L1597.45 331.49L1700.02 330.62L1802.59 329.78M982.03 353.20L1084.60 352.10L1187.17 351.04L1289.74 350.01L1392.31 349.02L1494.88 348.07L1597.45 347.16L1700.02 346.28L1802.59 345.45M982.03 373.97L1084.60 372.83L1187.17 371.73L1289.74 370.66L1392.31 369.63L1494.88 368.64L1597.45 367.69L1700.02 366.77L1802.59 365.89M982.03 389.64L1084.60 388.50L1187.17 387.39L1289.74 386.33L1392.31 385.30L1494.88 384.31L1597.45 383.35L1700.02 382.44L1802.59 381.56M982.03 433.08L1084.60 431.94L1187.17 430.84L1289.74 429.77L1392.31 428.75L1494.88 427.75L1597.45 426.80L1700.02 425.89L1802.59 425.01M982.03 448.75L1084.60 447.61L1187.17 446.51L1289.74 445.44L1392.31 444.41L1494.88 443.42L1597.45 442.47L1700.02 441.55L1802.59 440.67M982.03 469.52L1084.60 468.42L1187.17 467.36L1289.74 466.33L1392.31 465.34L1494.88 464.39L1597.45 463.48L1700.02 462.61L1802.59 461.77M982.03 485.19L1084.60 484.09L1187.17 483.02L1289.74 482.00L1392.31 481.01L1494.88 480.06L1597.45 479.15L1700.02 478.27L1802.59 477.43M982.03 541.11L1084.60 540.09L1187.17 539.10L1289.74 538.16L1392.31 537.25L1494.88 536.38L1597.45 535.55L1700.02 534.76L1802.59 534.00M982.03 556.77L1084.60 555.75L1187.17 554.77L1289.74 553.83L1392.31 552.92L1494.88 552.05L1597.45 551.22L1700.02 550.42L1802.59 549.66M982.03 578.24L1084.60 577.22L1187.17 576.24L1289.74 575.30L1392.31 574.39L1494.88 573.52L1597.45 572.69L1700.02 571.89L1802.59 571.13M982.03 593.91L1084.60 592.89L1187.17 591.91L1289.74 590.96L1392.31 590.05L1494.88 589.19L1597.45 588.35L1700.02 587.56L1802.59 586.80M982.03 664.34L1084.60 663.48L1187.17 662.66L1289.74 661.87L1392.31 661.13L1494.88 660.42L1597.45 659.75L1700.02 659.12L1802.59 658.52M982.03 680.00L1084.60 679.15L1187.17 678.32L1289.74 677.54L1392.31 676.80L1494.88 676.09L1597.45 675.42L1700.02 674.78L1802.59 674.19M982.03 702.06L1084.60 701.21L1187.17 700.39L1289.74 699.60L1392.31 698.86L1494.88 698.15L1597.45 697.48L1700.02 696.85L1802.59 696.25M982.03 717.73L1084.60 716.87L1187.17 716.05L1289.74 715.27L1392.31 714.52L1494.88 713.81L1597.45 713.14L1700.02 712.51L1802.59 711.92" stroke="#fff" stroke-width="2.7" fill="none" stroke-dasharray="10.0 10.0"/></g><g shape-rendering="crispEdges" fill="none"><rect x="981.5" y="99.5" width="822" height="714" stroke="#2a2a2a" stroke-width="1"/><rect x="982.5" y="100.5" width="820" height="712" stroke="#040404" stroke-width="1"/></g><path shape-rendering="crispEdges" d="M981 814h1v6h-1zM982 814h1v6h-1zM1081 814h1v6h-1zM1082 814h1v6h-1zM1181 814h1v6h-1zM1182 814h1v6h-1zM1282 814h1v6h-1zM1283 814h1v6h-1zM1382 814h1v6h-1zM1383 814h1v6h-1zM1482 814h1v6h-1zM1483 814h1v6h-1zM1582 814h1v6h-1zM1583 814h1v6h-1zM1683 814h1v6h-1zM1684 814h1v6h-1zM1783 814h1v6h-1zM1784 814h1v6h-1zM975 115h6v1h-6zM975 116h6v1h-6zM975 202h6v1h-6zM975 203h6v1h-6zM975 289h6v1h-6zM975 290h6v1h-6zM975 376h6v1h-6zM975 377h6v1h-6zM975 463h6v1h-6zM975 464h6v1h-6zM975 550h6v1h-6zM975 551h6v1h-6zM975 637h6v1h-6zM975 638h6v1h-6zM975 724h6v1h-6zM975 725h6v1h-6zM975 811h6v1h-6zM975 812h6v1h-6z" fill="#2a2a2a"/><path shape-rendering="crispEdges" d="M981 813h1v1h-1zM982 813h1v1h-1zM1081 813h1v1h-1zM1082 813h1v1h-1zM1181 813h1v1h-1zM1182 813h1v1h-1zM1282 813h1v1h-1zM1283 813h1v1h-1zM1382 813h1v1h-1zM1383 813h1v1h-1zM1482 813h1v1h-1zM1483 813h1v1h-1zM1582 813h1v1h-1zM1583 813h1v1h-1zM1683 813h1v1h-1zM1684 813h1v1h-1zM1783 813h1v1h-1zM1784 813h1v1h-1zM981 115h1v1h-1zM981 116h1v1h-1zM981 202h1v1h-1zM981 203h1v1h-1zM981 289h1v1h-1zM981 290h1v1h-1zM981 376h1v1h-1zM981 377h1v1h-1zM981 463h1v1h-1zM981 464h1v1h-1zM981 550h1v1h-1zM981 551h1v1h-1zM981 637h1v1h-1zM981 638h1v1h-1zM981 724h1v1h-1zM981 725h1v1h-1zM981 811h1v1h-1zM981 812h1v1h-1z" fill="#070707"/><g clip-path="url(#cp3)"><g filter="url(#pl3)"><rect x="1814.56" y="69.71" width="880.96" height="772.87" fill="#000"/><path fill="#ffffff" d="M1819.7 176.85L1820.6 176.64L1822.3 176.32L1824.6 175.96L1827.2 175.59L1830.3 175.23L1833.6 174.89L1837.2 174.59L1841.1 174.35L1845.3 174.18L1849.7 174.08L1867.0 173.87L1869.8 174.12L1872.2 174.77L1874.0 175.60L1875.0 176.26L1875.0 176.26L1874.0 176.95L1872.2 177.82L1869.8 178.53L1867.0 178.84L1849.7 179.04L1845.3 179.05L1841.1 178.95L1837.2 178.78L1833.6 178.56L1830.3 178.28L1827.2 177.97L1824.6 177.65L1822.3 177.34L1820.6 177.05L1819.7 176.85ZM1877.0 176.24L1878.0 175.62L1879.8 174.83L1882.2 174.19L1885.0 173.91L1914.9 173.57L1918.0 173.78L1920.7 174.36L1922.7 175.10L1923.9 175.70L1923.9 175.70L1922.7 176.32L1920.7 177.11L1918.0 177.75L1914.9 178.04L1885.0 178.38L1882.2 178.17L1879.8 177.58L1878.0 176.83L1877.0 176.24ZM1922.6 175.71L1923.7 175.23L1925.8 174.61L1928.4 174.10L1931.6 173.87L1932.7 173.86L1935.7 173.89L1938.5 174.04L1940.9 174.28L1943.1 174.58L1945.0 174.90L1946.4 175.21L1947.2 175.43L1947.2 175.43L1946.4 175.67L1945.0 176.01L1943.1 176.38L1940.9 176.73L1938.5 177.02L1935.7 177.23L1932.7 177.33L1931.6 177.35L1928.4 177.19L1925.8 176.74L1923.7 176.17L1922.6 175.71ZM1949.2 175.41L1949.9 175.04L1951.1 174.62L1952.7 174.42L1955.6 174.57L1957.8 174.95L1959.1 175.30L1959.1 175.30L1957.8 175.68L1955.6 176.11L1952.7 176.32L1951.1 176.16L1949.9 175.77L1949.2 175.41ZM1964.1 175.24L1964.9 175.04L1966.3 174.75L1968.1 174.43L1970.2 174.11L1972.6 173.82L1975.3 173.57L1978.2 173.40L1981.3 173.31L1984.4 173.32L1987.3 173.40L1990.0 173.55L1992.5 173.74L1994.7 173.96L1996.7 174.21L1998.4 174.46L1999.7 174.68L2000.4 174.84L2000.4 174.84L1999.7 175.01L1998.4 175.27L1996.7 175.55L1994.7 175.84L1992.5 176.12L1990.0 176.36L1987.3 176.57L1984.4 176.71L1981.3 176.79L1978.2 176.77L1975.3 176.66L1972.6 176.48L1970.2 176.24L1968.1 175.97L1966.3 175.69L1964.9 175.43L1964.1 175.24ZM2013.8 174.69L2014.5 174.56L2015.8 174.37L2017.5 174.15L2019.5 173.92L2021.7 173.69L2024.2 173.48L2027.0 173.29L2029.9 173.14L2033.0 173.03L2036.3 172.96L2039.4 173.04L2042.1 173.29L2044.4 173.65L2046.2 174.04L2047.2 174.33L2047.2 174.33L2046.2 174.65L2044.4 175.08L2042.1 175.49L2039.4 175.80L2036.3 175.94L2033.0 175.95L2029.9 175.90L2027.0 175.81L2024.2 175.68L2021.7 175.52L2019.5 175.35L2017.5 175.16L2015.8 174.98L2014.5 174.81L2013.8 174.69ZM2049.2 174.31L2050.4 173.93L2052.6 173.51L2055.5 173.29L2058.7 173.31L2061.5 173.41L2064.1 173.57L2066.2 173.76L2067.8 173.96L2068.7 174.11L2068.7 174.11L2067.8 174.27L2066.2 174.50L2064.1 174.74L2061.5 174.95L2058.7 175.11L2055.5 175.19L2052.6 175.05L2050.4 174.67L2049.2 174.31ZM2088.9 173.89L2089.9 173.69L2091.9 173.41L2094.3 173.14L2097.3 172.93L2100.6 172.82L2103.9 172.86L2106.8 173.01L2109.3 173.23L2111.2 173.47L2112.3 173.65L2112.3 173.65L2111.2 173.86L2109.3 174.14L2106.8 174.41L2103.9 174.62L2100.6 174.72L2097.3 174.69L2094.3 174.54L2091.9 174.32L2089.9 174.08L2088.9 173.89ZM2140.5 173.36L2141.7 173.08L2143.9 172.72L2146.8 172.42L2150.3 172.27L2153.4 172.35L2156.1 172.59L2158.1 172.92L2159.3 173.17L2159.3 173.17L2158.1 173.45L2156.1 173.82L2153.4 174.11L2150.3 174.26L2146.8 174.18L2143.9 173.94L2141.7 173.62L2140.5 173.36ZM2155.4 173.21L2156.5 172.66L2158.6 171.96L2161.2 171.39L2164.4 171.14L2178.3 171.00L2181.1 171.19L2183.5 171.71L2185.3 172.38L2186.3 172.90L2186.3 172.90L2185.3 173.45L2183.5 174.15L2181.1 174.72L2178.3 174.97L2164.4 175.11L2161.2 174.92L2158.6 174.40L2156.5 173.74L2155.4 173.21ZM2188.3 172.88L2189.3 172.30L2191.1 171.65L2193.4 171.34L2196.5 171.36L2199.4 171.45L2202.1 171.61L2204.5 171.81L2206.6 172.04L2208.4 172.28L2209.8 172.51L2210.6 172.67L2210.6 172.67L2209.8 172.84L2208.4 173.09L2206.6 173.37L2204.5 173.64L2202.1 173.89L2199.4 174.10L2196.5 174.25L2193.4 174.32L2191.1 174.07L2189.3 173.45L2188.3 172.88ZM2215.6 172.62L2216.9 172.24L2219.3 171.81L2222.4 171.60L2225.9 171.75L2228.5 172.13L2229.9 172.48L2229.9 172.48L2228.5 172.86L2225.9 173.29L2222.4 173.50L2219.3 173.35L2216.9 172.97L2215.6 172.62ZM2243.7 172.35L2244.5 172.16L2246.1 171.87L2248.2 171.55L2250.6 171.21L2253.3 170.88L2256.3 170.58L2259.6 170.31L2263.2 170.09L2266.9 169.94L2270.9 169.86L2274.1 169.87L2277.1 169.96L2280.0 170.12L2282.6 170.33L2285.1 170.59L2287.3 170.87L2289.2 171.16L2290.9 171.45L2292.1 171.71L2292.8 171.89L2292.8 171.89L2292.1 172.08L2290.9 172.36L2289.2 172.68L2287.3 173.01L2285.1 173.33L2282.6 173.63L2280.0 173.89L2277.1 174.10L2274.1 174.25L2270.9 174.33L2266.9 174.32L2263.2 174.24L2259.6 174.08L2256.3 173.88L2253.3 173.63L2250.6 173.35L2248.2 173.07L2246.1 172.78L2244.5 172.52L2243.7 172.35ZM2296.9 171.85L2298.1 171.57L2300.4 171.21L2303.3 170.91L2306.8 170.77L2310.1 170.81L2313.1 170.97L2315.6 171.20L2317.6 171.46L2318.6 171.65L2318.6 171.65L2317.6 171.86L2315.6 172.16L2313.1 172.44L2310.1 172.65L2306.8 172.75L2303.3 172.67L2300.4 172.43L2298.1 172.11L2296.9 171.85ZM2324.3 171.60L2325.0 171.41L2326.2 171.13L2327.8 170.81L2329.6 170.48L2331.7 170.16L2334.1 169.86L2336.6 169.60L2339.4 169.39L2342.3 169.25L2345.3 169.18L2348.5 169.40L2351.2 169.99L2353.2 170.74L2354.3 171.33L2354.3 171.33L2353.2 171.95L2351.2 172.73L2348.5 173.37L2345.3 173.65L2342.3 173.63L2339.4 173.54L2336.6 173.38L2334.1 173.16L2331.7 172.91L2329.6 172.62L2327.8 172.33L2326.2 172.04L2325.0 171.78L2324.3 171.60ZM2349.8 171.37L2351.0 170.69L2353.0 169.82L2355.7 169.11L2358.8 168.81L2383.7 168.59L2388.1 168.60L2392.3 168.70L2396.2 168.87L2399.8 169.10L2403.1 169.38L2406.2 169.69L2408.8 170.01L2411.1 170.33L2412.8 170.62L2413.7 170.82L2413.7 170.82L2412.8 171.03L2411.1 171.35L2408.8 171.70L2406.2 172.07L2403.1 172.43L2399.8 172.77L2396.2 173.06L2392.3 173.30L2388.1 173.47L2383.7 173.56L2358.8 173.77L2355.7 173.53L2353.0 172.87L2351.0 172.03L2349.8 171.37ZM2423.3 170.74L2424.4 170.46L2426.5 170.10L2429.2 169.80L2432.4 169.67L2435.6 169.75L2438.2 170.00L2440.3 170.32L2441.4 170.58L2441.4 170.58L2440.3 170.86L2438.2 171.22L2435.6 171.51L2432.4 171.65L2429.2 171.57L2426.5 171.32L2424.4 170.99L2423.3 170.74ZM2439.2 170.60L2440.3 170.19L2442.3 169.66L2445.0 169.23L2448.2 169.04L2451.4 169.05L2454.4 169.15L2457.2 169.31L2459.7 169.52L2461.9 169.75L2463.8 169.99L2465.2 170.22L2466.0 170.38L2466.0 170.38L2465.2 170.55L2463.8 170.80L2461.9 171.08L2459.7 171.35L2457.2 171.59L2454.4 171.80L2451.4 171.95L2448.2 172.02L2445.0 171.88L2442.3 171.49L2440.3 171.00L2439.2 170.60ZM2479.1 170.27L2480.2 170.01L2482.1 169.66L2484.7 169.38L2487.8 169.25L2488.8 169.42L2489.6 169.82L2490.1 170.18L2490.1 170.18L2489.6 170.56L2488.8 170.96L2487.8 171.15L2484.7 171.07L2482.1 170.83L2480.2 170.52L2479.1 170.27ZM2492.1 170.17L2493.1 169.62L2494.9 168.92L2497.3 168.36L2500.1 168.12L2511.4 168.03L2514.6 168.22L2517.2 168.75L2519.3 169.41L2520.4 169.94L2520.4 169.94L2519.3 170.49L2517.2 171.19L2514.6 171.75L2511.4 172.00L2500.1 172.09L2497.3 171.89L2494.9 171.37L2493.1 170.70L2492.1 170.17ZM2519.1 169.95L2520.2 169.46L2522.1 168.92L2524.6 168.67L2527.1 168.88L2529.0 169.40L2530.1 169.87L2530.1 169.87L2529.0 170.36L2527.1 170.90L2524.6 171.15L2522.1 170.94L2520.2 170.42L2519.1 169.95ZM2527.8 169.88L2529.0 169.40L2531.0 168.79L2533.7 168.29L2536.8 168.08L2540.0 168.12L2543.0 168.28L2545.7 168.52L2548.0 168.83L2550.0 169.16L2551.6 169.47L2552.4 169.69L2552.4 169.69L2551.6 169.93L2550.0 170.27L2548.0 170.63L2545.7 170.97L2543.0 171.26L2540.0 171.46L2536.8 171.55L2533.7 171.38L2531.0 170.93L2529.0 170.35L2527.8 169.88ZM2554.9 169.68L2556.2 169.28L2558.8 168.84L2562.0 168.63L2565.2 168.71L2567.9 168.97L2569.9 169.29L2571.0 169.55L2571.0 169.55L2569.9 169.83L2567.9 170.19L2565.2 170.48L2562.0 170.61L2558.8 170.45L2556.2 170.05L2554.9 169.68ZM2569.1 169.57L2570.2 168.89L2572.3 168.02L2575.0 167.32L2578.1 167.02L2634.0 166.60L2637.0 166.68L2639.8 166.92L2642.3 167.28L2644.5 167.72L2646.3 168.20L2647.8 168.66L2648.6 168.98L2648.6 168.98L2647.8 169.32L2646.3 169.79L2644.5 170.30L2642.3 170.78L2639.8 171.17L2637.0 171.45L2634.0 171.57L2578.1 171.98L2575.0 171.73L2572.3 171.07L2570.2 170.23L2569.1 169.57ZM2650.6 168.97L2651.3 168.67L2652.8 168.24L2654.6 167.78L2656.8 167.35L2659.3 166.99L2662.1 166.74L2665.1 166.63L2690.5 166.39L2690.5 166.81L2690.5 167.76L2690.5 168.63L2690.5 168.63L2690.5 169.49L2690.5 170.44L2690.5 170.86L2665.1 171.10L2662.1 171.04L2659.3 170.82L2656.8 170.50L2654.6 170.10L2652.8 169.67L2651.3 169.26L2650.6 168.97Z"/><path fill="#cccccc" d="M2115.7 173.62L2116.3 173.42L2117.5 173.19L2118.9 173.09L2121.6 173.15L2123.6 173.34L2124.8 173.52L2124.8 173.52L2123.6 173.73L2121.6 173.96L2118.9 174.08L2117.5 174.00L2116.3 173.80L2115.7 173.62Z"/><path fill="#ffffff" d="M1819.7 213.29L1820.6 213.08L1822.3 212.76L1824.6 212.40L1827.2 212.03L1830.3 211.67L1833.6 211.33L1837.2 211.03L1841.1 210.79L1845.3 210.62L1849.7 210.52L1867.0 210.31L1869.8 210.56L1872.2 211.21L1874.0 212.04L1875.0 212.70L1875.0 212.70L1874.0 213.39L1872.2 214.26L1869.8 214.97L1867.0 215.28L1849.7 215.48L1845.3 215.49L1841.1 215.39L1837.2 215.22L1833.6 214.99L1830.3 214.72L1827.2 214.41L1824.6 214.09L1822.3 213.77L1820.6 213.49L1819.7 213.29ZM1877.0 212.68L1878.0 212.06L1879.8 211.27L1882.2 210.63L1885.0 210.35L1914.9 210.00L1918.0 210.22L1920.7 210.80L1922.7 211.54L1923.9 212.14L1923.9 212.14L1922.7 212.75L1920.7 213.54L1918.0 214.19L1914.9 214.47L1885.0 214.82L1882.2 214.60L1879.8 214.02L1878.0 213.27L1877.0 212.68ZM1922.6 212.15L1923.7 211.67L1925.8 211.05L1928.4 210.54L1931.6 210.31L1932.7 210.30L1935.7 210.33L1938.5 210.48L1940.9 210.72L1943.1 211.01L1945.0 211.34L1946.4 211.65L1947.2 211.87L1947.2 211.87L1946.4 212.11L1945.0 212.45L1943.1 212.82L1940.9 213.16L1938.5 213.46L1935.7 213.67L1932.7 213.77L1931.6 213.79L1928.4 213.63L1925.8 213.18L1923.7 212.61L1922.6 212.15ZM1949.2 211.85L1949.9 211.47L1951.1 211.06L1952.7 210.86L1955.6 211.01L1957.8 211.38L1959.1 211.74L1959.1 211.74L1957.8 212.12L1955.6 212.55L1952.7 212.76L1951.1 212.60L1949.9 212.21L1949.2 211.85ZM1964.1 211.68L1964.9 211.48L1966.3 211.19L1968.1 210.86L1970.2 210.54L1972.6 210.25L1975.3 210.01L1978.2 209.84L1981.3 209.75L1984.4 209.76L1987.3 209.84L1990.0 209.98L1992.5 210.17L1994.7 210.40L1996.7 210.65L1998.4 210.89L1999.7 211.12L2000.4 211.28L2000.4 211.28L1999.7 211.45L1998.4 211.71L1996.7 211.99L1994.7 212.28L1992.5 212.56L1990.0 212.80L1987.3 213.01L1984.4 213.15L1981.3 213.23L1978.2 213.21L1975.3 213.10L1972.6 212.92L1970.2 212.68L1968.1 212.41L1966.3 212.13L1964.9 211.86L1964.1 211.68ZM2013.8 211.13L2014.5 211.00L2015.8 210.81L2017.5 210.59L2019.5 210.36L2021.7 210.13L2024.2 209.92L2027.0 209.73L2029.9 209.58L2033.0 209.46L2036.3 209.40L2039.4 209.47L2042.1 209.73L2044.4 210.09L2046.2 210.48L2047.2 210.77L2047.2 210.77L2046.2 211.09L2044.4 211.52L2042.1 211.93L2039.4 212.24L2036.3 212.38L2033.0 212.38L2029.9 212.34L2027.0 212.25L2024.2 212.12L2021.7 211.96L2019.5 211.78L2017.5 211.60L2015.8 211.41L2014.5 211.25L2013.8 211.13ZM2049.2 210.75L2050.4 210.37L2052.6 209.94L2055.5 209.73L2058.7 209.75L2061.5 209.85L2064.1 210.01L2066.2 210.20L2067.8 210.40L2068.7 210.54L2068.7 210.54L2067.8 210.71L2066.2 210.94L2064.1 211.18L2061.5 211.39L2058.7 211.55L2055.5 211.63L2052.6 211.48L2050.4 211.10L2049.2 210.75ZM2088.9 210.33L2089.9 210.13L2091.9 209.84L2094.3 209.57L2097.3 209.36L2100.6 209.26L2103.9 209.29L2106.8 209.44L2109.3 209.66L2111.2 209.91L2112.3 210.09L2112.3 210.09L2111.2 210.29L2109.3 210.57L2106.8 210.85L2103.9 211.06L2100.6 211.16L2097.3 211.12L2094.3 210.98L2091.9 210.76L2089.9 210.51L2088.9 210.33ZM2140.5 209.80L2141.7 209.52L2143.9 209.15L2146.8 208.85L2150.3 208.71L2153.4 208.79L2156.1 209.03L2158.1 209.35L2159.3 209.61L2159.3 209.61L2158.1 209.89L2156.1 210.25L2153.4 210.55L2150.3 210.69L2146.8 210.62L2143.9 210.38L2141.7 210.06L2140.5 209.80ZM2155.4 209.65L2156.5 209.10L2158.6 208.40L2161.2 207.83L2164.4 207.57L2178.3 207.43L2181.1 207.63L2183.5 208.15L2185.3 208.81L2186.3 209.34L2186.3 209.34L2185.3 209.89L2183.5 210.59L2181.1 211.16L2178.3 211.41L2164.4 211.55L2161.2 211.36L2158.6 210.84L2156.5 210.18L2155.4 209.65ZM2188.3 209.32L2189.3 208.74L2191.1 208.09L2193.4 207.78L2196.5 207.80L2199.4 207.89L2202.1 208.05L2204.5 208.25L2206.6 208.48L2208.4 208.72L2209.8 208.95L2210.6 209.10L2210.6 209.10L2209.8 209.28L2208.4 209.53L2206.6 209.81L2204.5 210.08L2202.1 210.33L2199.4 210.54L2196.5 210.69L2193.4 210.76L2191.1 210.50L2189.3 209.89L2188.3 209.32ZM2215.6 209.06L2216.9 208.68L2219.3 208.25L2222.4 208.04L2225.9 208.19L2228.5 208.56L2229.9 208.92L2229.9 208.92L2228.5 209.30L2225.9 209.73L2222.4 209.94L2219.3 209.79L2216.9 209.41L2215.6 209.06ZM2243.7 208.79L2244.5 208.59L2246.1 208.31L2248.2 207.98L2250.6 207.65L2253.3 207.32L2256.3 207.02L2259.6 206.75L2263.2 206.53L2266.9 206.37L2270.9 206.29L2274.1 206.31L2277.1 206.40L2280.0 206.56L2282.6 206.77L2285.1 207.02L2287.3 207.31L2289.2 207.60L2290.9 207.89L2292.1 208.15L2292.8 208.33L2292.8 208.33L2292.1 208.52L2290.9 208.80L2289.2 209.12L2287.3 209.45L2285.1 209.77L2282.6 210.07L2280.0 210.33L2277.1 210.54L2274.1 210.69L2270.9 210.76L2266.9 210.76L2263.2 210.67L2259.6 210.52L2256.3 210.32L2253.3 210.07L2250.6 209.79L2248.2 209.50L2246.1 209.22L2244.5 208.96L2243.7 208.79ZM2296.9 208.29L2298.1 208.01L2300.4 207.65L2303.3 207.35L2306.8 207.20L2310.1 207.25L2313.1 207.41L2315.6 207.64L2317.6 207.90L2318.6 208.09L2318.6 208.09L2317.6 208.30L2315.6 208.59L2313.1 208.87L2310.1 209.09L2306.8 209.19L2303.3 209.11L2300.4 208.87L2298.1 208.55L2296.9 208.29ZM2324.3 208.04L2325.0 207.85L2326.2 207.57L2327.8 207.25L2329.6 206.92L2331.7 206.60L2334.1 206.30L2336.6 206.04L2339.4 205.83L2342.3 205.69L2345.3 205.61L2348.5 205.84L2351.2 206.42L2353.2 207.17L2354.3 207.77L2354.3 207.77L2353.2 208.38L2351.2 209.17L2348.5 209.81L2345.3 210.08L2342.3 210.07L2339.4 209.97L2336.6 209.81L2334.1 209.60L2331.7 209.34L2329.6 209.06L2327.8 208.77L2326.2 208.48L2325.0 208.22L2324.3 208.04ZM2349.8 207.81L2351.0 207.13L2353.0 206.26L2355.7 205.55L2358.8 205.25L2383.7 205.03L2388.1 205.04L2392.3 205.14L2396.2 205.31L2399.8 205.54L2403.1 205.82L2406.2 206.13L2408.8 206.45L2411.1 206.77L2412.8 207.06L2413.7 207.25L2413.7 207.25L2412.8 207.47L2411.1 207.78L2408.8 208.14L2406.2 208.51L2403.1 208.87L2399.8 209.21L2396.2 209.50L2392.3 209.74L2388.1 209.91L2383.7 209.99L2358.8 210.21L2355.7 209.96L2353.0 209.31L2351.0 208.47L2349.8 207.81ZM2423.3 207.17L2424.4 206.89L2426.5 206.54L2429.2 206.24L2432.4 206.10L2435.6 206.19L2438.2 206.44L2440.3 206.76L2441.4 207.02L2441.4 207.02L2440.3 207.30L2438.2 207.66L2435.6 207.95L2432.4 208.09L2429.2 208.01L2426.5 207.76L2424.4 207.43L2423.3 207.17ZM2439.2 207.04L2440.3 206.63L2442.3 206.10L2445.0 205.67L2448.2 205.47L2451.4 205.49L2454.4 205.59L2457.2 205.75L2459.7 205.95L2461.9 206.19L2463.8 206.43L2465.2 206.66L2466.0 206.82L2466.0 206.82L2465.2 206.99L2463.8 207.24L2461.9 207.51L2459.7 207.78L2457.2 208.03L2454.4 208.24L2451.4 208.38L2448.2 208.45L2445.0 208.31L2442.3 207.93L2440.3 207.43L2439.2 207.04ZM2479.1 206.71L2480.2 206.44L2482.1 206.10L2484.7 205.82L2487.8 205.69L2488.8 205.86L2489.6 206.26L2490.1 206.62L2490.1 206.62L2489.6 206.99L2488.8 207.40L2487.8 207.59L2484.7 207.51L2482.1 207.27L2480.2 206.96L2479.1 206.71ZM2492.1 206.61L2493.1 206.06L2494.9 205.36L2497.3 204.80L2500.1 204.56L2511.4 204.47L2514.6 204.66L2517.2 205.18L2519.3 205.85L2520.4 206.38L2520.4 206.38L2519.3 206.93L2517.2 207.63L2514.6 208.19L2511.4 208.44L2500.1 208.53L2497.3 208.33L2494.9 207.80L2493.1 207.14L2492.1 206.61ZM2519.1 206.39L2520.2 205.90L2522.1 205.36L2524.6 205.11L2527.1 205.32L2529.0 205.83L2530.1 206.30L2530.1 206.30L2529.0 206.79L2527.1 207.33L2524.6 207.59L2522.1 207.37L2520.2 206.86L2519.1 206.39ZM2527.8 206.32L2529.0 205.84L2531.0 205.23L2533.7 204.73L2536.8 204.51L2540.0 204.56L2543.0 204.71L2545.7 204.96L2548.0 205.26L2550.0 205.59L2551.6 205.91L2552.4 206.13L2552.4 206.13L2551.6 206.37L2550.0 206.71L2548.0 207.07L2545.7 207.41L2543.0 207.69L2540.0 207.90L2536.8 207.99L2533.7 207.82L2531.0 207.37L2529.0 206.78L2527.8 206.32ZM2554.9 206.11L2556.2 205.72L2558.8 205.28L2562.0 205.06L2565.2 205.15L2567.9 205.40L2569.9 205.73L2571.0 205.99L2571.0 205.99L2569.9 206.27L2567.9 206.62L2565.2 206.92L2562.0 207.05L2558.8 206.89L2556.2 206.49L2554.9 206.11ZM2569.1 206.00L2570.2 205.32L2572.3 204.45L2575.0 203.75L2578.1 203.45L2634.0 203.04L2637.0 203.12L2639.8 203.35L2642.3 203.72L2644.5 204.16L2646.3 204.64L2647.8 205.10L2648.6 205.42L2648.6 205.42L2647.8 205.75L2646.3 206.23L2644.5 206.74L2642.3 207.21L2639.8 207.61L2637.0 207.89L2634.0 208.01L2578.1 208.42L2575.0 208.17L2572.3 207.51L2570.2 206.67L2569.1 206.00ZM2650.6 205.41L2651.3 205.11L2652.8 204.68L2654.6 204.22L2656.8 203.79L2659.3 203.43L2662.1 203.18L2665.1 203.07L2690.5 202.83L2690.5 203.25L2690.5 204.20L2690.5 205.06L2690.5 205.06L2690.5 205.93L2690.5 206.88L2690.5 207.30L2665.1 207.54L2662.1 207.47L2659.3 207.26L2656.8 206.94L2654.6 206.54L2652.8 206.11L2651.3 205.70L2650.6 205.41Z"/><path fill="#cccccc" d="M2115.7 210.05L2116.3 209.85L2117.5 209.63L2118.9 209.52L2121.6 209.59L2123.6 209.78L2124.8 209.96L2124.8 209.96L2123.6 210.16L2121.6 210.40L2118.9 210.52L2117.5 210.44L2116.3 210.24L2115.7 210.05Z"/><path fill="#ffffff" d="M1819.6 253.30L1819.6 252.24L1819.6 251.08L1819.6 250.57L1932.6 249.22L1935.8 249.49L1938.4 250.20L1940.5 251.12L1941.6 251.84L1941.6 251.84L1940.5 252.60L1938.4 253.56L1935.8 254.34L1932.6 254.68L1819.6 256.03L1819.6 255.51L1819.6 254.35L1819.6 253.30ZM1936.4 251.91L1937.6 251.02L1939.6 249.88L1942.3 248.97L1945.4 248.57L2045.6 247.39L2145.7 246.27L2154.7 246.23L2163.1 246.31L2171.1 246.50L2178.5 246.76L2185.3 247.09L2191.5 247.46L2196.9 247.85L2201.5 248.24L2205.0 248.59L2207.0 248.84L2207.0 248.84L2205.0 249.13L2201.5 249.56L2196.9 250.04L2191.5 250.55L2185.3 251.05L2178.5 251.52L2171.1 251.95L2163.1 252.30L2154.7 252.56L2145.7 252.72L2045.6 253.84L1945.4 255.02L1942.3 254.70L1939.6 253.85L1937.6 252.77L1936.4 251.91ZM2238.2 248.51L2239.1 248.32L2240.9 248.03L2243.1 247.70L2245.8 247.36L2248.8 247.03L2252.1 246.72L2255.8 246.45L2259.7 246.22L2263.8 246.06L2268.2 245.97L2326.0 245.39L2329.2 245.61L2331.8 246.20L2333.9 246.95L2335.0 247.54L2335.0 247.54L2333.9 248.16L2331.8 248.95L2329.2 249.58L2326.0 249.86L2268.2 250.44L2263.8 250.44L2259.7 250.36L2255.8 250.22L2252.1 250.02L2248.8 249.78L2245.8 249.51L2243.1 249.22L2240.9 248.94L2239.1 248.69L2238.2 248.51ZM2330.5 247.59L2331.6 246.90L2333.7 246.03L2336.3 245.32L2339.5 245.01L2380.8 244.62L2384.0 244.86L2386.6 245.52L2388.7 246.35L2389.8 247.01L2389.8 247.01L2388.7 247.70L2386.6 248.57L2384.0 249.28L2380.8 249.58L2339.5 249.98L2336.3 249.73L2333.7 249.08L2331.6 248.25L2330.5 247.59ZM2386.6 247.05L2387.7 246.36L2389.8 245.49L2392.4 244.78L2395.6 244.48L2438.9 244.08L2442.0 244.32L2444.7 244.98L2446.7 245.81L2447.9 246.48L2447.9 246.48L2446.7 247.16L2444.7 248.03L2442.0 248.74L2438.9 249.04L2395.6 249.44L2392.4 249.20L2389.8 248.54L2387.7 247.71L2386.6 247.05ZM2444.6 246.51L2445.8 246.03L2447.8 245.41L2450.5 244.91L2453.6 244.69L2460.1 244.63L2465.3 244.62L2470.2 244.66L2474.8 244.77L2479.1 244.91L2483.0 245.09L2486.6 245.30L2489.8 245.51L2492.4 245.72L2494.5 245.92L2495.6 246.05L2495.6 246.05L2494.5 246.20L2492.4 246.43L2489.8 246.69L2486.6 246.96L2483.0 247.23L2479.1 247.48L2474.8 247.70L2470.2 247.89L2465.3 248.02L2460.1 248.10L2453.6 248.16L2450.5 248.00L2447.8 247.55L2445.8 246.97L2444.6 246.51ZM2529.4 245.76L2530.6 245.56L2532.6 245.27L2535.3 244.95L2538.4 244.61L2542.0 244.28L2545.9 243.97L2550.2 243.69L2554.8 243.47L2559.7 243.31L2564.9 243.22L2613.0 242.82L2616.1 243.05L2618.8 243.64L2620.9 244.39L2622.0 244.99L2622.0 244.99L2620.9 245.60L2618.8 246.38L2616.1 247.02L2613.0 247.29L2564.9 247.69L2559.7 247.69L2554.8 247.61L2550.2 247.46L2545.9 247.26L2542.0 247.02L2538.4 246.75L2535.3 246.47L2532.6 246.18L2530.6 245.93L2529.4 245.76ZM2614.2 245.05L2615.4 244.43L2617.4 243.65L2620.1 243.01L2623.2 242.74L2651.7 242.51L2654.8 242.74L2657.5 243.33L2659.6 244.08L2660.7 244.68L2660.7 244.68L2659.6 245.29L2657.5 246.08L2654.8 246.71L2651.7 246.98L2623.2 247.21L2620.1 246.99L2617.4 246.40L2615.4 245.64L2614.2 245.05ZM2657.5 244.70L2658.6 244.02L2660.6 243.15L2663.3 242.45L2666.5 242.15L2690.5 241.90L2690.5 242.37L2690.5 243.42L2690.5 244.38L2690.5 244.38L2690.5 245.34L2690.5 246.40L2690.5 246.87L2666.5 247.11L2663.3 246.86L2660.6 246.20L2658.6 245.37L2657.5 244.70Z"/><path fill="#ffffff" d="M1819.6 289.74L1819.6 288.68L1819.6 287.52L1819.6 287.00L1932.6 285.66L1935.8 285.92L1938.4 286.64L1940.5 287.55L1941.6 288.28L1941.6 288.28L1940.5 289.03L1938.4 290.00L1935.8 290.78L1932.6 291.12L1819.6 292.47L1819.6 291.95L1819.6 290.79L1819.6 289.74ZM1936.4 288.34L1937.6 287.45L1939.6 286.32L1942.3 285.40L1945.4 285.01L2045.6 283.83L2145.7 282.71L2154.7 282.67L2163.1 282.75L2171.1 282.93L2178.5 283.20L2185.3 283.52L2191.5 283.89L2196.9 284.29L2201.5 284.68L2205.0 285.03L2207.0 285.28L2207.0 285.28L2205.0 285.56L2201.5 285.99L2196.9 286.48L2191.5 286.99L2185.3 287.49L2178.5 287.96L2171.1 288.38L2163.1 288.74L2154.7 289.00L2145.7 289.16L2045.6 290.28L1945.4 291.46L1942.3 291.14L1939.6 290.29L1937.6 289.20L1936.4 288.34ZM2238.2 284.95L2239.1 284.76L2240.9 284.47L2243.1 284.14L2245.8 283.80L2248.8 283.47L2252.1 283.16L2255.8 282.88L2259.7 282.66L2263.8 282.50L2268.2 282.41L2326.0 281.83L2329.2 282.05L2331.8 282.64L2333.9 283.38L2335.0 283.98L2335.0 283.98L2333.9 284.60L2331.8 285.38L2329.2 286.02L2326.0 286.30L2268.2 286.88L2263.8 286.88L2259.7 286.80L2255.8 286.66L2252.1 286.46L2248.8 286.22L2245.8 285.94L2243.1 285.66L2240.9 285.38L2239.1 285.13L2238.2 284.95ZM2330.5 284.02L2331.6 283.34L2333.7 282.47L2336.3 281.76L2339.5 281.45L2380.8 281.05L2384.0 281.30L2386.6 281.96L2388.7 282.79L2389.8 283.45L2389.8 283.45L2388.7 284.14L2386.6 285.01L2384.0 285.71L2380.8 286.02L2339.5 286.42L2336.3 286.17L2333.7 285.52L2331.6 284.68L2330.5 284.02ZM2386.6 283.48L2387.7 282.80L2389.8 281.93L2392.4 281.22L2395.6 280.92L2438.9 280.51L2442.0 280.76L2444.7 281.42L2446.7 282.25L2447.9 282.91L2447.9 282.91L2446.7 283.60L2444.7 284.47L2442.0 285.17L2438.9 285.48L2395.6 285.88L2392.4 285.63L2389.8 284.98L2387.7 284.15L2386.6 283.48ZM2444.6 282.94L2445.8 282.46L2447.8 281.85L2450.5 281.35L2453.6 281.12L2460.1 281.07L2465.3 281.05L2470.2 281.10L2474.8 281.21L2479.1 281.35L2483.0 281.53L2486.6 281.73L2489.8 281.95L2492.4 282.16L2494.5 282.36L2495.6 282.49L2495.6 282.49L2494.5 282.64L2492.4 282.87L2489.8 283.13L2486.6 283.40L2483.0 283.67L2479.1 283.92L2474.8 284.14L2470.2 284.32L2465.3 284.46L2460.1 284.54L2453.6 284.60L2450.5 284.44L2447.8 283.98L2445.8 283.40L2444.6 282.94ZM2529.4 282.19L2530.6 282.00L2532.6 281.71L2535.3 281.38L2538.4 281.04L2542.0 280.71L2545.9 280.40L2550.2 280.13L2554.8 279.91L2559.7 279.74L2564.9 279.66L2613.0 279.26L2616.1 279.48L2618.8 280.08L2620.9 280.83L2622.0 281.42L2622.0 281.42L2620.9 282.04L2618.8 282.82L2616.1 283.46L2613.0 283.73L2564.9 284.13L2559.7 284.13L2554.8 284.05L2550.2 283.90L2545.9 283.70L2542.0 283.46L2538.4 283.19L2535.3 282.90L2532.6 282.62L2530.6 282.37L2529.4 282.19ZM2614.2 281.49L2615.4 280.87L2617.4 280.09L2620.1 279.45L2623.2 279.18L2651.7 278.95L2654.8 279.18L2657.5 279.77L2659.6 280.52L2660.7 281.12L2660.7 281.12L2659.6 281.73L2657.5 282.51L2654.8 283.15L2651.7 283.42L2623.2 283.65L2620.1 283.42L2617.4 282.83L2615.4 282.08L2614.2 281.49ZM2657.5 281.14L2658.6 280.46L2660.6 279.59L2663.3 278.89L2666.5 278.58L2690.5 278.34L2690.5 278.81L2690.5 279.86L2690.5 280.82L2690.5 280.82L2690.5 281.78L2690.5 282.83L2690.5 283.30L2666.5 283.55L2663.3 283.30L2660.6 282.64L2658.6 281.80L2657.5 281.14Z"/><path fill="#666666" d="M1875.8 337.23L1876.4 337.08L1877.4 336.91L1878.7 336.83L1880.0 336.89L1881.1 337.04L1881.6 337.18L1881.6 337.18L1881.1 337.32L1880.0 337.49L1878.7 337.58L1877.4 337.52L1876.4 337.37L1875.8 337.23ZM1909.7 336.92L1910.2 336.77L1911.1 336.60L1912.3 336.52L1913.4 336.58L1914.3 336.73L1914.8 336.87L1914.8 336.87L1914.3 337.02L1913.4 337.18L1912.3 337.27L1911.1 337.21L1910.2 337.06L1909.7 336.92Z"/><path fill="#ffffff" d="M1944.8 336.60L1945.9 336.22L1948.0 335.80L1950.6 335.60L1953.3 335.75L1955.4 336.14L1956.5 336.49L1956.5 336.49L1955.4 336.87L1953.3 337.29L1950.6 337.50L1948.0 337.34L1945.9 336.96L1944.8 336.60ZM1968.0 336.39L1969.0 336.02L1970.8 335.60L1973.2 335.40L1975.6 335.56L1977.4 335.94L1978.4 336.30L1978.4 336.30L1977.4 336.68L1975.6 337.10L1973.2 337.30L1970.8 337.14L1969.0 336.75L1968.0 336.39ZM1995.4 336.15L1996.4 335.78L1998.2 335.36L2000.6 335.16L2003.0 335.32L2004.8 335.71L2005.8 336.06L2005.8 336.06L2004.8 336.44L2003.0 336.86L2000.6 337.06L1998.2 336.90L1996.4 336.51L1995.4 336.15ZM2052.8 335.67L2053.5 335.57L2054.8 335.43L2056.5 335.27L2058.4 335.11L2060.7 334.95L2063.2 334.81L2065.8 334.70L2068.7 334.61L2071.8 334.56L2075.1 334.64L2077.8 334.88L2079.9 335.19L2081.0 335.44L2081.0 335.44L2079.9 335.70L2077.8 336.05L2075.1 336.33L2071.8 336.46L2068.7 336.46L2065.8 336.43L2063.2 336.35L2060.7 336.25L2058.4 336.14L2056.5 336.01L2054.8 335.87L2053.5 335.75L2052.8 335.67ZM2083.0 335.42L2083.2 335.05L2083.4 334.65L2083.8 334.46L2086.7 334.62L2089.0 335.00L2090.3 335.36L2090.3 335.36L2089.0 335.74L2086.7 336.16L2083.8 336.36L2083.4 336.19L2083.2 335.79L2083.0 335.42ZM2089.3 335.37L2090.4 334.96L2092.5 334.43L2095.1 334.00L2098.3 333.81L2100.4 334.07L2102.0 334.69L2102.8 335.26L2102.8 335.26L2102.0 335.84L2100.4 336.49L2098.3 336.79L2095.1 336.65L2092.5 336.26L2090.4 335.76L2089.3 335.37ZM2102.8 335.26L2103.7 334.89L2105.4 334.47L2107.5 334.27L2110.7 334.28L2113.7 334.33L2116.4 334.42L2118.9 334.55L2121.1 334.69L2122.9 334.84L2124.4 334.99L2125.1 335.08L2125.1 335.08L2124.4 335.19L2122.9 335.36L2121.1 335.54L2118.9 335.72L2116.4 335.88L2113.7 336.02L2110.7 336.12L2107.5 336.17L2105.4 336.01L2103.7 335.62L2102.8 335.26ZM2140.5 334.96L2141.5 334.76L2143.5 334.49L2145.9 334.22L2148.9 334.02L2152.2 333.92L2153.9 334.09L2155.3 334.48L2156.0 334.84L2156.0 334.84L2155.3 335.22L2153.9 335.63L2152.2 335.82L2148.9 335.78L2145.9 335.62L2143.5 335.40L2141.5 335.15L2140.5 334.96ZM2158.0 334.83L2159.2 334.35L2161.4 333.73L2164.3 333.24L2167.7 333.02L2172.0 332.98L2175.0 333.05L2177.7 333.27L2180.1 333.59L2182.1 333.97L2183.7 334.35L2184.5 334.63L2184.5 334.63L2183.7 334.91L2182.1 335.32L2180.1 335.73L2177.7 336.09L2175.0 336.35L2172.0 336.46L2167.7 336.49L2164.3 336.33L2161.4 335.87L2159.2 335.29L2158.0 334.83ZM2186.5 334.61L2186.7 334.24L2187.0 333.84L2187.3 333.66L2190.6 333.81L2193.0 334.20L2194.4 334.55L2194.4 334.55L2193.0 334.93L2190.6 335.35L2187.3 335.56L2187.0 335.38L2186.7 334.98L2186.5 334.61ZM2192.5 334.57L2193.5 334.22L2195.4 333.78L2197.8 333.42L2200.7 333.27L2203.6 333.38L2206.0 333.70L2207.9 334.12L2208.9 334.45L2208.9 334.45L2207.9 334.79L2206.0 335.23L2203.6 335.59L2200.7 335.75L2197.8 335.63L2195.4 335.31L2193.5 334.90L2192.5 334.57ZM2206.7 334.46L2207.8 333.98L2209.8 333.37L2212.5 332.88L2215.7 332.66L2224.1 332.60L2227.3 332.77L2229.9 333.22L2232.0 333.81L2233.1 334.27L2233.1 334.27L2232.0 334.75L2229.9 335.36L2227.3 335.86L2224.1 336.07L2215.7 336.13L2212.5 335.96L2209.8 335.51L2207.8 334.93L2206.7 334.46ZM2231.8 334.28L2232.9 333.93L2235.0 333.49L2237.7 333.13L2240.8 332.97L2246.7 332.93L2249.8 333.05L2252.5 333.37L2254.6 333.78L2255.7 334.11L2255.7 334.11L2254.6 334.45L2252.5 334.89L2249.8 335.25L2246.7 335.41L2240.8 335.46L2237.7 335.34L2235.0 335.02L2232.9 334.61L2231.8 334.28ZM2253.4 334.12L2254.5 333.58L2256.6 332.88L2259.3 332.32L2262.4 332.07L2275.7 331.98L2278.9 332.18L2281.5 332.71L2283.6 333.37L2284.7 333.91L2284.7 333.91L2283.6 334.45L2281.5 335.15L2278.9 335.71L2275.7 335.95L2262.4 336.05L2259.3 335.85L2256.6 335.32L2254.5 334.65L2253.4 334.12ZM2282.1 333.92L2283.2 333.38L2285.3 332.68L2288.0 332.12L2291.1 331.87L2304.7 331.78L2307.9 331.98L2310.5 332.51L2312.6 333.18L2313.7 333.71L2313.7 333.71L2312.6 334.25L2310.5 334.95L2307.9 335.51L2304.7 335.75L2291.1 335.85L2288.0 335.65L2285.3 335.12L2283.2 334.45L2282.1 333.92ZM2311.1 333.72L2312.3 333.18L2314.3 332.48L2317.0 331.92L2320.1 331.68L2327.7 331.63L2330.7 331.71L2333.4 331.96L2335.8 332.34L2337.9 332.78L2339.4 333.22L2340.3 333.53L2340.3 333.53L2339.4 333.86L2337.9 334.31L2335.8 334.78L2333.4 335.19L2330.7 335.48L2327.7 335.60L2320.1 335.65L2317.0 335.45L2314.3 334.92L2312.3 334.26L2311.1 333.72ZM2342.3 333.52L2343.5 333.11L2345.6 332.58L2348.4 332.15L2351.7 331.97L2354.6 331.98L2357.4 332.04L2360.0 332.14L2362.5 332.29L2364.7 332.46L2366.7 332.64L2368.5 332.84L2370.0 333.03L2371.2 333.21L2371.8 333.33L2371.8 333.33L2371.2 333.45L2370.0 333.64L2368.5 333.85L2366.7 334.07L2364.7 334.29L2362.5 334.49L2360.0 334.66L2357.4 334.80L2354.6 334.90L2351.7 334.95L2348.4 334.80L2345.6 334.41L2343.5 333.91L2342.3 333.52ZM2376.9 333.29L2377.7 333.09L2379.2 332.80L2381.2 332.49L2383.5 332.20L2386.2 331.96L2389.1 331.78L2392.3 331.71L2395.3 331.73L2398.1 331.84L2400.7 332.00L2403.0 332.21L2405.1 332.45L2406.8 332.70L2408.2 332.93L2408.9 333.09L2408.9 333.09L2408.2 333.26L2406.8 333.51L2405.1 333.78L2403.0 334.04L2400.7 334.29L2398.1 334.48L2395.3 334.62L2392.3 334.69L2389.1 334.65L2386.2 334.51L2383.5 334.30L2381.2 334.04L2379.2 333.76L2377.7 333.48L2376.9 333.29ZM2414.6 333.06L2415.7 332.79L2417.7 332.46L2420.3 332.18L2423.3 332.05L2425.3 332.22L2426.8 332.62L2427.7 332.98L2427.7 332.98L2426.8 333.35L2425.3 333.76L2423.3 333.95L2420.3 333.87L2417.7 333.62L2415.7 333.31L2414.6 333.06ZM2431.1 332.96L2432.0 332.73L2433.7 332.38L2435.9 332.00L2438.4 331.60L2441.4 331.22L2444.6 330.86L2448.1 330.55L2451.9 330.30L2455.9 330.13L2460.1 330.05L2602.0 329.28L2605.1 329.33L2608.1 329.49L2610.8 329.75L2613.3 330.09L2615.6 330.47L2617.6 330.88L2619.3 331.29L2620.6 331.66L2621.3 331.92L2621.3 331.92L2620.6 332.18L2619.3 332.56L2617.6 332.99L2615.6 333.42L2613.3 333.83L2610.8 334.18L2608.1 334.47L2605.1 334.66L2602.0 334.74L2460.1 335.52L2455.9 335.49L2451.9 335.36L2448.1 335.16L2444.6 334.89L2441.4 334.57L2438.4 334.22L2435.9 333.86L2433.7 333.50L2432.0 333.18L2431.1 332.96ZM2630.4 331.87L2631.1 331.59L2632.4 331.19L2634.1 330.75L2636.1 330.32L2638.3 329.93L2640.8 329.62L2643.6 329.40L2646.5 329.31L2690.5 329.04L2690.5 329.51L2690.5 330.57L2690.5 331.53L2690.5 331.53L2690.5 332.49L2690.5 333.54L2690.5 334.01L2646.5 334.28L2643.6 334.22L2640.8 334.03L2638.3 333.74L2636.1 333.37L2634.1 332.96L2632.4 332.54L2631.1 332.14L2630.4 331.87Z"/><path fill="#808080" d="M2011.9 336.01L2012.3 335.87L2012.9 335.70L2013.8 335.62L2014.8 335.69L2015.6 335.84L2016.1 335.98L2016.1 335.98L2015.6 336.12L2014.8 336.29L2013.8 336.37L2012.9 336.31L2012.3 336.15L2011.9 336.01Z"/><path fill="#999999" d="M2049.0 335.70L2049.7 335.55L2050.9 335.38L2052.5 335.30L2054.1 335.36L2055.4 335.50L2056.1 335.64L2056.1 335.64L2055.4 335.79L2054.1 335.96L2052.5 336.04L2050.9 335.99L2049.7 335.84L2049.0 335.70Z"/><path fill="#666666" d="M1875.8 373.67L1876.4 373.52L1877.4 373.35L1878.7 373.27L1880.0 373.33L1881.1 373.47L1881.6 373.61L1881.6 373.61L1881.1 373.76L1880.0 373.93L1878.7 374.01L1877.4 373.95L1876.4 373.81L1875.8 373.67ZM1909.7 373.35L1910.2 373.21L1911.1 373.04L1912.3 372.96L1913.4 373.02L1914.3 373.17L1914.8 373.31L1914.8 373.31L1914.3 373.46L1913.4 373.62L1912.3 373.70L1911.1 373.64L1910.2 373.49L1909.7 373.35Z"/><path fill="#ffffff" d="M1944.8 373.04L1945.9 372.66L1948.0 372.24L1950.6 372.03L1953.3 372.19L1955.4 372.58L1956.5 372.93L1956.5 372.93L1955.4 373.31L1953.3 373.73L1950.6 373.93L1948.0 373.78L1945.9 373.39L1944.8 373.04ZM1968.0 372.83L1969.0 372.45L1970.8 372.04L1973.2 371.83L1975.6 371.99L1977.4 372.38L1978.4 372.74L1978.4 372.74L1977.4 373.12L1975.6 373.53L1973.2 373.73L1970.8 373.58L1969.0 373.19L1968.0 372.83ZM1995.4 372.59L1996.4 372.22L1998.2 371.80L2000.6 371.60L2003.0 371.76L2004.8 372.14L2005.8 372.50L2005.8 372.50L2004.8 372.88L2003.0 373.30L2000.6 373.50L1998.2 373.34L1996.4 372.95L1995.4 372.59ZM2052.8 372.11L2053.5 372.01L2054.8 371.87L2056.5 371.71L2058.4 371.55L2060.7 371.39L2063.2 371.25L2065.8 371.13L2068.7 371.05L2071.8 371.00L2075.1 371.08L2077.8 371.32L2079.9 371.63L2081.0 371.87L2081.0 371.87L2079.9 372.14L2077.8 372.48L2075.1 372.77L2071.8 372.90L2068.7 372.90L2065.8 372.86L2063.2 372.79L2060.7 372.69L2058.4 372.57L2056.5 372.44L2054.8 372.31L2053.5 372.19L2052.8 372.11ZM2083.0 371.86L2083.2 371.49L2083.4 371.08L2083.8 370.90L2086.7 371.06L2089.0 371.44L2090.3 371.80L2090.3 371.80L2089.0 372.18L2086.7 372.60L2083.8 372.80L2083.4 372.63L2083.2 372.22L2083.0 371.86ZM2089.3 371.81L2090.4 371.39L2092.5 370.87L2095.1 370.44L2098.3 370.25L2100.4 370.51L2102.0 371.13L2102.8 371.70L2102.8 371.70L2102.0 372.28L2100.4 372.93L2098.3 373.22L2095.1 373.08L2092.5 372.70L2090.4 372.20L2089.3 371.81ZM2102.8 371.70L2103.7 371.32L2105.4 370.91L2107.5 370.71L2110.7 370.71L2113.7 370.77L2116.4 370.86L2118.9 370.99L2121.1 371.13L2122.9 371.28L2124.4 371.42L2125.1 371.52L2125.1 371.52L2124.4 371.63L2122.9 371.80L2121.1 371.98L2118.9 372.15L2116.4 372.32L2113.7 372.46L2110.7 372.56L2107.5 372.61L2105.4 372.45L2103.7 372.06L2102.8 371.70ZM2140.5 371.40L2141.5 371.20L2143.5 370.92L2145.9 370.66L2148.9 370.46L2152.2 370.36L2153.9 370.53L2155.3 370.92L2156.0 371.28L2156.0 371.28L2155.3 371.65L2153.9 372.07L2152.2 372.26L2148.9 372.22L2145.9 372.06L2143.5 371.83L2141.5 371.59L2140.5 371.40ZM2158.0 371.27L2159.2 370.79L2161.4 370.17L2164.3 369.67L2167.7 369.45L2172.0 369.42L2175.0 369.49L2177.7 369.71L2180.1 370.03L2182.1 370.41L2183.7 370.79L2184.5 371.06L2184.5 371.06L2183.7 371.35L2182.1 371.76L2180.1 372.17L2177.7 372.53L2175.0 372.79L2172.0 372.90L2167.7 372.93L2164.3 372.76L2161.4 372.31L2159.2 371.73L2158.0 371.27ZM2186.5 371.05L2186.7 370.68L2187.0 370.28L2187.3 370.09L2190.6 370.25L2193.0 370.63L2194.4 370.99L2194.4 370.99L2193.0 371.37L2190.6 371.79L2187.3 371.99L2187.0 371.82L2186.7 371.42L2186.5 371.05ZM2192.5 371.01L2193.5 370.66L2195.4 370.22L2197.8 369.86L2200.7 369.70L2203.6 369.82L2206.0 370.14L2207.9 370.55L2208.9 370.88L2208.9 370.88L2207.9 371.23L2206.0 371.67L2203.6 372.03L2200.7 372.19L2197.8 372.07L2195.4 371.75L2193.5 371.33L2192.5 371.01ZM2206.7 370.90L2207.8 370.42L2209.8 369.81L2212.5 369.31L2215.7 369.10L2224.1 369.03L2227.3 369.20L2229.9 369.66L2232.0 370.24L2233.1 370.71L2233.1 370.71L2232.0 371.19L2229.9 371.80L2227.3 372.29L2224.1 372.51L2215.7 372.57L2212.5 372.40L2209.8 371.94L2207.8 371.36L2206.7 370.90ZM2231.8 370.72L2232.9 370.37L2235.0 369.93L2237.7 369.57L2240.8 369.41L2246.7 369.37L2249.8 369.48L2252.5 369.81L2254.6 370.22L2255.7 370.55L2255.7 370.55L2254.6 370.89L2252.5 371.33L2249.8 371.69L2246.7 371.85L2240.8 371.89L2237.7 371.78L2235.0 371.46L2232.9 371.04L2231.8 370.72ZM2253.4 370.56L2254.5 370.02L2256.6 369.32L2259.3 368.76L2262.4 368.51L2275.7 368.42L2278.9 368.62L2281.5 369.14L2283.6 369.81L2284.7 370.34L2284.7 370.34L2283.6 370.89L2281.5 371.59L2278.9 372.15L2275.7 372.39L2262.4 372.48L2259.3 372.29L2256.6 371.76L2254.5 371.09L2253.4 370.56ZM2282.1 370.36L2283.2 369.81L2285.3 369.12L2288.0 368.55L2291.1 368.31L2304.7 368.22L2307.9 368.42L2310.5 368.95L2312.6 369.61L2313.7 370.14L2313.7 370.14L2312.6 370.69L2310.5 371.39L2307.9 371.95L2304.7 372.19L2291.1 372.28L2288.0 372.09L2285.3 371.56L2283.2 370.89L2282.1 370.36ZM2311.1 370.16L2312.3 369.62L2314.3 368.92L2317.0 368.36L2320.1 368.12L2327.7 368.06L2330.7 368.15L2333.4 368.40L2335.8 368.78L2337.9 369.22L2339.4 369.65L2340.3 369.97L2340.3 369.97L2339.4 370.29L2337.9 370.75L2335.8 371.22L2333.4 371.62L2330.7 371.91L2327.7 372.04L2320.1 372.09L2317.0 371.89L2314.3 371.36L2312.3 370.69L2311.1 370.16ZM2342.3 369.95L2343.5 369.54L2345.6 369.02L2348.4 368.59L2351.7 368.40L2354.6 368.41L2357.4 368.48L2360.0 368.58L2362.5 368.72L2364.7 368.89L2366.7 369.08L2368.5 369.28L2370.0 369.47L2371.2 369.64L2371.8 369.76L2371.8 369.76L2371.2 369.89L2370.0 370.08L2368.5 370.29L2366.7 370.51L2364.7 370.72L2362.5 370.92L2360.0 371.10L2357.4 371.24L2354.6 371.34L2351.7 371.38L2348.4 371.24L2345.6 370.85L2343.5 370.35L2342.3 369.95ZM2376.9 369.73L2377.7 369.53L2379.2 369.24L2381.2 368.93L2383.5 368.64L2386.2 368.39L2389.1 368.22L2392.3 368.14L2395.3 368.17L2398.1 368.27L2400.7 368.44L2403.0 368.65L2405.1 368.89L2406.8 369.14L2408.2 369.37L2408.9 369.53L2408.9 369.53L2408.2 369.70L2406.8 369.95L2405.1 370.22L2403.0 370.48L2400.7 370.72L2398.1 370.92L2395.3 371.06L2392.3 371.12L2389.1 371.09L2386.2 370.95L2383.5 370.74L2381.2 370.48L2379.2 370.19L2377.7 369.92L2376.9 369.73ZM2414.6 369.50L2415.7 369.23L2417.7 368.89L2420.3 368.62L2423.3 368.49L2425.3 368.66L2426.8 369.05L2427.7 369.42L2427.7 369.42L2426.8 369.79L2425.3 370.20L2423.3 370.39L2420.3 370.30L2417.7 370.06L2415.7 369.75L2414.6 369.50ZM2431.1 369.39L2432.0 369.16L2433.7 368.82L2435.9 368.44L2438.4 368.04L2441.4 367.65L2444.6 367.30L2448.1 366.99L2451.9 366.74L2455.9 366.57L2460.1 366.49L2602.0 365.72L2605.1 365.77L2608.1 365.93L2610.8 366.19L2613.3 366.52L2615.6 366.91L2617.6 367.32L2619.3 367.73L2620.6 368.10L2621.3 368.35L2621.3 368.35L2620.6 368.62L2619.3 369.00L2617.6 369.43L2615.6 369.86L2613.3 370.26L2610.8 370.62L2608.1 370.91L2605.1 371.10L2602.0 371.18L2460.1 371.95L2455.9 371.93L2451.9 371.80L2448.1 371.60L2444.6 371.33L2441.4 371.01L2438.4 370.66L2435.9 370.29L2433.7 369.94L2432.0 369.61L2431.1 369.39ZM2630.4 368.31L2631.1 368.03L2632.4 367.63L2634.1 367.19L2636.1 366.76L2638.3 366.37L2640.8 366.05L2643.6 365.84L2646.5 365.75L2690.5 365.48L2690.5 365.95L2690.5 367.00L2690.5 367.96L2690.5 367.96L2690.5 368.92L2690.5 369.98L2690.5 370.45L2646.5 370.72L2643.6 370.66L2640.8 370.47L2638.3 370.17L2636.1 369.81L2634.1 369.40L2632.4 368.97L2631.1 368.58L2630.4 368.31Z"/><path fill="#808080" d="M2011.9 372.45L2012.3 372.30L2012.9 372.14L2013.8 372.06L2014.8 372.12L2015.6 372.27L2016.1 372.41L2016.1 372.41L2015.6 372.56L2014.8 372.73L2013.8 372.81L2012.9 372.74L2012.3 372.59L2011.9 372.45Z"/><path fill="#999999" d="M2049.0 372.14L2049.7 371.99L2050.9 371.82L2052.5 371.74L2054.1 371.79L2055.4 371.94L2056.1 372.08L2056.1 372.08L2055.4 372.23L2054.1 372.40L2052.5 372.48L2050.9 372.42L2049.7 372.28L2049.0 372.14Z"/><path fill="#ffffff" d="M1819.6 433.55L1819.6 432.93L1819.6 432.24L1819.6 431.94L1928.4 431.07L2037.3 430.21L2146.2 429.42L2255.0 428.70L2363.9 428.04L2472.8 427.46L2581.6 426.96L2690.5 426.45L2690.5 426.76L2690.5 427.44L2690.5 428.07L2690.5 428.07L2690.5 428.69L2690.5 429.37L2690.5 429.68L2581.6 430.18L2472.8 430.69L2363.9 431.27L2255.0 431.92L2146.2 432.64L2037.3 433.44L1928.4 434.30L1819.6 435.17L1819.6 434.86L1819.6 434.18L1819.6 433.55ZM1819.6 433.55L1819.6 432.50L1819.6 431.34L1819.6 430.82L1911.0 430.10L2002.5 429.36L2094.0 428.67L2185.4 428.03L2188.6 428.31L2191.2 429.04L2193.3 429.97L2194.4 430.70L2194.4 430.70L2193.3 431.45L2191.2 432.40L2188.6 433.17L2185.4 433.49L2094.0 434.13L2002.5 434.82L1911.0 435.56L1819.6 436.28L1819.6 435.77L1819.6 434.61L1819.6 433.55ZM2190.5 430.73L2191.7 430.05L2193.7 429.18L2196.4 428.48L2199.5 428.18L2266.0 427.76L2269.2 428.01L2271.8 428.68L2273.9 429.52L2275.0 430.18L2275.0 430.18L2273.9 430.86L2271.8 431.73L2269.2 432.43L2266.0 432.72L2199.5 433.15L2196.4 432.90L2193.7 432.23L2191.7 431.39L2190.5 430.73ZM2271.2 430.21L2272.3 429.53L2274.3 428.66L2277.0 427.97L2280.2 427.67L2342.8 427.30L2345.9 427.55L2348.6 428.22L2350.6 429.06L2351.8 429.73L2351.8 429.73L2350.6 430.41L2348.6 431.27L2345.9 431.97L2342.8 432.26L2280.2 432.64L2277.0 432.38L2274.3 431.71L2272.3 430.87L2271.2 430.21ZM2349.2 429.74L2350.2 428.97L2352.2 428.11L2354.7 427.72L2357.2 428.09L2359.1 428.92L2360.2 429.68L2360.2 429.68L2359.1 430.45L2357.2 431.31L2354.7 431.70L2352.2 431.34L2350.2 430.50L2349.2 429.74ZM2356.9 429.70L2358.2 428.92L2360.4 428.07L2363.4 427.67L2366.3 428.03L2368.6 428.86L2369.8 429.62L2369.8 429.62L2368.6 430.40L2366.3 431.26L2363.4 431.65L2360.4 431.29L2358.2 430.46L2356.9 429.70ZM2366.6 429.64L2367.7 428.96L2369.8 428.10L2372.4 427.40L2375.6 427.11L2470.8 426.61L2473.9 426.87L2476.6 427.53L2478.7 428.38L2479.8 429.04L2479.8 429.04L2478.7 429.72L2476.6 430.58L2473.9 431.28L2470.8 431.57L2375.6 432.08L2372.4 431.82L2369.8 431.15L2367.7 430.31L2366.6 429.64ZM2475.9 429.06L2477.0 428.45L2479.1 427.67L2481.8 427.05L2484.9 426.78L2495.0 426.73L2498.1 426.97L2500.8 427.57L2502.8 428.33L2504.0 428.93L2504.0 428.93L2502.8 429.54L2500.8 430.31L2498.1 430.94L2495.0 431.20L2484.9 431.25L2481.8 431.02L2479.1 430.42L2477.0 429.66L2475.9 429.06ZM2500.1 428.94L2501.2 428.30L2503.3 427.48L2505.9 426.82L2509.1 426.54L2546.6 426.37L2549.7 426.61L2552.4 427.25L2554.4 428.05L2555.6 428.68L2555.6 428.68L2554.4 429.33L2552.4 430.15L2549.7 430.81L2546.6 431.08L2509.1 431.26L2505.9 431.01L2503.3 430.38L2501.2 429.58L2500.1 428.94ZM2551.7 428.70L2552.8 428.06L2554.9 427.24L2557.5 426.58L2560.7 426.30L2585.3 426.19L2588.4 426.44L2591.1 427.08L2593.1 427.88L2594.3 428.51L2594.3 428.51L2593.1 429.16L2591.1 429.98L2588.4 430.64L2585.3 430.91L2560.7 431.02L2557.5 430.77L2554.9 430.14L2552.8 429.34L2551.7 428.70ZM2590.4 428.53L2591.5 427.89L2593.6 427.07L2596.2 426.41L2599.4 426.13L2617.5 426.06L2620.7 426.31L2623.3 426.94L2625.4 427.75L2626.5 428.38L2626.5 428.38L2625.4 429.02L2623.3 429.84L2620.7 430.50L2617.5 430.78L2599.4 430.85L2596.2 430.60L2593.6 429.97L2591.5 429.17L2590.4 428.53ZM2622.6 428.40L2623.8 427.79L2625.8 427.01L2628.5 426.39L2631.6 426.12L2633.6 426.12L2636.8 426.35L2639.4 426.95L2641.5 427.71L2642.6 428.31L2642.6 428.31L2641.5 428.92L2639.4 429.70L2636.8 430.32L2633.6 430.59L2631.6 430.59L2628.5 430.36L2625.8 429.76L2623.8 429.00L2622.6 428.40ZM2638.8 428.33L2639.9 427.65L2641.9 426.79L2644.6 426.10L2647.8 425.81L2690.5 425.58L2690.5 426.05L2690.5 427.11L2690.5 428.07L2690.5 428.07L2690.5 429.03L2690.5 430.08L2690.5 430.55L2647.8 430.78L2644.6 430.51L2641.9 429.84L2639.9 429.00L2638.8 428.33Z"/><path fill="#ffffff" d="M1819.6 469.99L1819.6 469.37L1819.6 468.68L1819.6 468.38L1928.4 467.51L2037.3 466.65L2146.2 465.85L2255.0 465.13L2363.9 464.48L2472.8 463.90L2581.6 463.39L2690.5 462.89L2690.5 463.19L2690.5 463.88L2690.5 464.50L2690.5 464.50L2690.5 465.13L2690.5 465.81L2690.5 466.12L2581.6 466.62L2472.8 467.13L2363.9 467.71L2255.0 468.36L2146.2 469.08L2037.3 469.87L1928.4 470.74L1819.6 471.60L1819.6 471.30L1819.6 470.61L1819.6 469.99ZM1819.6 469.99L1819.6 468.93L1819.6 467.77L1819.6 467.26L1911.0 466.54L2002.5 465.80L2094.0 465.11L2185.4 464.47L2188.6 464.75L2191.2 465.48L2193.3 466.41L2194.4 467.14L2194.4 467.14L2193.3 467.89L2191.2 468.84L2188.6 469.61L2185.4 469.93L2094.0 470.57L2002.5 471.26L1911.0 472.00L1819.6 472.72L1819.6 472.20L1819.6 471.05L1819.6 469.99ZM2190.5 467.17L2191.7 466.48L2193.7 465.62L2196.4 464.92L2199.5 464.62L2266.0 464.19L2269.2 464.45L2271.8 465.12L2273.9 465.96L2275.0 466.62L2275.0 466.62L2273.9 467.30L2271.8 468.17L2269.2 468.86L2266.0 469.16L2199.5 469.59L2196.4 469.33L2193.7 468.67L2191.7 467.83L2190.5 467.17ZM2271.2 466.65L2272.3 465.97L2274.3 465.10L2277.0 464.40L2280.2 464.11L2342.8 463.73L2345.9 463.99L2348.6 464.66L2350.6 465.50L2351.8 466.16L2351.8 466.16L2350.6 466.84L2348.6 467.71L2345.9 468.41L2342.8 468.70L2280.2 469.07L2277.0 468.82L2274.3 468.15L2272.3 467.31L2271.2 466.65ZM2349.2 466.18L2350.2 465.41L2352.2 464.55L2354.7 464.16L2357.2 464.52L2359.1 465.36L2360.2 466.12L2360.2 466.12L2359.1 466.89L2357.2 467.74L2354.7 468.13L2352.2 467.77L2350.2 466.94L2349.2 466.18ZM2356.9 466.14L2358.2 465.36L2360.4 464.50L2363.4 464.11L2366.3 464.47L2368.6 465.30L2369.8 466.06L2369.8 466.06L2368.6 466.84L2366.3 467.69L2363.4 468.09L2360.4 467.73L2358.2 466.90L2356.9 466.14ZM2366.6 466.08L2367.7 465.40L2369.8 464.54L2372.4 463.84L2375.6 463.55L2470.8 463.04L2473.9 463.30L2476.6 463.97L2478.7 464.81L2479.8 465.48L2479.8 465.48L2478.7 466.16L2476.6 467.02L2473.9 467.72L2470.8 468.01L2375.6 468.51L2372.4 468.25L2369.8 467.59L2367.7 466.75L2366.6 466.08ZM2475.9 465.50L2477.0 464.89L2479.1 464.11L2481.8 463.49L2484.9 463.22L2495.0 463.17L2498.1 463.40L2500.8 464.00L2502.8 464.76L2504.0 465.36L2504.0 465.36L2502.8 465.97L2500.8 466.75L2498.1 467.38L2495.0 467.64L2484.9 467.69L2481.8 467.46L2479.1 466.86L2477.0 466.10L2475.9 465.50ZM2500.1 465.38L2501.2 464.74L2503.3 463.92L2505.9 463.26L2509.1 462.98L2546.6 462.80L2549.7 463.05L2552.4 463.69L2554.4 464.49L2555.6 465.12L2555.6 465.12L2554.4 465.77L2552.4 466.59L2549.7 467.24L2546.6 467.52L2509.1 467.70L2505.9 467.45L2503.3 466.82L2501.2 466.02L2500.1 465.38ZM2551.7 465.14L2552.8 464.50L2554.9 463.68L2557.5 463.02L2560.7 462.74L2585.3 462.63L2588.4 462.88L2591.1 463.52L2593.1 464.32L2594.3 464.95L2594.3 464.95L2593.1 465.60L2591.1 466.42L2588.4 467.07L2585.3 467.35L2560.7 467.46L2557.5 467.21L2554.9 466.57L2552.8 465.77L2551.7 465.14ZM2590.4 464.97L2591.5 464.32L2593.6 463.51L2596.2 462.85L2599.4 462.57L2617.5 462.50L2620.7 462.74L2623.3 463.38L2625.4 464.18L2626.5 464.82L2626.5 464.82L2625.4 465.46L2623.3 466.28L2620.7 466.94L2617.5 467.21L2599.4 467.29L2596.2 467.04L2593.6 466.40L2591.5 465.60L2590.4 464.97ZM2622.6 464.83L2623.8 464.22L2625.8 463.45L2628.5 462.82L2631.6 462.56L2633.6 462.55L2636.8 462.79L2639.4 463.39L2641.5 464.15L2642.6 464.75L2642.6 464.75L2641.5 465.36L2639.4 466.14L2636.8 466.76L2633.6 467.02L2631.6 467.03L2628.5 466.80L2625.8 466.19L2623.8 465.43L2622.6 464.83ZM2638.8 464.77L2639.9 464.09L2641.9 463.23L2644.6 462.54L2647.8 462.25L2690.5 462.02L2690.5 462.49L2690.5 463.54L2690.5 464.50L2690.5 464.50L2690.5 465.46L2690.5 466.52L2690.5 466.99L2647.8 467.21L2644.6 466.95L2641.9 466.28L2639.9 465.44L2638.8 464.77Z"/><path fill="#ffffff" d="M1819.6 541.87L1819.6 541.19L1819.6 540.46L1819.6 540.13L1928.4 539.39L2037.3 538.66L2146.2 537.99L2255.0 537.40L2363.9 536.88L2472.8 536.43L2581.6 536.05L2690.5 535.67L2690.5 536.00L2690.5 536.74L2690.5 537.41L2690.5 537.41L2690.5 538.08L2690.5 538.82L2690.5 539.15L2581.6 539.52L2472.8 539.90L2363.9 540.35L2255.0 540.88L2146.2 541.47L2037.3 542.13L1928.4 542.87L1819.6 543.60L1819.6 543.28L1819.6 542.54L1819.6 541.87ZM1819.6 541.87L1819.6 540.95L1819.6 539.95L1819.6 539.51L1934.0 538.73L2048.4 537.96L2162.8 537.28L2166.0 537.52L2168.7 538.15L2170.7 538.95L2171.8 539.58L2171.8 539.58L2170.7 540.23L2168.7 541.05L2166.0 541.71L2162.8 541.99L2048.4 542.68L1934.0 543.45L1819.6 544.22L1819.6 543.78L1819.6 542.78L1819.6 541.87ZM2168.0 539.61L2169.1 538.96L2171.2 538.14L2173.8 537.48L2177.0 537.20L2260.2 536.75L2343.4 536.35L2346.6 536.60L2349.2 537.23L2351.3 538.03L2352.4 538.67L2352.4 538.67L2351.3 539.31L2349.2 540.13L2346.6 540.79L2343.4 541.07L2260.2 541.47L2177.0 541.91L2173.8 541.67L2171.2 541.04L2169.1 540.24L2168.0 539.61ZM2348.5 538.68L2349.7 538.01L2351.7 537.14L2354.4 536.45L2357.5 536.16L2468.5 535.70L2579.5 535.31L2690.5 534.93L2690.5 535.39L2690.5 536.45L2690.5 537.41L2690.5 537.41L2690.5 538.37L2690.5 539.42L2690.5 539.89L2579.5 540.27L2468.5 540.66L2357.5 541.13L2354.4 540.86L2351.7 540.20L2349.7 539.35L2348.5 538.68Z"/><path fill="#ffffff" d="M1819.6 579.05L1819.6 578.37L1819.6 577.64L1819.6 577.31L1928.4 576.44L2037.3 575.58L2146.2 574.79L2255.0 574.06L2363.9 573.41L2472.8 572.83L2581.6 572.32L2690.5 571.82L2690.5 572.15L2690.5 572.89L2690.5 573.56L2690.5 573.56L2690.5 574.23L2690.5 574.97L2690.5 575.30L2581.6 575.80L2472.8 576.31L2363.9 576.89L2255.0 577.54L2146.2 578.26L2037.3 579.05L1928.4 579.92L1819.6 580.78L1819.6 580.46L1819.6 579.72L1819.6 579.05ZM1819.6 579.05L1819.6 578.13L1819.6 577.13L1819.6 576.69L1934.0 575.77L2048.4 574.87L2162.8 574.05L2166.0 574.29L2168.7 574.92L2170.7 575.72L2171.8 576.35L2171.8 576.35L2170.7 576.99L2168.7 577.82L2166.0 578.48L2162.8 578.77L2048.4 579.59L1934.0 580.49L1819.6 581.40L1819.6 580.96L1819.6 579.96L1819.6 579.05ZM2168.0 576.37L2169.1 575.73L2171.2 574.90L2173.8 574.24L2177.0 573.95L2260.2 573.41L2343.4 572.91L2346.6 573.15L2349.2 573.79L2351.3 574.58L2352.4 575.22L2352.4 575.22L2351.3 575.86L2349.2 576.68L2346.6 577.35L2343.4 577.63L2260.2 578.13L2177.0 578.67L2173.8 578.43L2171.2 577.80L2169.1 577.01L2168.0 576.37ZM2348.5 575.24L2349.7 574.56L2351.7 573.70L2354.4 573.00L2357.5 572.70L2468.5 572.11L2579.5 571.59L2690.5 571.08L2690.5 571.55L2690.5 572.60L2690.5 573.56L2690.5 573.56L2690.5 574.52L2690.5 575.57L2690.5 576.04L2579.5 576.55L2468.5 577.08L2357.5 577.67L2354.4 577.41L2351.7 576.75L2349.7 575.91L2348.5 575.24Z"/><path fill="#ffffff" d="M1819.6 666.70L1819.6 666.13L1819.6 665.49L1819.6 665.21L1928.4 664.56L2037.3 663.91L2146.2 663.33L2255.0 662.83L2363.9 662.39L2472.8 662.02L2581.6 661.73L2690.5 661.44L2690.5 661.72L2690.5 662.35L2690.5 662.93L2690.5 662.93L2690.5 663.51L2690.5 664.14L2690.5 664.42L2581.6 664.71L2472.8 665.00L2363.9 665.37L2255.0 665.81L2146.2 666.31L2037.3 666.89L1928.4 667.54L1819.6 668.19L1819.6 667.91L1819.6 667.28L1819.6 666.70ZM2131.2 664.90L2137.3 664.72L2148.5 664.46L2163.0 664.15L2180.2 663.82L2199.6 663.50L2221.1 663.18L2244.5 662.89L2269.6 662.64L2296.4 662.44L2324.7 662.29L2416.1 661.96L2507.6 661.67L2599.1 661.44L2690.5 661.19L2690.5 661.52L2690.5 662.26L2690.5 662.93L2690.5 662.93L2690.5 663.60L2690.5 664.34L2690.5 664.67L2599.1 664.92L2507.6 665.15L2416.1 665.43L2324.7 665.77L2296.4 665.85L2269.6 665.86L2244.5 665.83L2221.1 665.75L2199.6 665.63L2180.2 665.49L2163.0 665.33L2148.5 665.17L2137.3 665.01L2131.2 664.90Z"/><path fill="#ffffff" d="M1819.6 703.46L1819.6 702.79L1819.6 702.05L1819.6 701.72L1928.4 701.07L2037.3 700.42L2146.2 699.84L2255.0 699.34L2363.9 698.90L2472.8 698.54L2581.6 698.24L2690.5 697.95L2690.5 698.28L2690.5 699.02L2690.5 699.69L2690.5 699.69L2690.5 700.36L2690.5 701.10L2690.5 701.43L2581.6 701.72L2472.8 702.01L2363.9 702.38L2255.0 702.81L2146.2 703.32L2037.3 703.90L1928.4 704.55L1819.6 705.20L1819.6 704.87L1819.6 704.13L1819.6 703.46ZM2131.2 701.66L2137.3 701.46L2148.5 701.17L2163.0 700.82L2180.2 700.46L2199.6 700.10L2221.1 699.76L2244.5 699.45L2269.6 699.17L2296.4 698.95L2324.7 698.80L2416.1 698.47L2507.6 698.19L2599.1 697.95L2690.5 697.70L2690.5 698.08L2690.5 698.92L2690.5 699.69L2690.5 699.69L2690.5 700.46L2690.5 701.30L2690.5 701.68L2599.1 701.92L2507.6 702.16L2416.1 702.44L2324.7 702.77L2296.4 702.85L2269.6 702.85L2244.5 702.80L2221.1 702.69L2199.6 702.55L2180.2 702.37L2163.0 702.18L2148.5 701.98L2137.3 701.79L2131.2 701.66Z"/><path d="M2237.3 137.8L2269.5 137.6" stroke="#0c0c0c" stroke-width="1.6" fill="none"/><path d="M2362.9 137.4L2385.5 137.3" stroke="#111111" stroke-width="1.6" fill="none"/><path d="M2403.2 137.2L2425.7 137.1" stroke="#1e1e1e" stroke-width="1.8" fill="none"/><path d="M2446.7 137.0L2488.6 136.8" stroke="#111111" stroke-width="1.6" fill="none"/><path d="M2401.6 101.3L2427.3 101.2" stroke="#111111" stroke-width="1.6" fill="none"/></g><path d="M1844.76 166.62L1947.33 165.40L2049.90 164.23L2152.47 163.12L2255.04 162.08L2357.61 161.11L2460.18 160.19L2562.75 159.34L2665.32 158.55M1844.76 182.29L1947.33 181.06L2049.90 179.90L2152.47 178.79L2255.04 177.75L2357.61 176.77L2460.18 175.86L2562.75 175.00L2665.32 174.21M1844.76 203.06L1947.33 201.87L2049.90 200.75L2152.47 199.68L2255.04 198.68L2357.61 197.74L2460.18 196.87L2562.75 196.06L2665.32 195.31M1844.76 218.73L1947.33 217.54L2049.90 216.41L2152.47 215.35L2255.04 214.35L2357.61 213.41L2460.18 212.54L2562.75 211.72L2665.32 210.97M1844.76 243.69L1947.33 242.46L2049.90 241.30L2152.47 240.19L2255.04 239.15L2357.61 238.17L2460.18 237.26L2562.75 236.40L2665.32 235.61M1844.76 259.36L1947.33 258.13L2049.90 256.96L2152.47 255.86L2255.04 254.82L2357.61 253.84L2460.18 252.92L2562.75 252.07L2665.32 251.28M1844.76 280.13L1947.33 278.90L2049.90 277.73L2152.47 276.63L2255.04 275.59L2357.61 274.61L2460.18 273.69L2562.75 272.84L2665.32 272.05M1844.76 295.79L1947.33 294.57L2049.90 293.40L2152.47 292.30L2255.04 291.25L2357.61 290.28L2460.18 289.36L2562.75 288.51L2665.32 287.72M1844.76 328.82L1947.33 327.71L2049.90 326.66L2152.47 325.68L2255.04 324.76L2357.61 323.90L2460.18 323.11L2562.75 322.38L2665.32 321.71M1844.76 344.48L1947.33 343.38L2049.90 342.33L2152.47 341.35L2255.04 340.43L2357.61 339.57L2460.18 338.78L2562.75 338.05L2665.32 337.38M1844.76 365.25L1947.33 364.15L2049.90 363.10L2152.47 362.12L2255.04 361.20L2357.61 360.34L2460.18 359.55L2562.75 358.82L2665.32 358.15M1844.76 380.92L1947.33 379.81L2049.90 378.77L2152.47 377.79L2255.04 376.87L2357.61 376.01L2460.18 375.21L2562.75 374.48L2665.32 373.81M1844.76 424.04L1947.33 423.18L2049.90 422.38L2152.47 421.64L2255.04 420.96L2357.61 420.34L2460.18 419.79L2562.75 419.30L2665.32 418.87M1844.76 439.71L1947.33 438.85L2049.90 438.04L2152.47 437.30L2255.04 436.62L2357.61 436.01L2460.18 435.46L2562.75 434.97L2665.32 434.54M1844.76 460.80L1947.33 459.90L2049.90 459.06L2152.47 458.27L2255.04 457.56L2357.61 456.90L2460.18 456.31L2562.75 455.78L2665.32 455.31M1844.76 476.47L1947.33 475.57L2049.90 474.72L2152.47 473.94L2255.04 473.22L2357.61 472.57L2460.18 471.98L2562.75 471.45L2665.32 470.98M1844.76 532.71L1947.33 531.93L2049.90 531.20L2152.47 530.54L2255.04 529.95L2357.61 529.41L2460.18 528.94L2562.75 528.53L2665.32 528.19M1844.76 548.38L1947.33 547.59L2049.90 546.87L2152.47 546.21L2255.04 545.61L2357.61 545.08L2460.18 544.61L2562.75 544.20L2665.32 543.85M1844.76 570.18L1947.33 569.32L2049.90 568.51L2152.47 567.77L2255.04 567.10L2357.61 566.48L2460.18 565.93L2562.75 565.44L2665.32 565.01M1844.76 585.85L1947.33 584.98L2049.90 584.18L2152.47 583.44L2255.04 582.76L2357.61 582.15L2460.18 581.60L2562.75 581.11L2665.32 580.68M1844.76 657.56L1947.33 656.90L2049.90 656.30L2152.47 655.76L2255.04 655.29L2357.61 654.87L2460.18 654.52L2562.75 654.24L2665.32 654.01M1844.76 673.23L1947.33 672.57L2049.90 671.97L2152.47 671.43L2255.04 670.95L2357.61 670.54L2460.18 670.19L2562.75 669.90L2665.32 669.68M1844.76 695.29L1947.33 694.55L2049.90 693.87L2152.47 693.25L2255.04 692.69L2357.61 692.20L2460.18 691.77L2562.75 691.40L2665.32 691.09M1844.76 710.96L1947.33 710.22L2049.90 709.53L2152.47 708.92L2255.04 708.36L2357.61 707.86L2460.18 707.43L2562.75 707.07L2665.32 706.76" stroke="#000" stroke-width="2.7" fill="none"/><path d="M1844.76 166.62L1947.33 165.40L2049.90 164.23L2152.47 163.12L2255.04 162.08L2357.61 161.11L2460.18 160.19L2562.75 159.34L2665.32 158.55M1844.76 182.29L1947.33 181.06L2049.90 179.90L2152.47 178.79L2255.04 177.75L2357.61 176.77L2460.18 175.86L2562.75 175.00L2665.32 174.21M1844.76 203.06L1947.33 201.87L2049.90 200.75L2152.47 199.68L2255.04 198.68L2357.61 197.74L2460.18 196.87L2562.75 196.06L2665.32 195.31M1844.76 218.73L1947.33 217.54L2049.90 216.41L2152.47 215.35L2255.04 214.35L2357.61 213.41L2460.18 212.54L2562.75 211.72L2665.32 210.97M1844.76 243.69L1947.33 242.46L2049.90 241.30L2152.47 240.19L2255.04 239.15L2357.61 238.17L2460.18 237.26L2562.75 236.40L2665.32 235.61M1844.76 259.36L1947.33 258.13L2049.90 256.96L2152.47 255.86L2255.04 254.82L2357.61 253.84L2460.18 252.92L2562.75 252.07L2665.32 251.28M1844.76 280.13L1947.33 278.90L2049.90 277.73L2152.47 276.63L2255.04 275.59L2357.61 274.61L2460.18 273.69L2562.75 272.84L2665.32 272.05M1844.76 295.79L1947.33 294.57L2049.90 293.40L2152.47 292.30L2255.04 291.25L2357.61 290.28L2460.18 289.36L2562.75 288.51L2665.32 287.72M1844.76 328.82L1947.33 327.71L2049.90 326.66L2152.47 325.68L2255.04 324.76L2357.61 323.90L2460.18 323.11L2562.75 322.38L2665.32 321.71M1844.76 344.48L1947.33 343.38L2049.90 342.33L2152.47 341.35L2255.04 340.43L2357.61 339.57L2460.18 338.78L2562.75 338.05L2665.32 337.38M1844.76 365.25L1947.33 364.15L2049.90 363.10L2152.47 362.12L2255.04 361.20L2357.61 360.34L2460.18 359.55L2562.75 358.82L2665.32 358.15M1844.76 380.92L1947.33 379.81L2049.90 378.77L2152.47 377.79L2255.04 376.87L2357.61 376.01L2460.18 375.21L2562.75 374.48L2665.32 373.81M1844.76 424.04L1947.33 423.18L2049.90 422.38L2152.47 421.64L2255.04 420.96L2357.61 420.34L2460.18 419.79L2562.75 419.30L2665.32 418.87M1844.76 439.71L1947.33 438.85L2049.90 438.04L2152.47 437.30L2255.04 436.62L2357.61 436.01L2460.18 435.46L2562.75 434.97L2665.32 434.54M1844.76 460.80L1947.33 459.90L2049.90 459.06L2152.47 458.27L2255.04 457.56L2357.61 456.90L2460.18 456.31L2562.75 455.78L2665.32 455.31M1844.76 476.47L1947.33 475.57L2049.90 474.72L2152.47 473.94L2255.04 473.22L2357.61 472.57L2460.18 471.98L2562.75 471.45L2665.32 470.98M1844.76 532.71L1947.33 531.93L2049.90 531.20L2152.47 530.54L2255.04 529.95L2357.61 529.41L2460.18 528.94L2562.75 528.53L2665.32 528.19M1844.76 548.38L1947.33 547.59L2049.90 546.87L2152.47 546.21L2255.04 545.61L2357.61 545.08L2460.18 544.61L2562.75 544.20L2665.32 543.85M1844.76 570.18L1947.33 569.32L2049.90 568.51L2152.47 567.77L2255.04 567.10L2357.61 566.48L2460.18 565.93L2562.75 565.44L2665.32 565.01M1844.76 585.85L1947.33 584.98L2049.90 584.18L2152.47 583.44L2255.04 582.76L2357.61 582.15L2460.18 581.60L2562.75 581.11L2665.32 580.68M1844.76 657.56L1947.33 656.90L2049.90 656.30L2152.47 655.76L2255.04 655.29L2357.61 654.87L2460.18 654.52L2562.75 654.24L2665.32 654.01M1844.76 673.23L1947.33 672.57L2049.90 671.97L2152.47 671.43L2255.04 670.95L2357.61 670.54L2460.18 670.19L2562.75 669.90L2665.32 669.68M1844.76 695.29L1947.33 694.55L2049.90 693.87L2152.47 693.25L2255.04 692.69L2357.61 692.20L2460.18 691.77L2562.75 691.40L2665.32 691.09M1844.76 710.96L1947.33 710.22L2049.90 709.53L2152.47 708.92L2255.04 708.36L2357.61 707.86L2460.18 707.43L2562.75 707.07L2665.32 706.76" stroke="#fff" stroke-width="2.7" fill="none" stroke-dasharray="10.0 10.0"/></g><g shape-rendering="crispEdges" fill="none"><rect x="1844.5" y="99.5" width="821" height="714" stroke="#2a2a2a" stroke-width="1"/><rect x="1845.5" y="100.5" width="819" height="712" stroke="#040404" stroke-width="1"/></g><path shape-rendering="crispEdges" d="M1844 814h1v6h-1zM1845 814h1v6h-1zM1944 814h1v6h-1zM1945 814h1v6h-1zM2044 814h1v6h-1zM2045 814h1v6h-1zM2144 814h1v6h-1zM2145 814h1v6h-1zM2245 814h1v6h-1zM2246 814h1v6h-1zM2345 814h1v6h-1zM2346 814h1v6h-1zM2445 814h1v6h-1zM2446 814h1v6h-1zM2545 814h1v6h-1zM2546 814h1v6h-1zM2646 814h1v6h-1zM2647 814h1v6h-1zM1838 115h6v1h-6zM1838 116h6v1h-6zM1838 202h6v1h-6zM1838 203h6v1h-6zM1838 289h6v1h-6zM1838 290h6v1h-6zM1838 376h6v1h-6zM1838 377h6v1h-6zM1838 463h6v1h-6zM1838 464h6v1h-6zM1838 550h6v1h-6zM1838 551h6v1h-6zM1838 637h6v1h-6zM1838 638h6v1h-6zM1838 724h6v1h-6zM1838 725h6v1h-6zM1838 811h6v1h-6zM1838 812h6v1h-6z" fill="#2a2a2a"/><path shape-rendering="crispEdges" d="M1844 813h1v1h-1zM1845 813h1v1h-1zM1944 813h1v1h-1zM1945 813h1v1h-1zM2044 813h1v1h-1zM2045 813h1v1h-1zM2144 813h1v1h-1zM2145 813h1v1h-1zM2245 813h1v1h-1zM2246 813h1v1h-1zM2345 813h1v1h-1zM2346 813h1v1h-1zM2445 813h1v1h-1zM2446 813h1v1h-1zM2545 813h1v1h-1zM2546 813h1v1h-1zM2646 813h1v1h-1zM2647 813h1v1h-1zM1844 115h1v1h-1zM1844 116h1v1h-1zM1844 202h1v1h-1zM1844 203h1v1h-1zM1844 289h1v1h-1zM1844 290h1v1h-1zM1844 376h1v1h-1zM1844 377h1v1h-1zM1844 463h1v1h-1zM1844 464h1v1h-1zM1844 550h1v1h-1zM1844 551h1v1h-1zM1844 637h1v1h-1zM1844 638h1v1h-1zM1844 724h1v1h-1zM1844 725h1v1h-1zM1844 811h1v1h-1zM1844 812h1v1h-1z" fill="#070707"/></svg>
<div style="position:absolute;left:0;top:0;width:2700px;height:900px;will-change:transform"><div class="t" style="left:1041.0px;top:16.5px;font-size:22.0px;letter-spacing:0.452px;">rho01_Cnc_L3302_2022-01-02_05162</div><div class="t" style="left:1449.0px;top:16.0px;font-size:22.0px;letter-spacing:1.056px;">(extract_height=45)</div><div class="t" style="left:493.0px;top:65.0px;font-size:26.1px;letter-spacing:-1.0px;">CHIP1</div><div class="t" style="left:1355.0px;top:65.0px;font-size:26.1px;letter-spacing:-1.25px;">CHIP2</div><div class="t" style="left:2218.0px;top:65.0px;font-size:26.1px;letter-spacing:-1.0px;">CHIP3</div><div class="t" style="left:21.5px;top:482.0px;font-size:21.6px;letter-spacing:0.75px;transform:rotate(-90deg);transform-origin:0 0;">pixel</div><div class="t" style="left:507.0px;top:853.5px;font-size:21.6px;letter-spacing:0.75px;">pixel</div><div class="t" style="left:1369.0px;top:853.5px;font-size:21.6px;letter-spacing:0.75px;">pixel</div><div class="t" style="left:2232.0px;top:853.5px;font-size:21.6px;letter-spacing:0.75px;">pixel</div><div class="t" style="left:92.0px;top:801.5px;font-size:23.3px;letter-spacing:0.0px;">0</div><div class="t" style="left:65.0px;top:714.5px;font-size:23.3px;letter-spacing:-0.5px;">250</div><div class="t" style="left:66.0px;top:627.5px;font-size:23.3px;letter-spacing:-1.0px;">500</div><div class="t" style="left:67.0px;top:540.5px;font-size:23.3px;letter-spacing:-1.0px;">750</div><div class="t" style="left:52.0px;top:453.5px;font-size:23.3px;letter-spacing:0.0px;">1000</div><div class="t" style="left:52.0px;top:366.5px;font-size:23.3px;letter-spacing:0.0px;">1250</div><div class="t" style="left:52.0px;top:279.5px;font-size:23.3px;letter-spacing:0.0px;">1500</div><div class="t" style="left:52.0px;top:192.5px;font-size:23.3px;letter-spacing:0.0px;">1750</div><div class="t" style="left:52.0px;top:105.5px;font-size:23.3px;letter-spacing:0.0px;">2000</div><div class="t" style="left:113.0px;top:824.5px;font-size:23.3px;letter-spacing:0.0px;">0</div><div class="t" style="left:976.0px;top:824.5px;font-size:23.3px;letter-spacing:0.0px;">0</div><div class="t" style="left:1839.0px;top:824.5px;font-size:23.3px;letter-spacing:0.0px;">0</div><div class="t" style="left:200.0px;top:824.5px;font-size:23.3px;letter-spacing:-0.5px;">250</div><div class="t" style="left:1063.0px;top:824.5px;font-size:23.3px;letter-spacing:-0.5px;">250</div><div class="t" style="left:1926.0px;top:824.5px;font-size:23.3px;letter-spacing:-0.5px;">250</div><div class="t" style="left:301.0px;top:824.5px;font-size:23.3px;letter-spacing:-1.0px;">500</div><div class="t" style="left:1164.0px;top:824.5px;font-size:23.3px;letter-spacing:-1.0px;">500</div><div class="t" style="left:2027.0px;top:824.5px;font-size:23.3px;letter-spacing:-1.0px;">500</div><div class="t" style="left:402.0px;top:824.5px;font-size:23.3px;letter-spacing:-1.0px;">750</div><div class="t" style="left:1265.0px;top:824.5px;font-size:23.3px;letter-spacing:-1.0px;">750</div><div class="t" style="left:2127.0px;top:824.5px;font-size:23.3px;letter-spacing:-1.0px;">750</div><div class="t" style="left:494.0px;top:824.5px;font-size:23.3px;letter-spacing:0.0px;">1000</div><div class="t" style="left:1357.0px;top:824.5px;font-size:23.3px;letter-spacing:0.0px;">1000</div><div class="t" style="left:2219.0px;top:824.5px;font-size:23.3px;letter-spacing:0.0px;">1000</div><div class="t" style="left:594.0px;top:824.5px;font-size:23.3px;letter-spacing:0.0px;">1250</div><div class="t" style="left:1457.0px;top:824.5px;font-size:23.3px;letter-spacing:0.0px;">1250</div><div class="t" style="left:2320.0px;top:824.5px;font-size:23.3px;letter-spacing:0.0px;">1250</div><div class="t" style="left:694.0px;top:824.5px;font-size:23.3px;letter-spacing:0.0px;">1500</div><div class="t" style="left:1557.0px;top:824.5px;font-size:23.3px;letter-spacing:0.0px;">1500</div><div class="t" style="left:2420.0px;top:824.5px;font-size:23.3px;letter-spacing:0.0px;">1500</div><div class="t" style="left:795.0px;top:824.5px;font-size:23.3px;letter-spacing:0.0px;">1750</div><div class="t" style="left:1657.0px;top:824.5px;font-size:23.3px;letter-spacing:0.0px;">1750</div><div class="t" style="left:2520.0px;top:824.5px;font-size:23.3px;letter-spacing:0.0px;">1750</div><div class="t" style="left:895.0px;top:824.5px;font-size:23.3px;letter-spacing:0.0px;">2000</div><div class="t" style="left:1758.0px;top:824.5px;font-size:23.3px;letter-spacing:0.0px;">2000</div><div class="t" style="left:2620.0px;top:824.5px;font-size:23.3px;letter-spacing:0.0px;">2000</div></div>
</body></html>
